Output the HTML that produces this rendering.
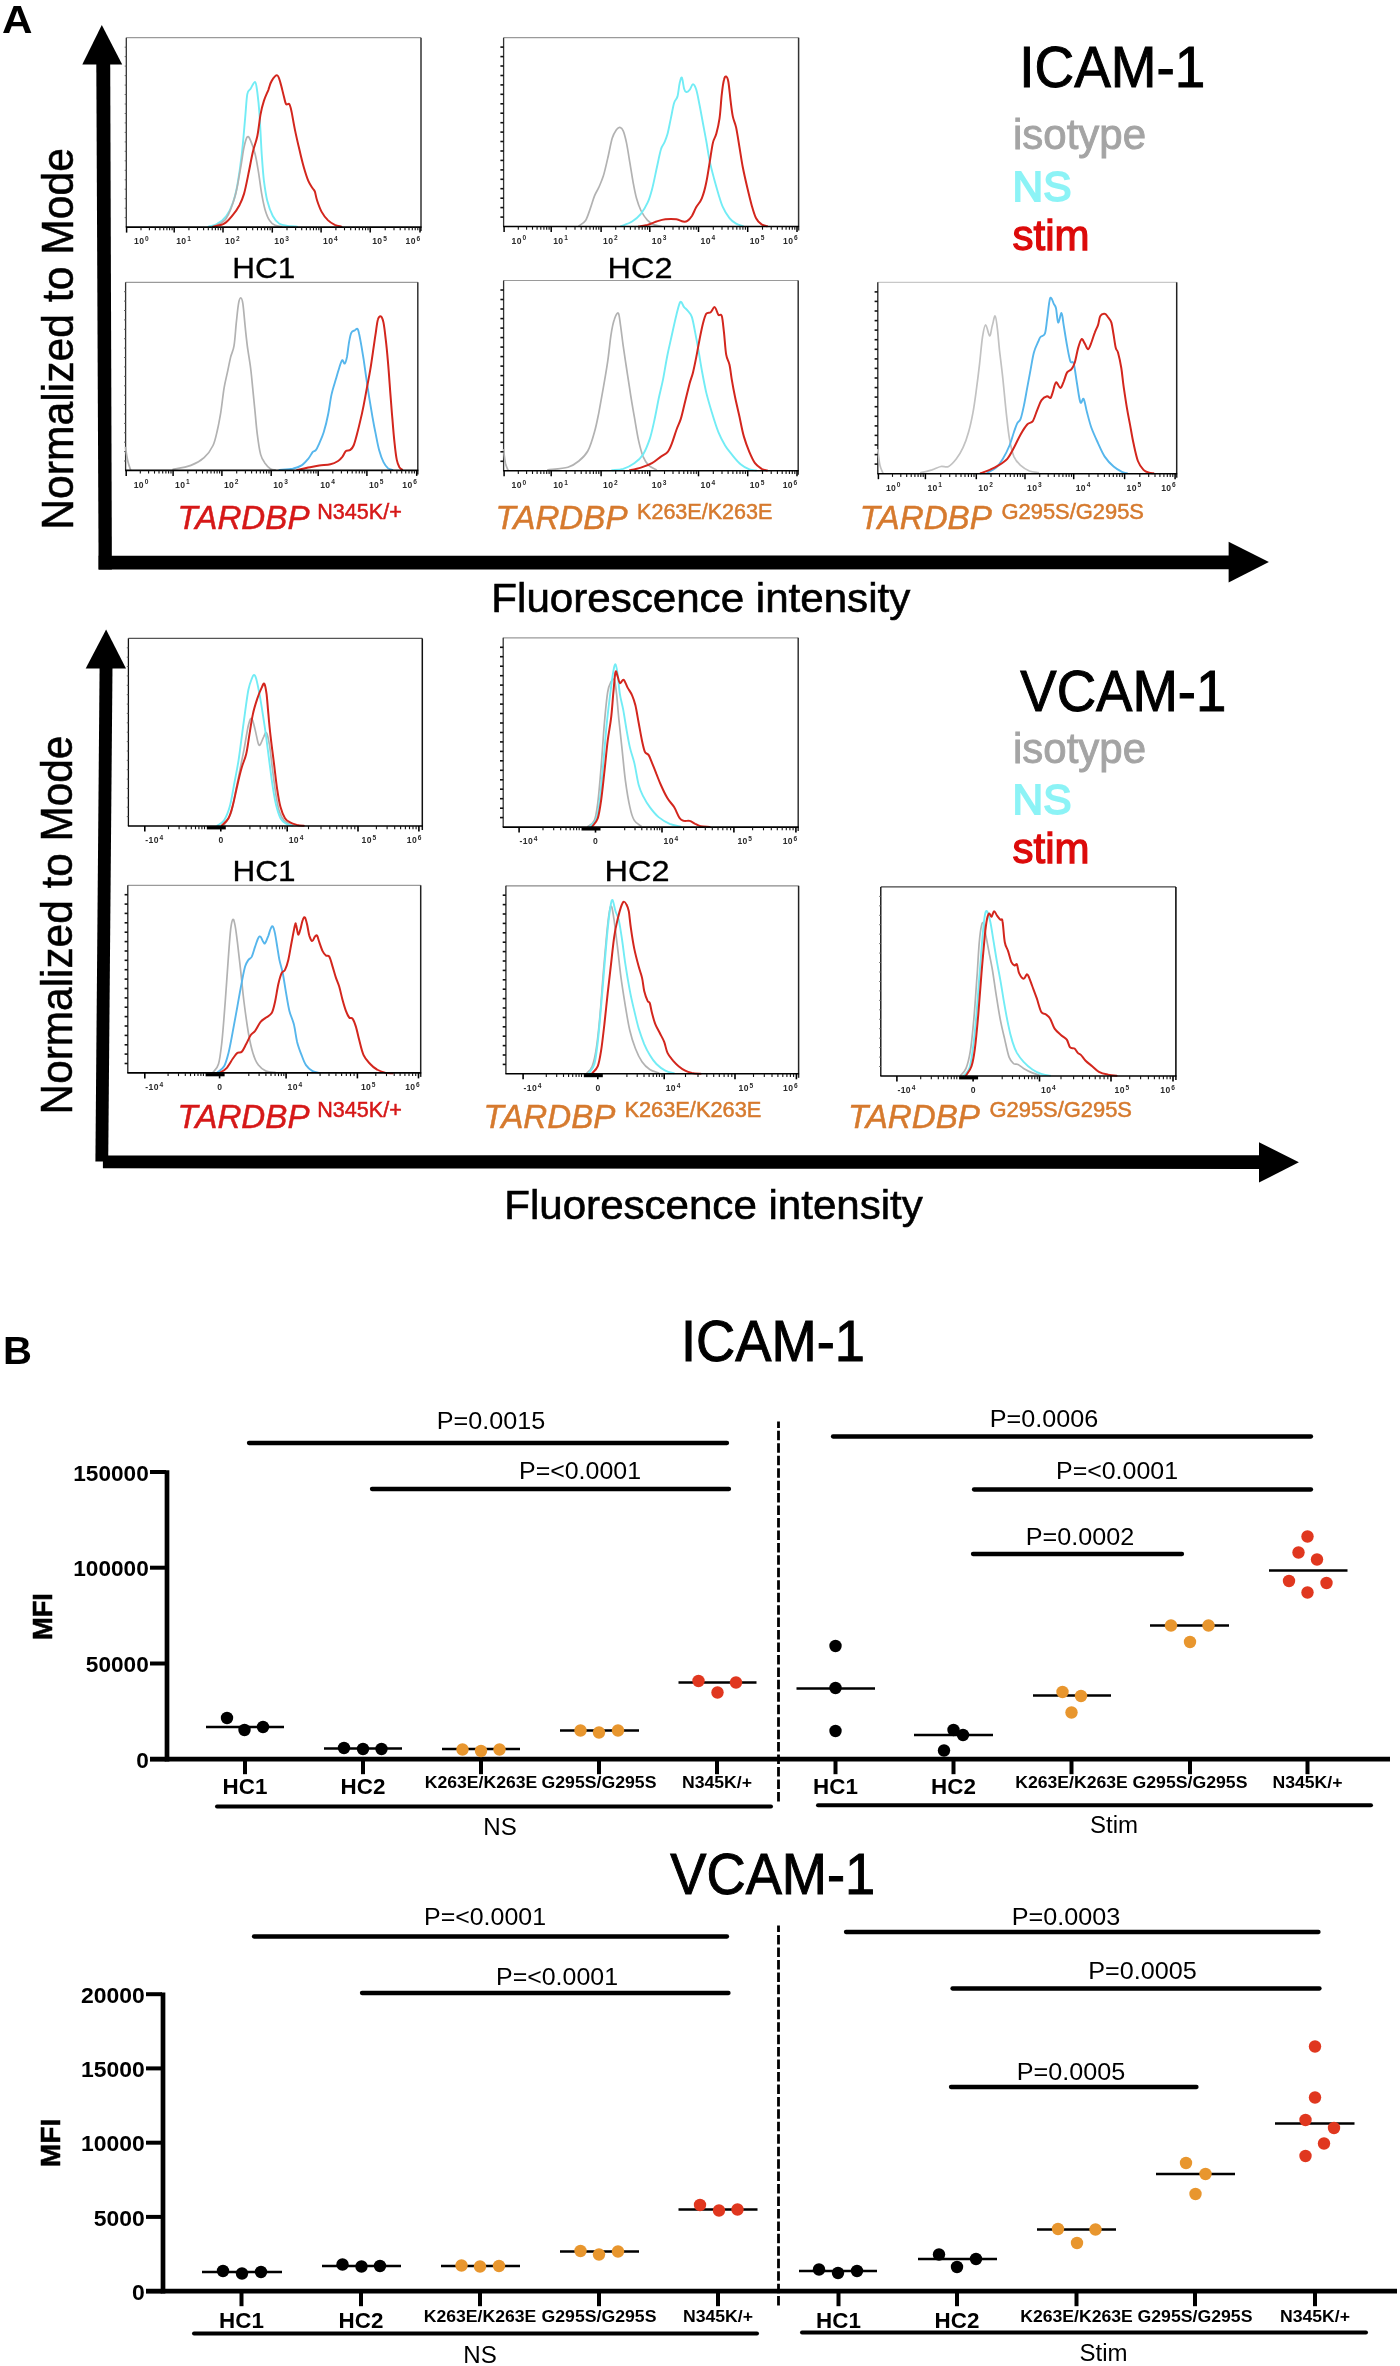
<!DOCTYPE html>
<html><head><meta charset="utf-8"><title>Figure</title>
<style>
html,body{margin:0;padding:0;background:#fff;}
body{width:1400px;height:2366px;overflow:hidden;font-family:"Liberation Sans",sans-serif;}
svg{display:block;filter:blur(0.45px);}
svg text{font-family:"Liberation Sans",sans-serif;}
</style></head><body>
<svg width="1400" height="2366" viewBox="0 0 1400 2366">
<rect x="0" y="0" width="1400" height="2366" fill="#ffffff"/>
<line x1="126.3" y1="37.7" x2="421.0" y2="37.7" stroke="#9a9a9a" stroke-width="1.2" stroke-linecap="butt" />
<line x1="126.3" y1="37.7" x2="126.3" y2="227.1" stroke="#333" stroke-width="1.3" stroke-linecap="butt" />
<line x1="421.0" y1="37.7" x2="421.0" y2="231.1" stroke="#333" stroke-width="1.5" stroke-linecap="butt" />
<path d="M208.6,226.6 C210.0,226.1 214.5,225.5 217.4,223.7 C220.4,222.0 223.7,219.5 226.3,216.0 C228.9,212.5 231.1,207.9 232.9,202.7 C234.8,197.5 235.9,193.1 237.4,185.0 C238.8,176.9 240.5,165.1 241.8,154.0 C243.1,142.9 244.2,128.5 245.1,118.6 C246.0,108.6 246.4,99.2 247.3,94.2 C248.2,89.2 249.4,90.7 250.6,88.7 C251.9,86.6 254.0,81.5 255.1,82.0 C256.2,82.6 256.5,86.6 257.3,92.0 C258.0,97.4 258.8,103.8 259.5,114.1 C260.2,124.5 261.0,142.9 261.7,154.0 C262.5,165.1 263.0,172.8 263.9,180.6 C264.9,188.3 265.8,194.6 267.2,200.5 C268.7,206.4 270.8,212.1 272.8,216.0 C274.8,219.9 276.8,222.1 279.4,223.7 C282.0,225.4 285.3,225.5 288.3,226.0 C291.2,226.4 295.7,226.5 297.1,226.6" fill="none" stroke="#72ecf5" stroke-width="1.9" stroke-linejoin="round" stroke-linecap="round"/>
<path d="M215.2,226.0 C217.1,224.7 223.0,223.2 226.3,218.2 C229.6,213.2 232.7,204.6 235.1,196.1 C237.5,187.6 239.2,175.4 240.7,167.3 C242.2,159.2 242.9,152.4 244.0,147.4 C245.1,142.3 246.2,138.1 247.3,136.9 C248.4,135.8 249.4,137.9 250.6,140.7 C251.9,143.6 253.8,148.8 255.1,154.0 C256.4,159.2 257.3,165.1 258.4,171.7 C259.5,178.4 260.6,187.6 261.7,193.9 C262.8,200.1 263.7,204.9 265.0,209.4 C266.3,213.8 267.8,217.8 269.5,220.4 C271.1,223.1 273.0,224.3 275.0,225.3 C277.0,226.3 280.5,226.4 281.6,226.6" fill="none" stroke="#b2b2b2" stroke-width="1.7" stroke-linejoin="round" stroke-linecap="round"/>
<path d="M213.0,226.6 C214.8,226.1 220.8,225.7 224.1,223.7 C227.4,221.8 230.3,218.0 232.9,214.9 C235.5,211.8 237.7,208.4 239.6,204.9 C241.4,201.4 242.5,199.0 244.0,193.9 C245.5,188.7 247.0,180.9 248.4,173.9 C249.9,166.9 251.4,158.1 252.9,151.8 C254.3,145.5 256.0,142.6 257.3,136.3 C258.6,130.0 259.5,120.0 260.6,114.1 C261.7,108.2 262.6,104.9 263.9,100.9 C265.2,96.8 267.1,93.1 268.4,89.8 C269.6,86.5 270.2,83.3 271.7,80.9 C273.2,78.5 275.7,75.0 277.2,75.4 C278.7,75.8 279.4,79.6 280.5,83.1 C281.6,86.6 282.9,92.9 283.9,96.4 C284.8,99.9 285.1,102.9 286.1,104.2 C287.0,105.5 288.5,102.9 289.4,104.2 C290.3,105.5 290.7,107.7 291.6,111.9 C292.5,116.2 293.6,123.4 294.9,129.6 C296.2,135.9 297.9,143.3 299.4,149.6 C300.8,155.8 302.3,162.1 303.8,167.3 C305.3,172.5 306.7,177.1 308.2,180.6 C309.7,184.1 311.5,186.5 312.6,188.3 C313.8,190.2 314.1,189.6 314.9,191.6 C315.6,193.7 316.0,197.2 317.1,200.5 C318.2,203.8 319.7,208.2 321.5,211.6 C323.3,214.9 325.9,218.2 328.1,220.4 C330.4,222.6 332.6,223.8 334.8,224.9 C337.0,225.9 340.3,226.3 341.4,226.6" fill="none" stroke="#d3261d" stroke-width="2.0" stroke-linejoin="round" stroke-linecap="round"/>
<line x1="125.8" y1="227.1" x2="421.5" y2="227.1" stroke="#000" stroke-width="1.6" stroke-linecap="butt" />
<line x1="124.7" y1="217.6" x2="126.3" y2="217.6" stroke="#666" stroke-width="1.0" stroke-linecap="butt" />
<line x1="124.7" y1="208.2" x2="126.3" y2="208.2" stroke="#666" stroke-width="1.0" stroke-linecap="butt" />
<line x1="124.7" y1="198.7" x2="126.3" y2="198.7" stroke="#666" stroke-width="1.0" stroke-linecap="butt" />
<line x1="124.7" y1="189.2" x2="126.3" y2="189.2" stroke="#666" stroke-width="1.0" stroke-linecap="butt" />
<line x1="124.7" y1="179.8" x2="126.3" y2="179.8" stroke="#666" stroke-width="1.0" stroke-linecap="butt" />
<line x1="124.7" y1="170.3" x2="126.3" y2="170.3" stroke="#666" stroke-width="1.0" stroke-linecap="butt" />
<line x1="124.7" y1="160.8" x2="126.3" y2="160.8" stroke="#666" stroke-width="1.0" stroke-linecap="butt" />
<line x1="124.7" y1="151.3" x2="126.3" y2="151.3" stroke="#666" stroke-width="1.0" stroke-linecap="butt" />
<line x1="124.7" y1="141.9" x2="126.3" y2="141.9" stroke="#666" stroke-width="1.0" stroke-linecap="butt" />
<line x1="124.7" y1="132.4" x2="126.3" y2="132.4" stroke="#666" stroke-width="1.0" stroke-linecap="butt" />
<line x1="124.7" y1="122.9" x2="126.3" y2="122.9" stroke="#666" stroke-width="1.0" stroke-linecap="butt" />
<line x1="124.7" y1="113.5" x2="126.3" y2="113.5" stroke="#666" stroke-width="1.0" stroke-linecap="butt" />
<line x1="124.7" y1="104.0" x2="126.3" y2="104.0" stroke="#666" stroke-width="1.0" stroke-linecap="butt" />
<line x1="124.7" y1="94.5" x2="126.3" y2="94.5" stroke="#666" stroke-width="1.0" stroke-linecap="butt" />
<line x1="124.7" y1="85.1" x2="126.3" y2="85.1" stroke="#666" stroke-width="1.0" stroke-linecap="butt" />
<line x1="124.7" y1="75.6" x2="126.3" y2="75.6" stroke="#666" stroke-width="1.0" stroke-linecap="butt" />
<line x1="124.7" y1="66.1" x2="126.3" y2="66.1" stroke="#666" stroke-width="1.0" stroke-linecap="butt" />
<line x1="124.7" y1="56.6" x2="126.3" y2="56.6" stroke="#666" stroke-width="1.0" stroke-linecap="butt" />
<line x1="124.7" y1="47.2" x2="126.3" y2="47.2" stroke="#666" stroke-width="1.0" stroke-linecap="butt" />
<line x1="126.6" y1="227.1" x2="126.6" y2="232.6" stroke="#000" stroke-width="1.5" stroke-linecap="butt" />
<line x1="141.0" y1="227.1" x2="141.0" y2="230.3" stroke="#111" stroke-width="1.1" stroke-linecap="butt" />
<line x1="149.4" y1="227.1" x2="149.4" y2="230.3" stroke="#111" stroke-width="1.1" stroke-linecap="butt" />
<line x1="155.3" y1="227.1" x2="155.3" y2="230.3" stroke="#111" stroke-width="1.1" stroke-linecap="butt" />
<line x1="159.9" y1="227.1" x2="159.9" y2="230.3" stroke="#111" stroke-width="1.1" stroke-linecap="butt" />
<line x1="163.7" y1="227.1" x2="163.7" y2="230.3" stroke="#111" stroke-width="1.1" stroke-linecap="butt" />
<line x1="166.9" y1="227.1" x2="166.9" y2="230.3" stroke="#111" stroke-width="1.1" stroke-linecap="butt" />
<line x1="169.6" y1="227.1" x2="169.6" y2="230.3" stroke="#111" stroke-width="1.1" stroke-linecap="butt" />
<line x1="172.1" y1="227.1" x2="172.1" y2="230.3" stroke="#111" stroke-width="1.1" stroke-linecap="butt" />
<line x1="174.2" y1="227.1" x2="174.2" y2="232.6" stroke="#000" stroke-width="1.5" stroke-linecap="butt" />
<line x1="188.9" y1="227.1" x2="188.9" y2="230.3" stroke="#111" stroke-width="1.1" stroke-linecap="butt" />
<line x1="197.5" y1="227.1" x2="197.5" y2="230.3" stroke="#111" stroke-width="1.1" stroke-linecap="butt" />
<line x1="203.6" y1="227.1" x2="203.6" y2="230.3" stroke="#111" stroke-width="1.1" stroke-linecap="butt" />
<line x1="208.3" y1="227.1" x2="208.3" y2="230.3" stroke="#111" stroke-width="1.1" stroke-linecap="butt" />
<line x1="212.2" y1="227.1" x2="212.2" y2="230.3" stroke="#111" stroke-width="1.1" stroke-linecap="butt" />
<line x1="215.4" y1="227.1" x2="215.4" y2="230.3" stroke="#111" stroke-width="1.1" stroke-linecap="butt" />
<line x1="218.2" y1="227.1" x2="218.2" y2="230.3" stroke="#111" stroke-width="1.1" stroke-linecap="butt" />
<line x1="220.7" y1="227.1" x2="220.7" y2="230.3" stroke="#111" stroke-width="1.1" stroke-linecap="butt" />
<line x1="223.0" y1="227.1" x2="223.0" y2="232.6" stroke="#000" stroke-width="1.5" stroke-linecap="butt" />
<line x1="237.8" y1="227.1" x2="237.8" y2="230.3" stroke="#111" stroke-width="1.1" stroke-linecap="butt" />
<line x1="246.5" y1="227.1" x2="246.5" y2="230.3" stroke="#111" stroke-width="1.1" stroke-linecap="butt" />
<line x1="252.7" y1="227.1" x2="252.7" y2="230.3" stroke="#111" stroke-width="1.1" stroke-linecap="butt" />
<line x1="257.5" y1="227.1" x2="257.5" y2="230.3" stroke="#111" stroke-width="1.1" stroke-linecap="butt" />
<line x1="261.4" y1="227.1" x2="261.4" y2="230.3" stroke="#111" stroke-width="1.1" stroke-linecap="butt" />
<line x1="264.7" y1="227.1" x2="264.7" y2="230.3" stroke="#111" stroke-width="1.1" stroke-linecap="butt" />
<line x1="267.6" y1="227.1" x2="267.6" y2="230.3" stroke="#111" stroke-width="1.1" stroke-linecap="butt" />
<line x1="270.1" y1="227.1" x2="270.1" y2="230.3" stroke="#111" stroke-width="1.1" stroke-linecap="butt" />
<line x1="272.3" y1="227.1" x2="272.3" y2="232.6" stroke="#000" stroke-width="1.5" stroke-linecap="butt" />
<line x1="287.0" y1="227.1" x2="287.0" y2="230.3" stroke="#111" stroke-width="1.1" stroke-linecap="butt" />
<line x1="295.6" y1="227.1" x2="295.6" y2="230.3" stroke="#111" stroke-width="1.1" stroke-linecap="butt" />
<line x1="301.7" y1="227.1" x2="301.7" y2="230.3" stroke="#111" stroke-width="1.1" stroke-linecap="butt" />
<line x1="306.4" y1="227.1" x2="306.4" y2="230.3" stroke="#111" stroke-width="1.1" stroke-linecap="butt" />
<line x1="310.2" y1="227.1" x2="310.2" y2="230.3" stroke="#111" stroke-width="1.1" stroke-linecap="butt" />
<line x1="313.5" y1="227.1" x2="313.5" y2="230.3" stroke="#111" stroke-width="1.1" stroke-linecap="butt" />
<line x1="316.3" y1="227.1" x2="316.3" y2="230.3" stroke="#111" stroke-width="1.1" stroke-linecap="butt" />
<line x1="318.8" y1="227.1" x2="318.8" y2="230.3" stroke="#111" stroke-width="1.1" stroke-linecap="butt" />
<line x1="321.1" y1="227.1" x2="321.1" y2="232.6" stroke="#000" stroke-width="1.5" stroke-linecap="butt" />
<line x1="335.9" y1="227.1" x2="335.9" y2="230.3" stroke="#111" stroke-width="1.1" stroke-linecap="butt" />
<line x1="344.5" y1="227.1" x2="344.5" y2="230.3" stroke="#111" stroke-width="1.1" stroke-linecap="butt" />
<line x1="350.7" y1="227.1" x2="350.7" y2="230.3" stroke="#111" stroke-width="1.1" stroke-linecap="butt" />
<line x1="355.4" y1="227.1" x2="355.4" y2="230.3" stroke="#111" stroke-width="1.1" stroke-linecap="butt" />
<line x1="359.3" y1="227.1" x2="359.3" y2="230.3" stroke="#111" stroke-width="1.1" stroke-linecap="butt" />
<line x1="362.6" y1="227.1" x2="362.6" y2="230.3" stroke="#111" stroke-width="1.1" stroke-linecap="butt" />
<line x1="365.5" y1="227.1" x2="365.5" y2="230.3" stroke="#111" stroke-width="1.1" stroke-linecap="butt" />
<line x1="368.0" y1="227.1" x2="368.0" y2="230.3" stroke="#111" stroke-width="1.1" stroke-linecap="butt" />
<line x1="370.2" y1="227.1" x2="370.2" y2="232.6" stroke="#000" stroke-width="1.5" stroke-linecap="butt" />
<line x1="385.2" y1="227.1" x2="385.2" y2="230.3" stroke="#111" stroke-width="1.1" stroke-linecap="butt" />
<line x1="394.0" y1="227.1" x2="394.0" y2="230.3" stroke="#111" stroke-width="1.1" stroke-linecap="butt" />
<line x1="400.2" y1="227.1" x2="400.2" y2="230.3" stroke="#111" stroke-width="1.1" stroke-linecap="butt" />
<line x1="405.0" y1="227.1" x2="405.0" y2="230.3" stroke="#111" stroke-width="1.1" stroke-linecap="butt" />
<line x1="409.0" y1="227.1" x2="409.0" y2="230.3" stroke="#111" stroke-width="1.1" stroke-linecap="butt" />
<line x1="412.3" y1="227.1" x2="412.3" y2="230.3" stroke="#111" stroke-width="1.1" stroke-linecap="butt" />
<line x1="415.2" y1="227.1" x2="415.2" y2="230.3" stroke="#111" stroke-width="1.1" stroke-linecap="butt" />
<line x1="417.8" y1="227.1" x2="417.8" y2="230.3" stroke="#111" stroke-width="1.1" stroke-linecap="butt" />
<line x1="420.0" y1="227.1" x2="420.0" y2="232.6" stroke="#000" stroke-width="1.5" stroke-linecap="butt" />
<text x="134.1" y="244.2" font-size="8.6" fill="#2a2a2a" text-anchor="start" font-weight="bold" letter-spacing="0.4">10<tspan font-size="6.6" dy="-3.4" dx="0.6">0</tspan></text>
<text x="176.2" y="244.2" font-size="8.6" fill="#2a2a2a" text-anchor="start" font-weight="bold" letter-spacing="0.4">10<tspan font-size="6.6" dy="-3.4" dx="0.6">1</tspan></text>
<text x="225.0" y="244.2" font-size="8.6" fill="#2a2a2a" text-anchor="start" font-weight="bold" letter-spacing="0.4">10<tspan font-size="6.6" dy="-3.4" dx="0.6">2</tspan></text>
<text x="274.3" y="244.2" font-size="8.6" fill="#2a2a2a" text-anchor="start" font-weight="bold" letter-spacing="0.4">10<tspan font-size="6.6" dy="-3.4" dx="0.6">3</tspan></text>
<text x="323.1" y="244.2" font-size="8.6" fill="#2a2a2a" text-anchor="start" font-weight="bold" letter-spacing="0.4">10<tspan font-size="6.6" dy="-3.4" dx="0.6">4</tspan></text>
<text x="372.2" y="244.2" font-size="8.6" fill="#2a2a2a" text-anchor="start" font-weight="bold" letter-spacing="0.4">10<tspan font-size="6.6" dy="-3.4" dx="0.6">5</tspan></text>
<text x="420.5" y="244.2" font-size="8.6" fill="#2a2a2a" text-anchor="end" font-weight="bold" letter-spacing="0.4">10<tspan font-size="6.6" dy="-3.4" dx="0.6">6</tspan></text>
<line x1="503.6" y1="37.7" x2="798.6" y2="37.7" stroke="#9a9a9a" stroke-width="1.2" stroke-linecap="butt" />
<line x1="503.6" y1="37.7" x2="503.6" y2="226.5" stroke="#333" stroke-width="1.3" stroke-linecap="butt" />
<line x1="798.6" y1="37.7" x2="798.6" y2="230.5" stroke="#333" stroke-width="1.5" stroke-linecap="butt" />
<path d="M578.9,226.0 C580.0,225.0 583.7,223.2 585.6,220.4 C587.4,217.7 588.5,213.4 590.0,209.4 C591.5,205.3 593.0,199.8 594.4,196.1 C595.9,192.4 597.4,190.5 598.9,187.2 C600.3,183.9 601.8,180.9 603.3,176.1 C604.8,171.3 606.2,164.7 607.7,158.4 C609.2,152.2 610.7,143.3 612.1,138.5 C613.6,133.7 615.3,131.5 616.6,129.6 C617.9,127.8 618.8,127.2 619.9,127.4 C621.0,127.6 622.1,128.2 623.2,130.8 C624.3,133.3 625.4,137.6 626.5,142.9 C627.6,148.3 628.8,156.2 629.9,162.9 C631.0,169.5 632.1,176.9 633.2,182.8 C634.3,188.7 635.2,193.7 636.5,198.3 C637.8,202.9 639.1,206.8 640.9,210.5 C642.8,214.2 645.4,218.0 647.6,220.4 C649.8,222.8 652.0,223.9 654.2,224.9 C656.4,225.8 659.8,226.0 660.9,226.2" fill="none" stroke="#b2b2b2" stroke-width="1.7" stroke-linejoin="round" stroke-linecap="round"/>
<path d="M621.0,226.2 C622.8,225.4 628.8,223.6 632.1,221.5 C635.4,219.5 638.3,216.9 640.9,213.8 C643.5,210.6 645.7,206.8 647.6,202.7 C649.4,198.7 650.5,195.0 652.0,189.4 C653.5,183.9 655.0,176.1 656.4,169.5 C657.9,162.9 659.6,154.0 660.9,149.6 C662.1,145.1 663.1,145.5 664.2,142.9 C665.3,140.3 666.4,138.1 667.5,134.1 C668.6,130.0 669.7,123.7 670.8,118.6 C671.9,113.4 673.0,106.8 674.1,103.1 C675.2,99.4 676.5,99.7 677.5,96.4 C678.4,93.1 678.9,86.3 679.7,83.1 C680.4,80.0 681.2,76.7 681.9,77.6 C682.6,78.5 683.4,86.3 684.1,88.7 C684.8,91.1 685.4,91.8 686.3,92.0 C687.2,92.2 688.5,91.1 689.6,89.8 C690.8,88.5 691.9,84.2 693.0,84.2 C694.1,84.2 695.2,86.3 696.3,89.8 C697.4,93.3 698.5,99.8 699.6,105.3 C700.7,110.8 701.8,117.1 702.9,123.0 C704.0,128.9 705.1,134.4 706.2,140.7 C707.4,147.0 708.3,154.4 709.6,160.6 C710.9,166.9 712.5,172.8 714.0,178.4 C715.5,183.9 717.0,189.1 718.4,193.9 C719.9,198.7 721.0,203.1 722.9,207.1 C724.7,211.2 727.3,215.4 729.5,218.2 C731.7,221.0 733.9,222.5 736.1,223.7 C738.4,225.0 741.7,225.6 742.8,226.0" fill="none" stroke="#72ecf5" stroke-width="1.9" stroke-linejoin="round" stroke-linecap="round"/>
<path d="M638.7,226.6 C640.2,226.3 644.6,225.7 647.6,224.9 C650.5,224.0 653.5,222.5 656.4,221.5 C659.4,220.6 662.0,219.7 665.3,219.3 C668.6,219.0 673.4,219.0 676.4,219.3 C679.3,219.7 681.2,221.3 683.0,221.5 C684.8,221.8 686.0,221.8 687.4,220.9 C688.9,219.9 690.4,218.3 691.9,216.0 C693.3,213.7 694.6,210.1 696.3,207.1 C697.9,204.2 700.2,202.3 701.8,198.3 C703.5,194.2 705.0,188.7 706.2,182.8 C707.5,176.9 708.5,169.5 709.6,162.9 C710.7,156.2 711.8,147.7 712.9,142.9 C714.0,138.1 715.1,138.1 716.2,134.1 C717.3,130.0 718.6,125.2 719.5,118.6 C720.5,111.9 721.0,100.7 721.8,94.2 C722.5,87.8 723.2,82.8 724.0,79.8 C724.7,76.9 725.4,76.1 726.2,76.5 C726.9,76.9 727.7,78.0 728.4,82.0 C729.1,86.1 729.9,95.1 730.6,100.9 C731.3,106.6 731.9,111.9 732.8,116.4 C733.7,120.8 735.0,122.3 736.1,127.4 C737.2,132.6 738.4,140.7 739.5,147.4 C740.6,154.0 741.5,160.6 742.8,167.3 C744.1,173.9 745.7,180.9 747.2,187.2 C748.7,193.5 750.2,199.8 751.6,204.9 C753.1,210.1 754.4,215.0 756.1,218.2 C757.7,221.5 759.8,223.1 761.6,224.4 C763.5,225.7 766.2,225.9 767.1,226.2" fill="none" stroke="#d3261d" stroke-width="2.0" stroke-linejoin="round" stroke-linecap="round"/>
<line x1="503.1" y1="226.5" x2="799.1" y2="226.5" stroke="#000" stroke-width="1.6" stroke-linecap="butt" />
<line x1="500.4" y1="217.1" x2="503.6" y2="217.1" stroke="#111" stroke-width="1.6" stroke-linecap="butt" />
<line x1="500.4" y1="207.6" x2="503.6" y2="207.6" stroke="#111" stroke-width="1.6" stroke-linecap="butt" />
<line x1="500.4" y1="198.2" x2="503.6" y2="198.2" stroke="#111" stroke-width="1.6" stroke-linecap="butt" />
<line x1="500.4" y1="188.7" x2="503.6" y2="188.7" stroke="#111" stroke-width="1.6" stroke-linecap="butt" />
<line x1="500.4" y1="179.3" x2="503.6" y2="179.3" stroke="#111" stroke-width="1.6" stroke-linecap="butt" />
<line x1="500.4" y1="169.9" x2="503.6" y2="169.9" stroke="#111" stroke-width="1.6" stroke-linecap="butt" />
<line x1="500.4" y1="160.4" x2="503.6" y2="160.4" stroke="#111" stroke-width="1.6" stroke-linecap="butt" />
<line x1="500.4" y1="151.0" x2="503.6" y2="151.0" stroke="#111" stroke-width="1.6" stroke-linecap="butt" />
<line x1="500.4" y1="141.5" x2="503.6" y2="141.5" stroke="#111" stroke-width="1.6" stroke-linecap="butt" />
<line x1="500.4" y1="132.1" x2="503.6" y2="132.1" stroke="#111" stroke-width="1.6" stroke-linecap="butt" />
<line x1="500.4" y1="122.7" x2="503.6" y2="122.7" stroke="#111" stroke-width="1.6" stroke-linecap="butt" />
<line x1="500.4" y1="113.2" x2="503.6" y2="113.2" stroke="#111" stroke-width="1.6" stroke-linecap="butt" />
<line x1="500.4" y1="103.8" x2="503.6" y2="103.8" stroke="#111" stroke-width="1.6" stroke-linecap="butt" />
<line x1="500.4" y1="94.3" x2="503.6" y2="94.3" stroke="#111" stroke-width="1.6" stroke-linecap="butt" />
<line x1="500.4" y1="84.9" x2="503.6" y2="84.9" stroke="#111" stroke-width="1.6" stroke-linecap="butt" />
<line x1="500.4" y1="75.5" x2="503.6" y2="75.5" stroke="#111" stroke-width="1.6" stroke-linecap="butt" />
<line x1="500.4" y1="66.0" x2="503.6" y2="66.0" stroke="#111" stroke-width="1.6" stroke-linecap="butt" />
<line x1="500.4" y1="56.6" x2="503.6" y2="56.6" stroke="#111" stroke-width="1.6" stroke-linecap="butt" />
<line x1="500.4" y1="47.1" x2="503.6" y2="47.1" stroke="#111" stroke-width="1.6" stroke-linecap="butt" />
<line x1="504.1" y1="226.5" x2="504.1" y2="232.0" stroke="#000" stroke-width="1.5" stroke-linecap="butt" />
<line x1="518.3" y1="226.5" x2="518.3" y2="229.7" stroke="#111" stroke-width="1.1" stroke-linecap="butt" />
<line x1="526.6" y1="226.5" x2="526.6" y2="229.7" stroke="#111" stroke-width="1.1" stroke-linecap="butt" />
<line x1="532.5" y1="226.5" x2="532.5" y2="229.7" stroke="#111" stroke-width="1.1" stroke-linecap="butt" />
<line x1="537.1" y1="226.5" x2="537.1" y2="229.7" stroke="#111" stroke-width="1.1" stroke-linecap="butt" />
<line x1="540.8" y1="226.5" x2="540.8" y2="229.7" stroke="#111" stroke-width="1.1" stroke-linecap="butt" />
<line x1="543.9" y1="226.5" x2="543.9" y2="229.7" stroke="#111" stroke-width="1.1" stroke-linecap="butt" />
<line x1="546.7" y1="226.5" x2="546.7" y2="229.7" stroke="#111" stroke-width="1.1" stroke-linecap="butt" />
<line x1="549.1" y1="226.5" x2="549.1" y2="229.7" stroke="#111" stroke-width="1.1" stroke-linecap="butt" />
<line x1="551.2" y1="226.5" x2="551.2" y2="232.0" stroke="#000" stroke-width="1.5" stroke-linecap="butt" />
<line x1="566.2" y1="226.5" x2="566.2" y2="229.7" stroke="#111" stroke-width="1.1" stroke-linecap="butt" />
<line x1="575.0" y1="226.5" x2="575.0" y2="229.7" stroke="#111" stroke-width="1.1" stroke-linecap="butt" />
<line x1="581.2" y1="226.5" x2="581.2" y2="229.7" stroke="#111" stroke-width="1.1" stroke-linecap="butt" />
<line x1="586.1" y1="226.5" x2="586.1" y2="229.7" stroke="#111" stroke-width="1.1" stroke-linecap="butt" />
<line x1="590.0" y1="226.5" x2="590.0" y2="229.7" stroke="#111" stroke-width="1.1" stroke-linecap="butt" />
<line x1="593.4" y1="226.5" x2="593.4" y2="229.7" stroke="#111" stroke-width="1.1" stroke-linecap="butt" />
<line x1="596.2" y1="226.5" x2="596.2" y2="229.7" stroke="#111" stroke-width="1.1" stroke-linecap="butt" />
<line x1="598.8" y1="226.5" x2="598.8" y2="229.7" stroke="#111" stroke-width="1.1" stroke-linecap="butt" />
<line x1="601.1" y1="226.5" x2="601.1" y2="232.0" stroke="#000" stroke-width="1.5" stroke-linecap="butt" />
<line x1="615.7" y1="226.5" x2="615.7" y2="229.7" stroke="#111" stroke-width="1.1" stroke-linecap="butt" />
<line x1="624.3" y1="226.5" x2="624.3" y2="229.7" stroke="#111" stroke-width="1.1" stroke-linecap="butt" />
<line x1="630.4" y1="226.5" x2="630.4" y2="229.7" stroke="#111" stroke-width="1.1" stroke-linecap="butt" />
<line x1="635.1" y1="226.5" x2="635.1" y2="229.7" stroke="#111" stroke-width="1.1" stroke-linecap="butt" />
<line x1="639.0" y1="226.5" x2="639.0" y2="229.7" stroke="#111" stroke-width="1.1" stroke-linecap="butt" />
<line x1="642.2" y1="226.5" x2="642.2" y2="229.7" stroke="#111" stroke-width="1.1" stroke-linecap="butt" />
<line x1="645.1" y1="226.5" x2="645.1" y2="229.7" stroke="#111" stroke-width="1.1" stroke-linecap="butt" />
<line x1="647.6" y1="226.5" x2="647.6" y2="229.7" stroke="#111" stroke-width="1.1" stroke-linecap="butt" />
<line x1="649.8" y1="226.5" x2="649.8" y2="232.0" stroke="#000" stroke-width="1.5" stroke-linecap="butt" />
<line x1="664.5" y1="226.5" x2="664.5" y2="229.7" stroke="#111" stroke-width="1.1" stroke-linecap="butt" />
<line x1="673.0" y1="226.5" x2="673.0" y2="229.7" stroke="#111" stroke-width="1.1" stroke-linecap="butt" />
<line x1="679.1" y1="226.5" x2="679.1" y2="229.7" stroke="#111" stroke-width="1.1" stroke-linecap="butt" />
<line x1="683.8" y1="226.5" x2="683.8" y2="229.7" stroke="#111" stroke-width="1.1" stroke-linecap="butt" />
<line x1="687.7" y1="226.5" x2="687.7" y2="229.7" stroke="#111" stroke-width="1.1" stroke-linecap="butt" />
<line x1="691.0" y1="226.5" x2="691.0" y2="229.7" stroke="#111" stroke-width="1.1" stroke-linecap="butt" />
<line x1="693.8" y1="226.5" x2="693.8" y2="229.7" stroke="#111" stroke-width="1.1" stroke-linecap="butt" />
<line x1="696.3" y1="226.5" x2="696.3" y2="229.7" stroke="#111" stroke-width="1.1" stroke-linecap="butt" />
<line x1="698.5" y1="226.5" x2="698.5" y2="232.0" stroke="#000" stroke-width="1.5" stroke-linecap="butt" />
<line x1="713.3" y1="226.5" x2="713.3" y2="229.7" stroke="#111" stroke-width="1.1" stroke-linecap="butt" />
<line x1="722.0" y1="226.5" x2="722.0" y2="229.7" stroke="#111" stroke-width="1.1" stroke-linecap="butt" />
<line x1="728.1" y1="226.5" x2="728.1" y2="229.7" stroke="#111" stroke-width="1.1" stroke-linecap="butt" />
<line x1="732.9" y1="226.5" x2="732.9" y2="229.7" stroke="#111" stroke-width="1.1" stroke-linecap="butt" />
<line x1="736.8" y1="226.5" x2="736.8" y2="229.7" stroke="#111" stroke-width="1.1" stroke-linecap="butt" />
<line x1="740.0" y1="226.5" x2="740.0" y2="229.7" stroke="#111" stroke-width="1.1" stroke-linecap="butt" />
<line x1="742.9" y1="226.5" x2="742.9" y2="229.7" stroke="#111" stroke-width="1.1" stroke-linecap="butt" />
<line x1="745.4" y1="226.5" x2="745.4" y2="229.7" stroke="#111" stroke-width="1.1" stroke-linecap="butt" />
<line x1="747.7" y1="226.5" x2="747.7" y2="232.0" stroke="#000" stroke-width="1.5" stroke-linecap="butt" />
<line x1="762.5" y1="226.5" x2="762.5" y2="229.7" stroke="#111" stroke-width="1.1" stroke-linecap="butt" />
<line x1="771.2" y1="226.5" x2="771.2" y2="229.7" stroke="#111" stroke-width="1.1" stroke-linecap="butt" />
<line x1="777.4" y1="226.5" x2="777.4" y2="229.7" stroke="#111" stroke-width="1.1" stroke-linecap="butt" />
<line x1="782.2" y1="226.5" x2="782.2" y2="229.7" stroke="#111" stroke-width="1.1" stroke-linecap="butt" />
<line x1="786.1" y1="226.5" x2="786.1" y2="229.7" stroke="#111" stroke-width="1.1" stroke-linecap="butt" />
<line x1="789.4" y1="226.5" x2="789.4" y2="229.7" stroke="#111" stroke-width="1.1" stroke-linecap="butt" />
<line x1="792.3" y1="226.5" x2="792.3" y2="229.7" stroke="#111" stroke-width="1.1" stroke-linecap="butt" />
<line x1="794.8" y1="226.5" x2="794.8" y2="229.7" stroke="#111" stroke-width="1.1" stroke-linecap="butt" />
<line x1="797.0" y1="226.5" x2="797.0" y2="232.0" stroke="#000" stroke-width="1.5" stroke-linecap="butt" />
<text x="511.6" y="243.6" font-size="8.6" fill="#2a2a2a" text-anchor="start" font-weight="bold" letter-spacing="0.4">10<tspan font-size="6.6" dy="-3.4" dx="0.6">0</tspan></text>
<text x="553.2" y="243.6" font-size="8.6" fill="#2a2a2a" text-anchor="start" font-weight="bold" letter-spacing="0.4">10<tspan font-size="6.6" dy="-3.4" dx="0.6">1</tspan></text>
<text x="603.1" y="243.6" font-size="8.6" fill="#2a2a2a" text-anchor="start" font-weight="bold" letter-spacing="0.4">10<tspan font-size="6.6" dy="-3.4" dx="0.6">2</tspan></text>
<text x="651.8" y="243.6" font-size="8.6" fill="#2a2a2a" text-anchor="start" font-weight="bold" letter-spacing="0.4">10<tspan font-size="6.6" dy="-3.4" dx="0.6">3</tspan></text>
<text x="700.5" y="243.6" font-size="8.6" fill="#2a2a2a" text-anchor="start" font-weight="bold" letter-spacing="0.4">10<tspan font-size="6.6" dy="-3.4" dx="0.6">4</tspan></text>
<text x="749.7" y="243.6" font-size="8.6" fill="#2a2a2a" text-anchor="start" font-weight="bold" letter-spacing="0.4">10<tspan font-size="6.6" dy="-3.4" dx="0.6">5</tspan></text>
<text x="798.1" y="243.6" font-size="8.6" fill="#2a2a2a" text-anchor="end" font-weight="bold" letter-spacing="0.4">10<tspan font-size="6.6" dy="-3.4" dx="0.6">6</tspan></text>
<line x1="125.6" y1="282.3" x2="417.8" y2="282.3" stroke="#9a9a9a" stroke-width="1.2" stroke-linecap="butt" />
<line x1="125.6" y1="282.3" x2="125.6" y2="470.4" stroke="#333" stroke-width="1.3" stroke-linecap="butt" />
<line x1="417.8" y1="282.3" x2="417.8" y2="474.4" stroke="#333" stroke-width="1.5" stroke-linecap="butt" />
<path d="M125.5,447.7 C125.9,449.9 126.9,457.3 127.8,461.0 C128.6,464.7 130.1,468.4 130.6,469.9" fill="none" stroke="#b2b2b2" stroke-width="1.7" stroke-linejoin="round" stroke-linecap="round"/>
<path d="M173.1,469.4 C176.1,468.8 185.7,467.4 190.9,465.4 C196.0,463.5 200.5,461.0 204.1,457.7 C207.8,454.4 210.8,450.1 213.0,445.5 C215.2,440.9 216.1,435.5 217.4,430.0 C218.7,424.5 219.6,419.3 220.8,412.3 C221.9,405.3 223.0,394.6 224.1,387.9 C225.2,381.3 226.3,377.6 227.4,372.4 C228.5,367.3 229.6,361.4 230.7,356.9 C231.8,352.5 233.1,351.4 234.0,345.9 C235.0,340.3 235.5,330.7 236.2,323.7 C237.0,316.7 237.7,308.1 238.5,303.8 C239.2,299.5 239.9,297.8 240.7,297.8 C241.4,297.8 242.2,299.1 242.9,303.8 C243.6,308.5 244.4,318.9 245.1,325.9 C245.8,332.9 246.4,338.8 247.3,345.9 C248.2,352.9 249.7,360.6 250.6,368.0 C251.6,375.4 252.1,382.8 252.9,390.1 C253.6,397.5 254.3,404.9 255.1,412.3 C255.8,419.7 256.4,427.4 257.3,434.4 C258.2,441.4 259.3,449.6 260.6,454.4 C261.9,459.2 263.4,460.8 265.0,463.2 C266.7,465.6 268.9,467.9 270.6,469.0 C272.2,470.1 274.3,469.7 275.0,469.9" fill="none" stroke="#b2b2b2" stroke-width="1.7" stroke-linejoin="round" stroke-linecap="round"/>
<path d="M279.4,469.9 C281.6,469.7 289.0,469.5 292.7,468.8 C296.4,468.0 299.0,467.1 301.6,465.4 C304.2,463.8 306.4,461.0 308.2,458.8 C310.1,456.6 311.4,453.6 312.6,452.1 C313.9,450.7 314.9,451.4 316.0,449.9 C317.1,448.5 318.0,446.2 319.3,443.3 C320.6,440.3 322.2,437.0 323.7,432.2 C325.2,427.4 326.9,420.8 328.1,414.5 C329.4,408.2 330.2,400.5 331.5,394.6 C332.8,388.7 334.6,383.5 335.9,379.1 C337.2,374.6 338.2,371.1 339.2,368.0 C340.2,364.9 341.2,361.0 342.1,360.2 C343.0,359.5 343.9,364.1 344.8,363.6 C345.6,363.0 346.2,360.6 347.0,356.9 C347.7,353.2 348.4,345.5 349.2,341.4 C349.9,337.4 350.5,334.4 351.4,332.6 C352.3,330.7 353.7,331.0 354.7,330.4 C355.7,329.7 356.6,328.3 357.4,328.8 C358.1,329.4 358.5,330.8 359.1,333.7 C359.8,336.5 360.6,341.6 361.4,345.9 C362.1,350.1 362.8,354.3 363.6,359.1 C364.3,363.9 364.9,368.4 365.8,374.6 C366.7,380.9 368.0,389.8 369.1,396.8 C370.2,403.8 371.3,410.4 372.4,416.7 C373.5,423.0 374.6,428.9 375.8,434.4 C376.9,440.0 377.8,445.3 379.1,449.9 C380.4,454.5 382.0,459.1 383.5,462.1 C385.0,465.1 386.5,466.8 387.9,468.1 C389.4,469.4 391.6,469.6 392.4,469.9" fill="none" stroke="#56b6ec" stroke-width="1.9" stroke-linejoin="round" stroke-linecap="round"/>
<path d="M297.1,469.9 C299.0,469.5 304.5,468.4 308.2,467.6 C311.9,466.9 315.6,466.0 319.3,465.4 C323.0,464.9 327.2,465.1 330.4,464.3 C333.5,463.6 336.1,462.3 338.1,461.0 C340.1,459.7 341.2,458.2 342.5,456.6 C343.8,454.9 344.6,452.1 345.9,451.0 C347.1,449.9 349.0,450.9 350.3,449.9 C351.6,449.0 352.5,448.1 353.6,445.5 C354.7,442.9 355.8,438.5 356.9,434.4 C358.0,430.4 359.1,425.9 360.2,421.1 C361.4,416.3 362.5,411.2 363.6,405.6 C364.7,400.1 365.8,393.8 366.9,387.9 C368.0,382.0 369.1,376.9 370.2,370.2 C371.3,363.6 372.6,354.3 373.5,348.1 C374.5,341.8 375.0,337.4 375.8,332.6 C376.5,327.8 377.1,322.0 378.0,319.3 C378.8,316.6 379.9,315.9 380.8,316.4 C381.8,317.0 382.7,318.8 383.5,322.6 C384.3,326.4 385.0,332.8 385.7,339.2 C386.5,345.7 387.2,352.9 387.9,361.4 C388.7,369.8 389.4,380.5 390.1,390.1 C390.9,399.7 391.6,410.1 392.4,418.9 C393.1,427.8 393.8,436.5 394.6,443.3 C395.3,450.1 396.0,455.9 396.8,459.9 C397.6,463.9 398.5,465.5 399.4,467.2 C400.4,468.9 401.8,469.4 402.3,469.9" fill="none" stroke="#d3261d" stroke-width="2.0" stroke-linejoin="round" stroke-linecap="round"/>
<line x1="125.1" y1="470.4" x2="418.3" y2="470.4" stroke="#000" stroke-width="1.6" stroke-linecap="butt" />
<line x1="124.0" y1="461.0" x2="125.6" y2="461.0" stroke="#666" stroke-width="1.0" stroke-linecap="butt" />
<line x1="124.0" y1="451.6" x2="125.6" y2="451.6" stroke="#666" stroke-width="1.0" stroke-linecap="butt" />
<line x1="124.0" y1="442.2" x2="125.6" y2="442.2" stroke="#666" stroke-width="1.0" stroke-linecap="butt" />
<line x1="124.0" y1="432.8" x2="125.6" y2="432.8" stroke="#666" stroke-width="1.0" stroke-linecap="butt" />
<line x1="124.0" y1="423.4" x2="125.6" y2="423.4" stroke="#666" stroke-width="1.0" stroke-linecap="butt" />
<line x1="124.0" y1="414.0" x2="125.6" y2="414.0" stroke="#666" stroke-width="1.0" stroke-linecap="butt" />
<line x1="124.0" y1="404.6" x2="125.6" y2="404.6" stroke="#666" stroke-width="1.0" stroke-linecap="butt" />
<line x1="124.0" y1="395.2" x2="125.6" y2="395.2" stroke="#666" stroke-width="1.0" stroke-linecap="butt" />
<line x1="124.0" y1="385.8" x2="125.6" y2="385.8" stroke="#666" stroke-width="1.0" stroke-linecap="butt" />
<line x1="124.0" y1="376.4" x2="125.6" y2="376.4" stroke="#666" stroke-width="1.0" stroke-linecap="butt" />
<line x1="124.0" y1="366.9" x2="125.6" y2="366.9" stroke="#666" stroke-width="1.0" stroke-linecap="butt" />
<line x1="124.0" y1="357.5" x2="125.6" y2="357.5" stroke="#666" stroke-width="1.0" stroke-linecap="butt" />
<line x1="124.0" y1="348.1" x2="125.6" y2="348.1" stroke="#666" stroke-width="1.0" stroke-linecap="butt" />
<line x1="124.0" y1="338.7" x2="125.6" y2="338.7" stroke="#666" stroke-width="1.0" stroke-linecap="butt" />
<line x1="124.0" y1="329.3" x2="125.6" y2="329.3" stroke="#666" stroke-width="1.0" stroke-linecap="butt" />
<line x1="124.0" y1="319.9" x2="125.6" y2="319.9" stroke="#666" stroke-width="1.0" stroke-linecap="butt" />
<line x1="124.0" y1="310.5" x2="125.6" y2="310.5" stroke="#666" stroke-width="1.0" stroke-linecap="butt" />
<line x1="124.0" y1="301.1" x2="125.6" y2="301.1" stroke="#666" stroke-width="1.0" stroke-linecap="butt" />
<line x1="124.0" y1="291.7" x2="125.6" y2="291.7" stroke="#666" stroke-width="1.0" stroke-linecap="butt" />
<line x1="126.2" y1="470.4" x2="126.2" y2="475.9" stroke="#000" stroke-width="1.5" stroke-linecap="butt" />
<line x1="140.3" y1="470.4" x2="140.3" y2="473.6" stroke="#111" stroke-width="1.1" stroke-linecap="butt" />
<line x1="148.6" y1="470.4" x2="148.6" y2="473.6" stroke="#111" stroke-width="1.1" stroke-linecap="butt" />
<line x1="154.5" y1="470.4" x2="154.5" y2="473.6" stroke="#111" stroke-width="1.1" stroke-linecap="butt" />
<line x1="159.0" y1="470.4" x2="159.0" y2="473.6" stroke="#111" stroke-width="1.1" stroke-linecap="butt" />
<line x1="162.7" y1="470.4" x2="162.7" y2="473.6" stroke="#111" stroke-width="1.1" stroke-linecap="butt" />
<line x1="165.9" y1="470.4" x2="165.9" y2="473.6" stroke="#111" stroke-width="1.1" stroke-linecap="butt" />
<line x1="168.6" y1="470.4" x2="168.6" y2="473.6" stroke="#111" stroke-width="1.1" stroke-linecap="butt" />
<line x1="171.0" y1="470.4" x2="171.0" y2="473.6" stroke="#111" stroke-width="1.1" stroke-linecap="butt" />
<line x1="173.1" y1="470.4" x2="173.1" y2="475.9" stroke="#000" stroke-width="1.5" stroke-linecap="butt" />
<line x1="187.8" y1="470.4" x2="187.8" y2="473.6" stroke="#111" stroke-width="1.1" stroke-linecap="butt" />
<line x1="196.4" y1="470.4" x2="196.4" y2="473.6" stroke="#111" stroke-width="1.1" stroke-linecap="butt" />
<line x1="202.5" y1="470.4" x2="202.5" y2="473.6" stroke="#111" stroke-width="1.1" stroke-linecap="butt" />
<line x1="207.2" y1="470.4" x2="207.2" y2="473.6" stroke="#111" stroke-width="1.1" stroke-linecap="butt" />
<line x1="211.0" y1="470.4" x2="211.0" y2="473.6" stroke="#111" stroke-width="1.1" stroke-linecap="butt" />
<line x1="214.3" y1="470.4" x2="214.3" y2="473.6" stroke="#111" stroke-width="1.1" stroke-linecap="butt" />
<line x1="217.1" y1="470.4" x2="217.1" y2="473.6" stroke="#111" stroke-width="1.1" stroke-linecap="butt" />
<line x1="219.6" y1="470.4" x2="219.6" y2="473.6" stroke="#111" stroke-width="1.1" stroke-linecap="butt" />
<line x1="221.9" y1="470.4" x2="221.9" y2="475.9" stroke="#000" stroke-width="1.5" stroke-linecap="butt" />
<line x1="236.7" y1="470.4" x2="236.7" y2="473.6" stroke="#111" stroke-width="1.1" stroke-linecap="butt" />
<line x1="245.4" y1="470.4" x2="245.4" y2="473.6" stroke="#111" stroke-width="1.1" stroke-linecap="butt" />
<line x1="251.6" y1="470.4" x2="251.6" y2="473.6" stroke="#111" stroke-width="1.1" stroke-linecap="butt" />
<line x1="256.4" y1="470.4" x2="256.4" y2="473.6" stroke="#111" stroke-width="1.1" stroke-linecap="butt" />
<line x1="260.3" y1="470.4" x2="260.3" y2="473.6" stroke="#111" stroke-width="1.1" stroke-linecap="butt" />
<line x1="263.6" y1="470.4" x2="263.6" y2="473.6" stroke="#111" stroke-width="1.1" stroke-linecap="butt" />
<line x1="266.5" y1="470.4" x2="266.5" y2="473.6" stroke="#111" stroke-width="1.1" stroke-linecap="butt" />
<line x1="269.0" y1="470.4" x2="269.0" y2="473.6" stroke="#111" stroke-width="1.1" stroke-linecap="butt" />
<line x1="271.2" y1="470.4" x2="271.2" y2="475.9" stroke="#000" stroke-width="1.5" stroke-linecap="butt" />
<line x1="285.4" y1="470.4" x2="285.4" y2="473.6" stroke="#111" stroke-width="1.1" stroke-linecap="butt" />
<line x1="293.6" y1="470.4" x2="293.6" y2="473.6" stroke="#111" stroke-width="1.1" stroke-linecap="butt" />
<line x1="299.5" y1="470.4" x2="299.5" y2="473.6" stroke="#111" stroke-width="1.1" stroke-linecap="butt" />
<line x1="304.0" y1="470.4" x2="304.0" y2="473.6" stroke="#111" stroke-width="1.1" stroke-linecap="butt" />
<line x1="307.8" y1="470.4" x2="307.8" y2="473.6" stroke="#111" stroke-width="1.1" stroke-linecap="butt" />
<line x1="310.9" y1="470.4" x2="310.9" y2="473.6" stroke="#111" stroke-width="1.1" stroke-linecap="butt" />
<line x1="313.6" y1="470.4" x2="313.6" y2="473.6" stroke="#111" stroke-width="1.1" stroke-linecap="butt" />
<line x1="316.0" y1="470.4" x2="316.0" y2="473.6" stroke="#111" stroke-width="1.1" stroke-linecap="butt" />
<line x1="318.2" y1="470.4" x2="318.2" y2="475.9" stroke="#000" stroke-width="1.5" stroke-linecap="butt" />
<line x1="332.8" y1="470.4" x2="332.8" y2="473.6" stroke="#111" stroke-width="1.1" stroke-linecap="butt" />
<line x1="341.4" y1="470.4" x2="341.4" y2="473.6" stroke="#111" stroke-width="1.1" stroke-linecap="butt" />
<line x1="347.5" y1="470.4" x2="347.5" y2="473.6" stroke="#111" stroke-width="1.1" stroke-linecap="butt" />
<line x1="352.2" y1="470.4" x2="352.2" y2="473.6" stroke="#111" stroke-width="1.1" stroke-linecap="butt" />
<line x1="356.1" y1="470.4" x2="356.1" y2="473.6" stroke="#111" stroke-width="1.1" stroke-linecap="butt" />
<line x1="359.3" y1="470.4" x2="359.3" y2="473.6" stroke="#111" stroke-width="1.1" stroke-linecap="butt" />
<line x1="362.2" y1="470.4" x2="362.2" y2="473.6" stroke="#111" stroke-width="1.1" stroke-linecap="butt" />
<line x1="364.7" y1="470.4" x2="364.7" y2="473.6" stroke="#111" stroke-width="1.1" stroke-linecap="butt" />
<line x1="366.9" y1="470.4" x2="366.9" y2="475.9" stroke="#000" stroke-width="1.5" stroke-linecap="butt" />
<line x1="381.9" y1="470.4" x2="381.9" y2="473.6" stroke="#111" stroke-width="1.1" stroke-linecap="butt" />
<line x1="390.7" y1="470.4" x2="390.7" y2="473.6" stroke="#111" stroke-width="1.1" stroke-linecap="butt" />
<line x1="396.9" y1="470.4" x2="396.9" y2="473.6" stroke="#111" stroke-width="1.1" stroke-linecap="butt" />
<line x1="401.7" y1="470.4" x2="401.7" y2="473.6" stroke="#111" stroke-width="1.1" stroke-linecap="butt" />
<line x1="405.7" y1="470.4" x2="405.7" y2="473.6" stroke="#111" stroke-width="1.1" stroke-linecap="butt" />
<line x1="409.0" y1="470.4" x2="409.0" y2="473.6" stroke="#111" stroke-width="1.1" stroke-linecap="butt" />
<line x1="411.9" y1="470.4" x2="411.9" y2="473.6" stroke="#111" stroke-width="1.1" stroke-linecap="butt" />
<line x1="414.4" y1="470.4" x2="414.4" y2="473.6" stroke="#111" stroke-width="1.1" stroke-linecap="butt" />
<line x1="416.7" y1="470.4" x2="416.7" y2="475.9" stroke="#000" stroke-width="1.5" stroke-linecap="butt" />
<text x="133.7" y="487.5" font-size="8.6" fill="#2a2a2a" text-anchor="start" font-weight="bold" letter-spacing="0.4">10<tspan font-size="6.6" dy="-3.4" dx="0.6">0</tspan></text>
<text x="175.1" y="487.5" font-size="8.6" fill="#2a2a2a" text-anchor="start" font-weight="bold" letter-spacing="0.4">10<tspan font-size="6.6" dy="-3.4" dx="0.6">1</tspan></text>
<text x="223.9" y="487.5" font-size="8.6" fill="#2a2a2a" text-anchor="start" font-weight="bold" letter-spacing="0.4">10<tspan font-size="6.6" dy="-3.4" dx="0.6">2</tspan></text>
<text x="273.2" y="487.5" font-size="8.6" fill="#2a2a2a" text-anchor="start" font-weight="bold" letter-spacing="0.4">10<tspan font-size="6.6" dy="-3.4" dx="0.6">3</tspan></text>
<text x="320.2" y="487.5" font-size="8.6" fill="#2a2a2a" text-anchor="start" font-weight="bold" letter-spacing="0.4">10<tspan font-size="6.6" dy="-3.4" dx="0.6">4</tspan></text>
<text x="368.9" y="487.5" font-size="8.6" fill="#2a2a2a" text-anchor="start" font-weight="bold" letter-spacing="0.4">10<tspan font-size="6.6" dy="-3.4" dx="0.6">5</tspan></text>
<text x="417.3" y="487.5" font-size="8.6" fill="#2a2a2a" text-anchor="end" font-weight="bold" letter-spacing="0.4">10<tspan font-size="6.6" dy="-3.4" dx="0.6">6</tspan></text>
<line x1="503.6" y1="280.5" x2="798.2" y2="280.5" stroke="#9a9a9a" stroke-width="1.2" stroke-linecap="butt" />
<line x1="503.6" y1="280.5" x2="503.6" y2="470.8" stroke="#333" stroke-width="1.3" stroke-linecap="butt" />
<line x1="798.2" y1="280.5" x2="798.2" y2="474.8" stroke="#333" stroke-width="1.5" stroke-linecap="butt" />
<path d="M503.6,449.9 C503.9,452.1 504.7,459.8 505.4,463.2 C506.2,466.6 507.6,469.1 508.1,470.3" fill="none" stroke="#b2b2b2" stroke-width="1.7" stroke-linejoin="round" stroke-linecap="round"/>
<path d="M547.9,469.9 C551.2,469.4 562.7,468.7 567.9,467.2 C573.0,465.7 575.6,463.7 578.9,461.0 C582.2,458.3 585.2,455.8 587.8,451.0 C590.4,446.2 592.6,438.7 594.4,432.2 C596.3,425.8 597.4,419.7 598.9,412.3 C600.3,404.9 601.8,396.4 603.3,387.9 C604.8,379.4 606.4,370.2 607.7,361.4 C609.0,352.5 609.9,341.8 611.0,334.8 C612.1,327.8 613.1,322.9 614.4,319.3 C615.6,315.7 617.3,312.0 618.3,313.1 C619.4,314.2 619.7,320.5 620.6,325.9 C621.4,331.4 622.2,338.8 623.2,345.9 C624.2,352.9 625.4,360.6 626.5,368.0 C627.6,375.4 628.6,382.0 629.9,390.1 C631.1,398.3 632.8,408.2 634.3,416.7 C635.8,425.2 637.2,434.4 638.7,441.1 C640.2,447.7 641.5,452.5 643.1,456.6 C644.8,460.6 646.5,463.2 648.7,465.4 C650.9,467.6 655.1,469.1 656.4,469.9" fill="none" stroke="#b2b2b2" stroke-width="1.7" stroke-linejoin="round" stroke-linecap="round"/>
<path d="M612.1,470.3 C614.0,470.0 619.5,469.9 623.2,468.8 C626.9,467.6 631.0,465.6 634.3,463.2 C637.6,460.8 640.6,458.4 643.1,454.4 C645.7,450.3 647.9,444.4 649.8,438.9 C651.6,433.3 652.7,427.8 654.2,421.1 C655.7,414.5 657.2,406.0 658.6,399.0 C660.1,392.0 661.6,386.5 663.1,379.1 C664.5,371.7 666.0,362.1 667.5,354.7 C669.0,347.3 670.5,341.4 671.9,334.8 C673.4,328.1 675.0,320.3 676.4,314.9 C677.8,309.4 679.1,303.3 680.3,302.0 C681.6,300.7 682.9,305.7 684.1,307.1 C685.3,308.5 686.1,308.8 687.4,310.4 C688.7,312.1 690.6,313.4 691.9,317.1 C693.1,320.8 694.1,327.0 695.2,332.6 C696.3,338.1 697.4,344.0 698.5,350.3 C699.6,356.6 700.5,363.2 701.8,370.2 C703.1,377.2 704.6,385.3 706.2,392.4 C707.9,399.4 709.8,405.6 711.8,412.3 C713.8,418.9 716.2,426.7 718.4,432.2 C720.6,437.7 722.9,441.8 725.1,445.5 C727.3,449.2 729.1,451.2 731.7,454.4 C734.3,457.5 737.6,461.8 740.6,464.3 C743.5,466.8 746.8,468.4 749.4,469.4 C752.0,470.4 755.0,470.3 756.1,470.5" fill="none" stroke="#72ecf5" stroke-width="1.9" stroke-linejoin="round" stroke-linecap="round"/>
<path d="M629.9,470.3 C631.7,469.9 637.2,468.8 640.9,467.6 C644.6,466.5 648.7,465.1 652.0,463.2 C655.3,461.4 658.3,458.4 660.9,456.6 C663.4,454.7 665.7,454.4 667.5,452.1 C669.3,449.9 670.5,447.0 671.9,443.3 C673.4,439.6 674.9,434.1 676.4,430.0 C677.8,425.9 679.3,423.7 680.8,418.9 C682.3,414.1 683.7,407.1 685.2,401.2 C686.7,395.3 688.4,388.3 689.6,383.5 C690.9,378.7 691.9,376.9 693.0,372.4 C694.1,368.0 695.2,362.5 696.3,356.9 C697.4,351.4 698.5,344.8 699.6,339.2 C700.7,333.7 701.8,328.0 702.9,323.7 C704.0,319.5 705.0,315.7 706.2,313.8 C707.5,311.8 709.3,313.3 710.7,312.2 C712.1,311.1 713.4,306.7 714.7,307.1 C716.0,307.5 717.2,313.4 718.4,314.9 C719.6,316.3 720.8,313.0 721.8,316.0 C722.7,318.9 723.2,326.1 724.0,332.6 C724.7,339.0 725.3,349.4 726.2,354.7 C727.1,360.1 728.6,360.6 729.5,364.7 C730.4,368.7 730.8,373.7 731.7,379.1 C732.6,384.4 733.7,390.5 735.0,396.8 C736.3,403.1 738.0,410.1 739.5,416.7 C740.9,423.4 742.2,430.7 743.9,436.6 C745.6,442.5 747.6,447.7 749.4,452.1 C751.3,456.6 752.9,460.4 755.0,463.2 C757.0,466.0 759.6,467.5 761.6,468.8 C763.6,470.0 766.2,470.2 767.1,470.5" fill="none" stroke="#d3261d" stroke-width="2.0" stroke-linejoin="round" stroke-linecap="round"/>
<line x1="503.1" y1="470.8" x2="798.7" y2="470.8" stroke="#000" stroke-width="1.6" stroke-linecap="butt" />
<line x1="500.4" y1="461.3" x2="503.6" y2="461.3" stroke="#111" stroke-width="1.6" stroke-linecap="butt" />
<line x1="500.4" y1="451.8" x2="503.6" y2="451.8" stroke="#111" stroke-width="1.6" stroke-linecap="butt" />
<line x1="500.4" y1="442.3" x2="503.6" y2="442.3" stroke="#111" stroke-width="1.6" stroke-linecap="butt" />
<line x1="500.4" y1="432.7" x2="503.6" y2="432.7" stroke="#111" stroke-width="1.6" stroke-linecap="butt" />
<line x1="500.4" y1="423.2" x2="503.6" y2="423.2" stroke="#111" stroke-width="1.6" stroke-linecap="butt" />
<line x1="500.4" y1="413.7" x2="503.6" y2="413.7" stroke="#111" stroke-width="1.6" stroke-linecap="butt" />
<line x1="500.4" y1="404.2" x2="503.6" y2="404.2" stroke="#111" stroke-width="1.6" stroke-linecap="butt" />
<line x1="500.4" y1="394.7" x2="503.6" y2="394.7" stroke="#111" stroke-width="1.6" stroke-linecap="butt" />
<line x1="500.4" y1="385.2" x2="503.6" y2="385.2" stroke="#111" stroke-width="1.6" stroke-linecap="butt" />
<line x1="500.4" y1="375.6" x2="503.6" y2="375.6" stroke="#111" stroke-width="1.6" stroke-linecap="butt" />
<line x1="500.4" y1="366.1" x2="503.6" y2="366.1" stroke="#111" stroke-width="1.6" stroke-linecap="butt" />
<line x1="500.4" y1="356.6" x2="503.6" y2="356.6" stroke="#111" stroke-width="1.6" stroke-linecap="butt" />
<line x1="500.4" y1="347.1" x2="503.6" y2="347.1" stroke="#111" stroke-width="1.6" stroke-linecap="butt" />
<line x1="500.4" y1="337.6" x2="503.6" y2="337.6" stroke="#111" stroke-width="1.6" stroke-linecap="butt" />
<line x1="500.4" y1="328.1" x2="503.6" y2="328.1" stroke="#111" stroke-width="1.6" stroke-linecap="butt" />
<line x1="500.4" y1="318.6" x2="503.6" y2="318.6" stroke="#111" stroke-width="1.6" stroke-linecap="butt" />
<line x1="500.4" y1="309.0" x2="503.6" y2="309.0" stroke="#111" stroke-width="1.6" stroke-linecap="butt" />
<line x1="500.4" y1="299.5" x2="503.6" y2="299.5" stroke="#111" stroke-width="1.6" stroke-linecap="butt" />
<line x1="500.4" y1="290.0" x2="503.6" y2="290.0" stroke="#111" stroke-width="1.6" stroke-linecap="butt" />
<line x1="504.1" y1="470.8" x2="504.1" y2="476.3" stroke="#000" stroke-width="1.5" stroke-linecap="butt" />
<line x1="518.3" y1="470.8" x2="518.3" y2="474.0" stroke="#111" stroke-width="1.1" stroke-linecap="butt" />
<line x1="526.6" y1="470.8" x2="526.6" y2="474.0" stroke="#111" stroke-width="1.1" stroke-linecap="butt" />
<line x1="532.5" y1="470.8" x2="532.5" y2="474.0" stroke="#111" stroke-width="1.1" stroke-linecap="butt" />
<line x1="537.1" y1="470.8" x2="537.1" y2="474.0" stroke="#111" stroke-width="1.1" stroke-linecap="butt" />
<line x1="540.8" y1="470.8" x2="540.8" y2="474.0" stroke="#111" stroke-width="1.1" stroke-linecap="butt" />
<line x1="543.9" y1="470.8" x2="543.9" y2="474.0" stroke="#111" stroke-width="1.1" stroke-linecap="butt" />
<line x1="546.7" y1="470.8" x2="546.7" y2="474.0" stroke="#111" stroke-width="1.1" stroke-linecap="butt" />
<line x1="549.1" y1="470.8" x2="549.1" y2="474.0" stroke="#111" stroke-width="1.1" stroke-linecap="butt" />
<line x1="551.2" y1="470.8" x2="551.2" y2="476.3" stroke="#000" stroke-width="1.5" stroke-linecap="butt" />
<line x1="566.2" y1="470.8" x2="566.2" y2="474.0" stroke="#111" stroke-width="1.1" stroke-linecap="butt" />
<line x1="575.0" y1="470.8" x2="575.0" y2="474.0" stroke="#111" stroke-width="1.1" stroke-linecap="butt" />
<line x1="581.2" y1="470.8" x2="581.2" y2="474.0" stroke="#111" stroke-width="1.1" stroke-linecap="butt" />
<line x1="586.1" y1="470.8" x2="586.1" y2="474.0" stroke="#111" stroke-width="1.1" stroke-linecap="butt" />
<line x1="590.0" y1="470.8" x2="590.0" y2="474.0" stroke="#111" stroke-width="1.1" stroke-linecap="butt" />
<line x1="593.4" y1="470.8" x2="593.4" y2="474.0" stroke="#111" stroke-width="1.1" stroke-linecap="butt" />
<line x1="596.2" y1="470.8" x2="596.2" y2="474.0" stroke="#111" stroke-width="1.1" stroke-linecap="butt" />
<line x1="598.8" y1="470.8" x2="598.8" y2="474.0" stroke="#111" stroke-width="1.1" stroke-linecap="butt" />
<line x1="601.1" y1="470.8" x2="601.1" y2="476.3" stroke="#000" stroke-width="1.5" stroke-linecap="butt" />
<line x1="615.7" y1="470.8" x2="615.7" y2="474.0" stroke="#111" stroke-width="1.1" stroke-linecap="butt" />
<line x1="624.3" y1="470.8" x2="624.3" y2="474.0" stroke="#111" stroke-width="1.1" stroke-linecap="butt" />
<line x1="630.4" y1="470.8" x2="630.4" y2="474.0" stroke="#111" stroke-width="1.1" stroke-linecap="butt" />
<line x1="635.1" y1="470.8" x2="635.1" y2="474.0" stroke="#111" stroke-width="1.1" stroke-linecap="butt" />
<line x1="639.0" y1="470.8" x2="639.0" y2="474.0" stroke="#111" stroke-width="1.1" stroke-linecap="butt" />
<line x1="642.2" y1="470.8" x2="642.2" y2="474.0" stroke="#111" stroke-width="1.1" stroke-linecap="butt" />
<line x1="645.1" y1="470.8" x2="645.1" y2="474.0" stroke="#111" stroke-width="1.1" stroke-linecap="butt" />
<line x1="647.6" y1="470.8" x2="647.6" y2="474.0" stroke="#111" stroke-width="1.1" stroke-linecap="butt" />
<line x1="649.8" y1="470.8" x2="649.8" y2="476.3" stroke="#000" stroke-width="1.5" stroke-linecap="butt" />
<line x1="664.5" y1="470.8" x2="664.5" y2="474.0" stroke="#111" stroke-width="1.1" stroke-linecap="butt" />
<line x1="673.0" y1="470.8" x2="673.0" y2="474.0" stroke="#111" stroke-width="1.1" stroke-linecap="butt" />
<line x1="679.1" y1="470.8" x2="679.1" y2="474.0" stroke="#111" stroke-width="1.1" stroke-linecap="butt" />
<line x1="683.8" y1="470.8" x2="683.8" y2="474.0" stroke="#111" stroke-width="1.1" stroke-linecap="butt" />
<line x1="687.7" y1="470.8" x2="687.7" y2="474.0" stroke="#111" stroke-width="1.1" stroke-linecap="butt" />
<line x1="691.0" y1="470.8" x2="691.0" y2="474.0" stroke="#111" stroke-width="1.1" stroke-linecap="butt" />
<line x1="693.8" y1="470.8" x2="693.8" y2="474.0" stroke="#111" stroke-width="1.1" stroke-linecap="butt" />
<line x1="696.3" y1="470.8" x2="696.3" y2="474.0" stroke="#111" stroke-width="1.1" stroke-linecap="butt" />
<line x1="698.5" y1="470.8" x2="698.5" y2="476.3" stroke="#000" stroke-width="1.5" stroke-linecap="butt" />
<line x1="713.3" y1="470.8" x2="713.3" y2="474.0" stroke="#111" stroke-width="1.1" stroke-linecap="butt" />
<line x1="722.0" y1="470.8" x2="722.0" y2="474.0" stroke="#111" stroke-width="1.1" stroke-linecap="butt" />
<line x1="728.1" y1="470.8" x2="728.1" y2="474.0" stroke="#111" stroke-width="1.1" stroke-linecap="butt" />
<line x1="732.9" y1="470.8" x2="732.9" y2="474.0" stroke="#111" stroke-width="1.1" stroke-linecap="butt" />
<line x1="736.8" y1="470.8" x2="736.8" y2="474.0" stroke="#111" stroke-width="1.1" stroke-linecap="butt" />
<line x1="740.0" y1="470.8" x2="740.0" y2="474.0" stroke="#111" stroke-width="1.1" stroke-linecap="butt" />
<line x1="742.9" y1="470.8" x2="742.9" y2="474.0" stroke="#111" stroke-width="1.1" stroke-linecap="butt" />
<line x1="745.4" y1="470.8" x2="745.4" y2="474.0" stroke="#111" stroke-width="1.1" stroke-linecap="butt" />
<line x1="747.7" y1="470.8" x2="747.7" y2="476.3" stroke="#000" stroke-width="1.5" stroke-linecap="butt" />
<line x1="762.5" y1="470.8" x2="762.5" y2="474.0" stroke="#111" stroke-width="1.1" stroke-linecap="butt" />
<line x1="771.2" y1="470.8" x2="771.2" y2="474.0" stroke="#111" stroke-width="1.1" stroke-linecap="butt" />
<line x1="777.4" y1="470.8" x2="777.4" y2="474.0" stroke="#111" stroke-width="1.1" stroke-linecap="butt" />
<line x1="782.2" y1="470.8" x2="782.2" y2="474.0" stroke="#111" stroke-width="1.1" stroke-linecap="butt" />
<line x1="786.1" y1="470.8" x2="786.1" y2="474.0" stroke="#111" stroke-width="1.1" stroke-linecap="butt" />
<line x1="789.4" y1="470.8" x2="789.4" y2="474.0" stroke="#111" stroke-width="1.1" stroke-linecap="butt" />
<line x1="792.3" y1="470.8" x2="792.3" y2="474.0" stroke="#111" stroke-width="1.1" stroke-linecap="butt" />
<line x1="794.8" y1="470.8" x2="794.8" y2="474.0" stroke="#111" stroke-width="1.1" stroke-linecap="butt" />
<line x1="797.0" y1="470.8" x2="797.0" y2="476.3" stroke="#000" stroke-width="1.5" stroke-linecap="butt" />
<text x="511.6" y="487.9" font-size="8.6" fill="#2a2a2a" text-anchor="start" font-weight="bold" letter-spacing="0.4">10<tspan font-size="6.6" dy="-3.4" dx="0.6">0</tspan></text>
<text x="553.2" y="487.9" font-size="8.6" fill="#2a2a2a" text-anchor="start" font-weight="bold" letter-spacing="0.4">10<tspan font-size="6.6" dy="-3.4" dx="0.6">1</tspan></text>
<text x="603.1" y="487.9" font-size="8.6" fill="#2a2a2a" text-anchor="start" font-weight="bold" letter-spacing="0.4">10<tspan font-size="6.6" dy="-3.4" dx="0.6">2</tspan></text>
<text x="651.8" y="487.9" font-size="8.6" fill="#2a2a2a" text-anchor="start" font-weight="bold" letter-spacing="0.4">10<tspan font-size="6.6" dy="-3.4" dx="0.6">3</tspan></text>
<text x="700.5" y="487.9" font-size="8.6" fill="#2a2a2a" text-anchor="start" font-weight="bold" letter-spacing="0.4">10<tspan font-size="6.6" dy="-3.4" dx="0.6">4</tspan></text>
<text x="749.7" y="487.9" font-size="8.6" fill="#2a2a2a" text-anchor="start" font-weight="bold" letter-spacing="0.4">10<tspan font-size="6.6" dy="-3.4" dx="0.6">5</tspan></text>
<text x="797.7" y="487.9" font-size="8.6" fill="#2a2a2a" text-anchor="end" font-weight="bold" letter-spacing="0.4">10<tspan font-size="6.6" dy="-3.4" dx="0.6">6</tspan></text>
<line x1="877.8" y1="282.3" x2="1176.7" y2="282.3" stroke="#c8c8c8" stroke-width="1.2" stroke-linecap="butt" />
<line x1="877.8" y1="282.3" x2="877.8" y2="473.7" stroke="#222" stroke-width="1.3" stroke-linecap="butt" />
<line x1="1176.7" y1="282.3" x2="1176.7" y2="477.7" stroke="#222" stroke-width="1.5" stroke-linecap="butt" />
<path d="M877.8,449.9 C878.1,452.5 879.1,461.6 880.0,465.4 C880.8,469.2 882.4,471.5 882.8,472.7" fill="none" stroke="#c2c2c2" stroke-width="1.7" stroke-linejoin="round" stroke-linecap="round"/>
<path d="M920.9,472.7 C922.8,472.3 928.7,470.9 932.0,469.9 C935.3,468.8 938.1,467.1 940.9,466.5 C943.6,466.0 946.0,467.8 948.6,466.5 C951.2,465.2 954.0,461.9 956.4,458.8 C958.8,455.6 961.0,452.1 963.0,447.7 C965.0,443.3 966.9,438.1 968.5,432.2 C970.2,426.3 971.7,419.3 973.0,412.3 C974.3,405.3 975.2,398.3 976.3,390.1 C977.4,382.0 978.6,372.4 979.6,363.6 C980.6,354.7 981.5,343.5 982.5,337.0 C983.5,330.5 984.4,325.0 985.6,324.8 C986.8,324.6 988.5,335.7 989.6,335.9 C990.7,336.1 991.3,329.2 992.2,325.9 C993.2,322.6 994.3,315.6 995.1,316.0 C996.0,316.3 996.6,322.4 997.3,328.1 C998.1,333.9 998.6,341.8 999.5,350.3 C1000.5,358.8 1001.8,368.7 1002.9,379.1 C1004.0,389.4 1005.1,402.3 1006.2,412.3 C1007.3,422.2 1008.2,431.5 1009.5,438.9 C1010.8,446.2 1012.1,452.1 1013.9,456.6 C1015.8,461.0 1018.0,463.0 1020.6,465.4 C1023.2,467.8 1026.5,469.7 1029.4,471.0 C1032.4,472.2 1036.8,472.4 1038.3,472.7" fill="none" stroke="#c2c2c2" stroke-width="1.7" stroke-linejoin="round" stroke-linecap="round"/>
<path d="M987.4,472.7 C988.8,471.9 993.6,470.0 996.2,467.6 C998.8,465.3 1000.6,462.5 1002.9,458.8 C1005.1,455.1 1007.7,449.9 1009.5,445.5 C1011.3,441.1 1012.6,435.9 1013.9,432.2 C1015.2,428.5 1016.1,425.6 1017.2,423.4 C1018.4,421.1 1019.5,421.9 1020.6,418.9 C1021.7,416.0 1022.8,410.8 1023.9,405.6 C1025.0,400.5 1026.1,393.8 1027.2,387.9 C1028.3,382.0 1029.4,376.1 1030.5,370.2 C1031.6,364.3 1032.6,357.3 1033.9,352.5 C1035.1,347.7 1037.2,344.0 1038.3,341.4 C1039.4,338.8 1039.4,338.3 1040.5,337.0 C1041.6,335.7 1043.8,336.6 1044.9,333.7 C1046.0,330.7 1046.4,324.6 1047.1,319.3 C1047.9,313.9 1048.7,305.2 1049.4,301.6 C1050.0,298.0 1050.4,297.4 1051.1,297.8 C1051.9,298.2 1053.0,302.1 1053.8,303.8 C1054.6,305.5 1055.3,305.1 1056.0,308.2 C1056.7,311.4 1057.3,321.8 1058.2,322.6 C1059.1,323.4 1060.6,312.5 1061.5,313.1 C1062.5,313.6 1062.8,320.5 1063.8,325.9 C1064.7,331.4 1066.0,340.0 1067.1,345.9 C1068.2,351.8 1069.3,358.4 1070.4,361.4 C1071.5,364.3 1072.6,359.9 1073.7,363.6 C1074.8,367.3 1075.9,377.0 1077.0,383.5 C1078.1,390.0 1079.2,399.7 1080.4,402.3 C1081.5,404.9 1082.6,397.3 1083.7,399.0 C1084.8,400.7 1085.7,407.5 1087.0,412.3 C1088.3,417.1 1089.6,422.6 1091.4,427.8 C1093.3,433.0 1095.9,438.5 1098.1,443.3 C1100.3,448.1 1102.1,452.7 1104.7,456.6 C1107.3,460.4 1110.6,464.0 1113.6,466.5 C1116.5,469.1 1120.2,471.0 1122.4,472.1 C1124.6,473.2 1126.1,473.0 1126.9,473.2" fill="none" stroke="#56b6ec" stroke-width="1.9" stroke-linejoin="round" stroke-linecap="round"/>
<path d="M980.7,473.2 C982.2,472.6 986.6,471.1 989.6,469.9 C992.5,468.6 995.5,467.3 998.4,465.4 C1001.4,463.6 1004.7,461.7 1007.3,458.8 C1009.9,455.8 1011.7,451.8 1013.9,447.7 C1016.1,443.7 1018.4,438.3 1020.6,434.4 C1022.8,430.6 1025.2,426.7 1027.2,424.5 C1029.2,422.2 1031.1,423.5 1032.8,421.1 C1034.4,418.7 1035.7,413.6 1037.2,410.1 C1038.7,406.6 1039.9,402.4 1041.6,400.1 C1043.3,397.8 1045.7,396.7 1047.1,396.3 C1048.6,396.0 1049.5,398.6 1050.5,397.9 C1051.4,397.2 1051.8,394.9 1052.7,392.4 C1053.6,389.8 1054.7,383.1 1056.0,382.4 C1057.3,381.7 1059.1,388.1 1060.4,387.9 C1061.7,387.7 1062.6,383.9 1063.8,381.3 C1064.9,378.7 1065.8,374.5 1067.1,372.4 C1068.4,370.4 1070.2,370.8 1071.5,369.1 C1072.8,367.4 1073.7,366.0 1074.8,362.5 C1075.9,359.0 1077.0,351.9 1078.1,348.1 C1079.2,344.2 1080.4,340.0 1081.5,339.2 C1082.6,338.5 1083.7,342.0 1084.8,343.6 C1085.9,345.3 1087.0,349.4 1088.1,349.2 C1089.2,349.0 1090.3,345.3 1091.4,342.5 C1092.5,339.8 1093.6,335.5 1094.8,332.6 C1095.9,329.6 1097.1,327.6 1098.1,324.8 C1099.0,322.1 1099.2,317.8 1100.3,316.0 C1101.4,314.1 1103.4,313.6 1104.7,313.8 C1106.0,313.9 1106.9,315.6 1108.0,317.1 C1109.1,318.5 1110.4,319.7 1111.4,322.6 C1112.3,325.6 1112.8,330.5 1113.6,334.8 C1114.3,339.0 1115.0,345.1 1115.8,348.1 C1116.5,351.0 1117.1,349.2 1118.0,352.5 C1118.9,355.8 1120.4,362.5 1121.3,368.0 C1122.2,373.5 1122.6,379.1 1123.5,385.7 C1124.5,392.4 1125.8,401.2 1126.9,407.9 C1128.0,414.5 1129.1,419.7 1130.2,425.6 C1131.3,431.5 1132.2,437.4 1133.5,443.3 C1134.8,449.2 1136.3,456.6 1137.9,461.0 C1139.6,465.4 1141.6,467.9 1143.5,469.9 C1145.3,471.8 1147.3,472.2 1149.0,472.7 C1150.7,473.3 1152.7,473.1 1153.4,473.2" fill="none" stroke="#d3261d" stroke-width="2.0" stroke-linejoin="round" stroke-linecap="round"/>
<line x1="877.3" y1="473.7" x2="1177.2" y2="473.7" stroke="#000" stroke-width="1.6" stroke-linecap="butt" />
<line x1="874.6" y1="464.1" x2="877.8" y2="464.1" stroke="#111" stroke-width="1.6" stroke-linecap="butt" />
<line x1="874.6" y1="454.6" x2="877.8" y2="454.6" stroke="#111" stroke-width="1.6" stroke-linecap="butt" />
<line x1="874.6" y1="445.0" x2="877.8" y2="445.0" stroke="#111" stroke-width="1.6" stroke-linecap="butt" />
<line x1="874.6" y1="435.4" x2="877.8" y2="435.4" stroke="#111" stroke-width="1.6" stroke-linecap="butt" />
<line x1="874.6" y1="425.9" x2="877.8" y2="425.9" stroke="#111" stroke-width="1.6" stroke-linecap="butt" />
<line x1="874.6" y1="416.3" x2="877.8" y2="416.3" stroke="#111" stroke-width="1.6" stroke-linecap="butt" />
<line x1="874.6" y1="406.7" x2="877.8" y2="406.7" stroke="#111" stroke-width="1.6" stroke-linecap="butt" />
<line x1="874.6" y1="397.1" x2="877.8" y2="397.1" stroke="#111" stroke-width="1.6" stroke-linecap="butt" />
<line x1="874.6" y1="387.6" x2="877.8" y2="387.6" stroke="#111" stroke-width="1.6" stroke-linecap="butt" />
<line x1="874.6" y1="378.0" x2="877.8" y2="378.0" stroke="#111" stroke-width="1.6" stroke-linecap="butt" />
<line x1="874.6" y1="368.4" x2="877.8" y2="368.4" stroke="#111" stroke-width="1.6" stroke-linecap="butt" />
<line x1="874.6" y1="358.9" x2="877.8" y2="358.9" stroke="#111" stroke-width="1.6" stroke-linecap="butt" />
<line x1="874.6" y1="349.3" x2="877.8" y2="349.3" stroke="#111" stroke-width="1.6" stroke-linecap="butt" />
<line x1="874.6" y1="339.7" x2="877.8" y2="339.7" stroke="#111" stroke-width="1.6" stroke-linecap="butt" />
<line x1="874.6" y1="330.1" x2="877.8" y2="330.1" stroke="#111" stroke-width="1.6" stroke-linecap="butt" />
<line x1="874.6" y1="320.6" x2="877.8" y2="320.6" stroke="#111" stroke-width="1.6" stroke-linecap="butt" />
<line x1="874.6" y1="311.0" x2="877.8" y2="311.0" stroke="#111" stroke-width="1.6" stroke-linecap="butt" />
<line x1="874.6" y1="301.4" x2="877.8" y2="301.4" stroke="#111" stroke-width="1.6" stroke-linecap="butt" />
<line x1="874.6" y1="291.9" x2="877.8" y2="291.9" stroke="#111" stroke-width="1.6" stroke-linecap="butt" />
<line x1="878.4" y1="473.7" x2="878.4" y2="479.2" stroke="#000" stroke-width="1.5" stroke-linecap="butt" />
<line x1="892.5" y1="473.7" x2="892.5" y2="476.9" stroke="#111" stroke-width="1.1" stroke-linecap="butt" />
<line x1="900.8" y1="473.7" x2="900.8" y2="476.9" stroke="#111" stroke-width="1.1" stroke-linecap="butt" />
<line x1="906.7" y1="473.7" x2="906.7" y2="476.9" stroke="#111" stroke-width="1.1" stroke-linecap="butt" />
<line x1="911.2" y1="473.7" x2="911.2" y2="476.9" stroke="#111" stroke-width="1.1" stroke-linecap="butt" />
<line x1="914.9" y1="473.7" x2="914.9" y2="476.9" stroke="#111" stroke-width="1.1" stroke-linecap="butt" />
<line x1="918.1" y1="473.7" x2="918.1" y2="476.9" stroke="#111" stroke-width="1.1" stroke-linecap="butt" />
<line x1="920.8" y1="473.7" x2="920.8" y2="476.9" stroke="#111" stroke-width="1.1" stroke-linecap="butt" />
<line x1="923.2" y1="473.7" x2="923.2" y2="476.9" stroke="#111" stroke-width="1.1" stroke-linecap="butt" />
<line x1="925.4" y1="473.7" x2="925.4" y2="479.2" stroke="#000" stroke-width="1.5" stroke-linecap="butt" />
<line x1="940.7" y1="473.7" x2="940.7" y2="476.9" stroke="#111" stroke-width="1.1" stroke-linecap="butt" />
<line x1="949.7" y1="473.7" x2="949.7" y2="476.9" stroke="#111" stroke-width="1.1" stroke-linecap="butt" />
<line x1="956.0" y1="473.7" x2="956.0" y2="476.9" stroke="#111" stroke-width="1.1" stroke-linecap="butt" />
<line x1="961.0" y1="473.7" x2="961.0" y2="476.9" stroke="#111" stroke-width="1.1" stroke-linecap="butt" />
<line x1="965.0" y1="473.7" x2="965.0" y2="476.9" stroke="#111" stroke-width="1.1" stroke-linecap="butt" />
<line x1="968.4" y1="473.7" x2="968.4" y2="476.9" stroke="#111" stroke-width="1.1" stroke-linecap="butt" />
<line x1="971.4" y1="473.7" x2="971.4" y2="476.9" stroke="#111" stroke-width="1.1" stroke-linecap="butt" />
<line x1="974.0" y1="473.7" x2="974.0" y2="476.9" stroke="#111" stroke-width="1.1" stroke-linecap="butt" />
<line x1="976.3" y1="473.7" x2="976.3" y2="479.2" stroke="#000" stroke-width="1.5" stroke-linecap="butt" />
<line x1="991.0" y1="473.7" x2="991.0" y2="476.9" stroke="#111" stroke-width="1.1" stroke-linecap="butt" />
<line x1="999.5" y1="473.7" x2="999.5" y2="476.9" stroke="#111" stroke-width="1.1" stroke-linecap="butt" />
<line x1="1005.6" y1="473.7" x2="1005.6" y2="476.9" stroke="#111" stroke-width="1.1" stroke-linecap="butt" />
<line x1="1010.3" y1="473.7" x2="1010.3" y2="476.9" stroke="#111" stroke-width="1.1" stroke-linecap="butt" />
<line x1="1014.2" y1="473.7" x2="1014.2" y2="476.9" stroke="#111" stroke-width="1.1" stroke-linecap="butt" />
<line x1="1017.5" y1="473.7" x2="1017.5" y2="476.9" stroke="#111" stroke-width="1.1" stroke-linecap="butt" />
<line x1="1020.3" y1="473.7" x2="1020.3" y2="476.9" stroke="#111" stroke-width="1.1" stroke-linecap="butt" />
<line x1="1022.8" y1="473.7" x2="1022.8" y2="476.9" stroke="#111" stroke-width="1.1" stroke-linecap="butt" />
<line x1="1025.0" y1="473.7" x2="1025.0" y2="479.2" stroke="#000" stroke-width="1.5" stroke-linecap="butt" />
<line x1="1039.7" y1="473.7" x2="1039.7" y2="476.9" stroke="#111" stroke-width="1.1" stroke-linecap="butt" />
<line x1="1048.2" y1="473.7" x2="1048.2" y2="476.9" stroke="#111" stroke-width="1.1" stroke-linecap="butt" />
<line x1="1054.3" y1="473.7" x2="1054.3" y2="476.9" stroke="#111" stroke-width="1.1" stroke-linecap="butt" />
<line x1="1059.0" y1="473.7" x2="1059.0" y2="476.9" stroke="#111" stroke-width="1.1" stroke-linecap="butt" />
<line x1="1062.9" y1="473.7" x2="1062.9" y2="476.9" stroke="#111" stroke-width="1.1" stroke-linecap="butt" />
<line x1="1066.2" y1="473.7" x2="1066.2" y2="476.9" stroke="#111" stroke-width="1.1" stroke-linecap="butt" />
<line x1="1069.0" y1="473.7" x2="1069.0" y2="476.9" stroke="#111" stroke-width="1.1" stroke-linecap="butt" />
<line x1="1071.5" y1="473.7" x2="1071.5" y2="476.9" stroke="#111" stroke-width="1.1" stroke-linecap="butt" />
<line x1="1073.7" y1="473.7" x2="1073.7" y2="479.2" stroke="#000" stroke-width="1.5" stroke-linecap="butt" />
<line x1="1089.0" y1="473.7" x2="1089.0" y2="476.9" stroke="#111" stroke-width="1.1" stroke-linecap="butt" />
<line x1="1098.0" y1="473.7" x2="1098.0" y2="476.9" stroke="#111" stroke-width="1.1" stroke-linecap="butt" />
<line x1="1104.4" y1="473.7" x2="1104.4" y2="476.9" stroke="#111" stroke-width="1.1" stroke-linecap="butt" />
<line x1="1109.3" y1="473.7" x2="1109.3" y2="476.9" stroke="#111" stroke-width="1.1" stroke-linecap="butt" />
<line x1="1113.3" y1="473.7" x2="1113.3" y2="476.9" stroke="#111" stroke-width="1.1" stroke-linecap="butt" />
<line x1="1116.8" y1="473.7" x2="1116.8" y2="476.9" stroke="#111" stroke-width="1.1" stroke-linecap="butt" />
<line x1="1119.7" y1="473.7" x2="1119.7" y2="476.9" stroke="#111" stroke-width="1.1" stroke-linecap="butt" />
<line x1="1122.3" y1="473.7" x2="1122.3" y2="476.9" stroke="#111" stroke-width="1.1" stroke-linecap="butt" />
<line x1="1124.6" y1="473.7" x2="1124.6" y2="479.2" stroke="#000" stroke-width="1.5" stroke-linecap="butt" />
<line x1="1139.8" y1="473.7" x2="1139.8" y2="476.9" stroke="#111" stroke-width="1.1" stroke-linecap="butt" />
<line x1="1148.7" y1="473.7" x2="1148.7" y2="476.9" stroke="#111" stroke-width="1.1" stroke-linecap="butt" />
<line x1="1155.0" y1="473.7" x2="1155.0" y2="476.9" stroke="#111" stroke-width="1.1" stroke-linecap="butt" />
<line x1="1159.9" y1="473.7" x2="1159.9" y2="476.9" stroke="#111" stroke-width="1.1" stroke-linecap="butt" />
<line x1="1163.9" y1="473.7" x2="1163.9" y2="476.9" stroke="#111" stroke-width="1.1" stroke-linecap="butt" />
<line x1="1167.3" y1="473.7" x2="1167.3" y2="476.9" stroke="#111" stroke-width="1.1" stroke-linecap="butt" />
<line x1="1170.2" y1="473.7" x2="1170.2" y2="476.9" stroke="#111" stroke-width="1.1" stroke-linecap="butt" />
<line x1="1172.8" y1="473.7" x2="1172.8" y2="476.9" stroke="#111" stroke-width="1.1" stroke-linecap="butt" />
<line x1="1175.1" y1="473.7" x2="1175.1" y2="479.2" stroke="#000" stroke-width="1.5" stroke-linecap="butt" />
<text x="885.9" y="490.8" font-size="8.6" fill="#2a2a2a" text-anchor="start" font-weight="bold" letter-spacing="0.4">10<tspan font-size="6.6" dy="-3.4" dx="0.6">0</tspan></text>
<text x="927.4" y="490.8" font-size="8.6" fill="#2a2a2a" text-anchor="start" font-weight="bold" letter-spacing="0.4">10<tspan font-size="6.6" dy="-3.4" dx="0.6">1</tspan></text>
<text x="978.3" y="490.8" font-size="8.6" fill="#2a2a2a" text-anchor="start" font-weight="bold" letter-spacing="0.4">10<tspan font-size="6.6" dy="-3.4" dx="0.6">2</tspan></text>
<text x="1027.0" y="490.8" font-size="8.6" fill="#2a2a2a" text-anchor="start" font-weight="bold" letter-spacing="0.4">10<tspan font-size="6.6" dy="-3.4" dx="0.6">3</tspan></text>
<text x="1075.7" y="490.8" font-size="8.6" fill="#2a2a2a" text-anchor="start" font-weight="bold" letter-spacing="0.4">10<tspan font-size="6.6" dy="-3.4" dx="0.6">4</tspan></text>
<text x="1126.6" y="490.8" font-size="8.6" fill="#2a2a2a" text-anchor="start" font-weight="bold" letter-spacing="0.4">10<tspan font-size="6.6" dy="-3.4" dx="0.6">5</tspan></text>
<text x="1176.2" y="490.8" font-size="8.6" fill="#2a2a2a" text-anchor="end" font-weight="bold" letter-spacing="0.4">10<tspan font-size="6.6" dy="-3.4" dx="0.6">6</tspan></text>
<line x1="128.4" y1="638.4" x2="422.3" y2="638.4" stroke="#555" stroke-width="1.2" stroke-linecap="butt" />
<line x1="128.4" y1="638.4" x2="128.4" y2="826.0" stroke="#111" stroke-width="1.3" stroke-linecap="butt" />
<line x1="422.3" y1="638.4" x2="422.3" y2="830.0" stroke="#111" stroke-width="1.5" stroke-linecap="butt" />
<path d="M224.1,824.9 C225.2,823.0 228.9,819.0 230.7,813.8 C232.6,808.6 233.7,800.9 235.1,793.9 C236.6,786.8 238.1,779.1 239.6,771.7 C241.0,764.3 242.5,757.3 244.0,749.6 C245.5,741.8 247.1,730.4 248.4,725.2 C249.7,720.0 250.6,717.8 251.8,718.6 C252.9,719.3 254.0,725.4 255.1,729.6 C256.2,733.9 257.5,741.6 258.4,744.0 C259.3,746.4 259.7,745.3 260.6,744.0 C261.5,742.7 262.9,738.1 263.9,736.3 C264.9,734.4 265.7,731.5 266.6,733.0 C267.5,734.4 268.4,738.7 269.5,745.1 C270.5,751.6 271.7,763.2 272.8,771.7 C273.9,780.2 275.0,789.4 276.1,796.1 C277.2,802.7 278.1,807.5 279.4,811.6 C280.7,815.6 282.0,818.2 283.9,820.4 C285.7,822.6 289.4,824.1 290.5,824.9" fill="none" stroke="#b2b2b2" stroke-width="1.7" stroke-linejoin="round" stroke-linecap="round"/>
<path d="M217.4,825.5 C218.5,824.7 222.0,823.5 224.1,820.4 C226.1,817.4 227.9,813.0 229.6,807.1 C231.3,801.2 232.6,792.8 234.0,785.0 C235.5,777.2 237.2,768.8 238.5,760.6 C239.8,752.5 240.7,744.4 241.8,736.3 C242.9,728.2 244.0,719.7 245.1,711.9 C246.2,704.2 247.3,695.3 248.4,689.8 C249.5,684.2 250.8,681.2 251.8,678.7 C252.7,676.2 253.2,675.0 254.0,675.0 C254.7,675.0 255.3,675.5 256.2,678.7 C257.1,681.9 258.4,688.3 259.5,694.2 C260.6,700.1 261.7,707.1 262.8,714.1 C263.9,721.2 265.0,728.2 266.1,736.3 C267.2,744.4 268.4,754.4 269.5,762.9 C270.6,771.3 271.7,780.2 272.8,787.2 C273.9,794.2 274.8,799.8 276.1,804.9 C277.4,810.1 278.9,815.1 280.5,818.2 C282.2,821.4 284.0,822.5 286.1,823.8 C288.1,825.0 291.6,825.2 292.7,825.5" fill="none" stroke="#72ecf5" stroke-width="1.9" stroke-linejoin="round" stroke-linecap="round"/>
<path d="M221.9,825.5 C223.0,824.3 226.7,821.6 228.5,818.2 C230.3,814.8 231.5,810.5 232.9,804.9 C234.4,799.4 235.9,791.3 237.4,785.0 C238.8,778.7 240.3,772.5 241.8,767.3 C243.3,762.1 244.9,759.5 246.2,754.0 C247.5,748.5 248.4,740.7 249.5,734.1 C250.6,727.4 251.6,720.0 252.9,714.1 C254.1,708.2 255.8,703.1 257.3,698.6 C258.8,694.2 260.5,690.0 261.7,687.6 C262.9,685.1 263.6,682.7 264.4,683.8 C265.2,684.9 265.9,689.2 266.6,694.2 C267.2,699.3 267.7,707.1 268.4,714.1 C269.0,721.2 269.6,728.2 270.6,736.3 C271.5,744.4 272.8,754.0 273.9,762.9 C275.0,771.7 276.1,782.0 277.2,789.4 C278.3,796.8 279.2,802.3 280.5,807.1 C281.8,811.9 283.3,815.6 285.0,818.2 C286.6,820.8 288.5,821.5 290.5,822.6 C292.5,823.8 294.9,824.3 297.1,824.9 C299.4,825.4 302.7,825.6 303.8,825.7" fill="none" stroke="#d3261d" stroke-width="2.0" stroke-linejoin="round" stroke-linecap="round"/>
<line x1="127.9" y1="826.0" x2="422.8" y2="826.0" stroke="#000" stroke-width="1.6" stroke-linecap="butt" />
<line x1="126.8" y1="816.6" x2="128.4" y2="816.6" stroke="#666" stroke-width="1.0" stroke-linecap="butt" />
<line x1="126.8" y1="807.2" x2="128.4" y2="807.2" stroke="#666" stroke-width="1.0" stroke-linecap="butt" />
<line x1="126.8" y1="797.9" x2="128.4" y2="797.9" stroke="#666" stroke-width="1.0" stroke-linecap="butt" />
<line x1="126.8" y1="788.5" x2="128.4" y2="788.5" stroke="#666" stroke-width="1.0" stroke-linecap="butt" />
<line x1="126.8" y1="779.1" x2="128.4" y2="779.1" stroke="#666" stroke-width="1.0" stroke-linecap="butt" />
<line x1="126.8" y1="769.7" x2="128.4" y2="769.7" stroke="#666" stroke-width="1.0" stroke-linecap="butt" />
<line x1="126.8" y1="760.3" x2="128.4" y2="760.3" stroke="#666" stroke-width="1.0" stroke-linecap="butt" />
<line x1="126.8" y1="751.0" x2="128.4" y2="751.0" stroke="#666" stroke-width="1.0" stroke-linecap="butt" />
<line x1="126.8" y1="741.6" x2="128.4" y2="741.6" stroke="#666" stroke-width="1.0" stroke-linecap="butt" />
<line x1="126.8" y1="732.2" x2="128.4" y2="732.2" stroke="#666" stroke-width="1.0" stroke-linecap="butt" />
<line x1="126.8" y1="722.8" x2="128.4" y2="722.8" stroke="#666" stroke-width="1.0" stroke-linecap="butt" />
<line x1="126.8" y1="713.4" x2="128.4" y2="713.4" stroke="#666" stroke-width="1.0" stroke-linecap="butt" />
<line x1="126.8" y1="704.1" x2="128.4" y2="704.1" stroke="#666" stroke-width="1.0" stroke-linecap="butt" />
<line x1="126.8" y1="694.7" x2="128.4" y2="694.7" stroke="#666" stroke-width="1.0" stroke-linecap="butt" />
<line x1="126.8" y1="685.3" x2="128.4" y2="685.3" stroke="#666" stroke-width="1.0" stroke-linecap="butt" />
<line x1="126.8" y1="675.9" x2="128.4" y2="675.9" stroke="#666" stroke-width="1.0" stroke-linecap="butt" />
<line x1="126.8" y1="666.5" x2="128.4" y2="666.5" stroke="#666" stroke-width="1.0" stroke-linecap="butt" />
<line x1="126.8" y1="657.2" x2="128.4" y2="657.2" stroke="#666" stroke-width="1.0" stroke-linecap="butt" />
<line x1="126.8" y1="647.8" x2="128.4" y2="647.8" stroke="#666" stroke-width="1.0" stroke-linecap="butt" />
<line x1="144.8" y1="826.0" x2="144.8" y2="831.5" stroke="#000" stroke-width="1.6" stroke-linecap="butt" />
<line x1="220.8" y1="826.0" x2="220.8" y2="831.5" stroke="#000" stroke-width="1.6" stroke-linecap="butt" />
<line x1="287.2" y1="826.0" x2="287.2" y2="831.5" stroke="#000" stroke-width="1.6" stroke-linecap="butt" />
<line x1="358.0" y1="826.0" x2="358.0" y2="831.5" stroke="#000" stroke-width="1.6" stroke-linecap="butt" />
<line x1="418.9" y1="826.0" x2="418.9" y2="831.5" stroke="#000" stroke-width="1.6" stroke-linecap="butt" />
<line x1="168.5" y1="826.0" x2="168.5" y2="829.2" stroke="#111" stroke-width="1.1" stroke-linecap="butt" />
<line x1="179.1" y1="826.0" x2="179.1" y2="829.2" stroke="#111" stroke-width="1.1" stroke-linecap="butt" />
<line x1="186.1" y1="826.0" x2="186.1" y2="829.2" stroke="#111" stroke-width="1.1" stroke-linecap="butt" />
<line x1="191.3" y1="826.0" x2="191.3" y2="829.2" stroke="#111" stroke-width="1.1" stroke-linecap="butt" />
<line x1="195.5" y1="826.0" x2="195.5" y2="829.2" stroke="#111" stroke-width="1.1" stroke-linecap="butt" />
<line x1="198.9" y1="826.0" x2="198.9" y2="829.2" stroke="#111" stroke-width="1.1" stroke-linecap="butt" />
<line x1="201.9" y1="826.0" x2="201.9" y2="829.2" stroke="#111" stroke-width="1.1" stroke-linecap="butt" />
<line x1="204.5" y1="826.0" x2="204.5" y2="829.2" stroke="#111" stroke-width="1.1" stroke-linecap="butt" />
<rect x="206.8" y="826.0" width="19" height="3.4" fill="#000"/>
<line x1="249.9" y1="826.0" x2="249.9" y2="829.2" stroke="#111" stroke-width="1.1" stroke-linecap="butt" />
<line x1="260.2" y1="826.0" x2="260.2" y2="829.2" stroke="#111" stroke-width="1.1" stroke-linecap="butt" />
<line x1="267.0" y1="826.0" x2="267.0" y2="829.2" stroke="#111" stroke-width="1.1" stroke-linecap="butt" />
<line x1="272.1" y1="826.0" x2="272.1" y2="829.2" stroke="#111" stroke-width="1.1" stroke-linecap="butt" />
<line x1="276.2" y1="826.0" x2="276.2" y2="829.2" stroke="#111" stroke-width="1.1" stroke-linecap="butt" />
<line x1="279.6" y1="826.0" x2="279.6" y2="829.2" stroke="#111" stroke-width="1.1" stroke-linecap="butt" />
<line x1="282.4" y1="826.0" x2="282.4" y2="829.2" stroke="#111" stroke-width="1.1" stroke-linecap="butt" />
<line x1="285.0" y1="826.0" x2="285.0" y2="829.2" stroke="#111" stroke-width="1.1" stroke-linecap="butt" />
<line x1="308.5" y1="826.0" x2="308.5" y2="829.2" stroke="#111" stroke-width="1.1" stroke-linecap="butt" />
<line x1="321.0" y1="826.0" x2="321.0" y2="829.2" stroke="#111" stroke-width="1.1" stroke-linecap="butt" />
<line x1="329.8" y1="826.0" x2="329.8" y2="829.2" stroke="#111" stroke-width="1.1" stroke-linecap="butt" />
<line x1="336.7" y1="826.0" x2="336.7" y2="829.2" stroke="#111" stroke-width="1.1" stroke-linecap="butt" />
<line x1="342.3" y1="826.0" x2="342.3" y2="829.2" stroke="#111" stroke-width="1.1" stroke-linecap="butt" />
<line x1="347.1" y1="826.0" x2="347.1" y2="829.2" stroke="#111" stroke-width="1.1" stroke-linecap="butt" />
<line x1="351.2" y1="826.0" x2="351.2" y2="829.2" stroke="#111" stroke-width="1.1" stroke-linecap="butt" />
<line x1="354.8" y1="826.0" x2="354.8" y2="829.2" stroke="#111" stroke-width="1.1" stroke-linecap="butt" />
<line x1="376.4" y1="826.0" x2="376.4" y2="829.2" stroke="#111" stroke-width="1.1" stroke-linecap="butt" />
<line x1="387.1" y1="826.0" x2="387.1" y2="829.2" stroke="#111" stroke-width="1.1" stroke-linecap="butt" />
<line x1="394.7" y1="826.0" x2="394.7" y2="829.2" stroke="#111" stroke-width="1.1" stroke-linecap="butt" />
<line x1="400.6" y1="826.0" x2="400.6" y2="829.2" stroke="#111" stroke-width="1.1" stroke-linecap="butt" />
<line x1="405.4" y1="826.0" x2="405.4" y2="829.2" stroke="#111" stroke-width="1.1" stroke-linecap="butt" />
<line x1="409.5" y1="826.0" x2="409.5" y2="829.2" stroke="#111" stroke-width="1.1" stroke-linecap="butt" />
<line x1="413.0" y1="826.0" x2="413.0" y2="829.2" stroke="#111" stroke-width="1.1" stroke-linecap="butt" />
<line x1="416.1" y1="826.0" x2="416.1" y2="829.2" stroke="#111" stroke-width="1.1" stroke-linecap="butt" />
<text x="145.3" y="843.1" font-size="8.6" fill="#2a2a2a" text-anchor="start" font-weight="bold" letter-spacing="0.4">-10<tspan font-size="6.6" dy="-3.4" dx="0.6">4</tspan></text>
<text x="220.8" y="843.1" font-size="8.6" fill="#2a2a2a" text-anchor="middle" font-weight="bold">0</text>
<text x="288.7" y="843.1" font-size="8.6" fill="#2a2a2a" text-anchor="start" font-weight="bold" letter-spacing="0.4">10<tspan font-size="6.6" dy="-3.4" dx="0.6">4</tspan></text>
<text x="361.5" y="843.1" font-size="8.6" fill="#2a2a2a" text-anchor="start" font-weight="bold" letter-spacing="0.4">10<tspan font-size="6.6" dy="-3.4" dx="0.6">5</tspan></text>
<text x="421.8" y="843.1" font-size="8.6" fill="#2a2a2a" text-anchor="end" font-weight="bold" letter-spacing="0.4">10<tspan font-size="6.6" dy="-3.4" dx="0.6">6</tspan></text>
<line x1="503.2" y1="637.8" x2="798.2" y2="637.8" stroke="#9a9a9a" stroke-width="1.2" stroke-linecap="butt" />
<line x1="503.2" y1="637.8" x2="503.2" y2="827.1" stroke="#333" stroke-width="1.3" stroke-linecap="butt" />
<line x1="798.2" y1="637.8" x2="798.2" y2="831.1" stroke="#333" stroke-width="1.5" stroke-linecap="butt" />
<path d="M587.8,826.6 C588.9,825.6 592.8,824.4 594.4,820.4 C596.1,816.4 596.6,811.6 597.8,802.7 C598.9,793.9 600.0,780.6 601.1,767.3 C602.2,754.0 603.3,735.5 604.4,723.0 C605.5,710.5 606.6,698.8 607.7,692.0 C608.8,685.2 609.9,684.1 611.0,682.0 C612.1,680.0 613.4,677.8 614.4,679.8 C615.3,681.9 615.8,687.8 616.6,694.2 C617.3,700.7 617.9,709.3 618.8,718.6 C619.7,727.8 621.0,739.2 622.1,749.6 C623.2,759.9 624.1,771.0 625.4,780.6 C626.7,790.2 628.4,800.5 629.9,807.1 C631.3,813.8 632.4,817.3 634.3,820.4 C636.1,823.6 639.8,825.0 640.9,826.0" fill="none" stroke="#b2b2b2" stroke-width="1.7" stroke-linejoin="round" stroke-linecap="round"/>
<path d="M590.0,826.6 C591.1,825.2 595.0,822.9 596.6,818.2 C598.3,813.5 598.9,807.5 600.0,798.3 C601.1,789.1 602.2,775.0 603.3,762.9 C604.4,750.7 605.5,736.3 606.6,725.2 C607.7,714.1 608.8,705.3 609.9,696.4 C611.0,687.6 612.3,677.4 613.2,672.1 C614.2,666.7 614.7,664.0 615.5,664.3 C616.2,664.7 616.9,669.3 617.7,674.3 C618.4,679.3 619.0,688.3 619.9,694.2 C620.8,700.1 622.1,703.8 623.2,709.7 C624.3,715.6 625.4,723.4 626.5,729.6 C627.6,735.9 628.6,741.8 629.9,747.4 C631.1,752.9 632.8,756.6 634.3,762.9 C635.8,769.1 637.2,779.5 638.7,785.0 C640.2,790.5 641.3,792.4 643.1,796.1 C645.0,799.8 647.2,803.6 649.8,807.1 C652.4,810.6 655.3,814.3 658.6,817.1 C662.0,819.9 666.0,822.2 669.7,823.8 C673.4,825.3 678.9,826.1 680.8,826.6" fill="none" stroke="#72ecf5" stroke-width="1.9" stroke-linejoin="round" stroke-linecap="round"/>
<path d="M592.2,826.6 C593.1,825.2 596.3,822.6 597.8,818.2 C599.2,813.9 600.0,808.2 601.1,800.5 C602.2,792.8 603.3,781.7 604.4,771.7 C605.5,761.8 606.6,749.6 607.7,740.7 C608.8,731.9 610.1,726.3 611.0,718.6 C612.0,710.8 612.5,702.0 613.2,694.2 C614.0,686.5 614.7,675.0 615.5,672.1 C616.2,669.1 616.9,674.7 617.7,676.5 C618.4,678.3 618.9,682.6 619.9,683.1 C620.9,683.7 622.4,679.1 623.7,679.8 C624.9,680.6 626.2,685.0 627.6,687.6 C629.0,690.2 630.8,692.4 632.1,695.3 C633.4,698.3 634.3,700.7 635.4,705.3 C636.5,709.9 637.6,717.1 638.7,723.0 C639.8,728.9 641.0,735.9 642.0,740.7 C643.1,745.5 643.8,749.4 644.9,751.8 C646.0,754.2 647.5,753.3 648.7,755.1 C649.9,757.0 650.7,759.7 652.0,762.9 C653.3,766.0 655.0,770.2 656.4,773.9 C657.9,777.6 659.0,780.9 660.9,785.0 C662.7,789.1 665.3,794.6 667.5,798.3 C669.7,802.0 672.1,803.8 674.1,807.1 C676.2,810.5 678.0,815.9 679.7,818.2 C681.3,820.5 682.4,820.4 684.1,820.9 C685.8,821.3 687.8,820.4 689.6,820.9 C691.5,821.4 693.3,822.9 695.2,823.8 C697.0,824.6 698.3,825.7 700.7,826.2 C703.1,826.7 708.1,826.7 709.6,826.9" fill="none" stroke="#d3261d" stroke-width="2.0" stroke-linejoin="round" stroke-linecap="round"/>
<line x1="502.7" y1="827.1" x2="798.7" y2="827.1" stroke="#000" stroke-width="1.6" stroke-linecap="butt" />
<line x1="500.0" y1="817.6" x2="503.2" y2="817.6" stroke="#111" stroke-width="1.6" stroke-linecap="butt" />
<line x1="500.0" y1="808.2" x2="503.2" y2="808.2" stroke="#111" stroke-width="1.6" stroke-linecap="butt" />
<line x1="500.0" y1="798.7" x2="503.2" y2="798.7" stroke="#111" stroke-width="1.6" stroke-linecap="butt" />
<line x1="500.0" y1="789.2" x2="503.2" y2="789.2" stroke="#111" stroke-width="1.6" stroke-linecap="butt" />
<line x1="500.0" y1="779.8" x2="503.2" y2="779.8" stroke="#111" stroke-width="1.6" stroke-linecap="butt" />
<line x1="500.0" y1="770.3" x2="503.2" y2="770.3" stroke="#111" stroke-width="1.6" stroke-linecap="butt" />
<line x1="500.0" y1="760.8" x2="503.2" y2="760.8" stroke="#111" stroke-width="1.6" stroke-linecap="butt" />
<line x1="500.0" y1="751.4" x2="503.2" y2="751.4" stroke="#111" stroke-width="1.6" stroke-linecap="butt" />
<line x1="500.0" y1="741.9" x2="503.2" y2="741.9" stroke="#111" stroke-width="1.6" stroke-linecap="butt" />
<line x1="500.0" y1="732.5" x2="503.2" y2="732.5" stroke="#111" stroke-width="1.6" stroke-linecap="butt" />
<line x1="500.0" y1="723.0" x2="503.2" y2="723.0" stroke="#111" stroke-width="1.6" stroke-linecap="butt" />
<line x1="500.0" y1="713.5" x2="503.2" y2="713.5" stroke="#111" stroke-width="1.6" stroke-linecap="butt" />
<line x1="500.0" y1="704.1" x2="503.2" y2="704.1" stroke="#111" stroke-width="1.6" stroke-linecap="butt" />
<line x1="500.0" y1="694.6" x2="503.2" y2="694.6" stroke="#111" stroke-width="1.6" stroke-linecap="butt" />
<line x1="500.0" y1="685.1" x2="503.2" y2="685.1" stroke="#111" stroke-width="1.6" stroke-linecap="butt" />
<line x1="500.0" y1="675.7" x2="503.2" y2="675.7" stroke="#111" stroke-width="1.6" stroke-linecap="butt" />
<line x1="500.0" y1="666.2" x2="503.2" y2="666.2" stroke="#111" stroke-width="1.6" stroke-linecap="butt" />
<line x1="500.0" y1="656.7" x2="503.2" y2="656.7" stroke="#111" stroke-width="1.6" stroke-linecap="butt" />
<line x1="500.0" y1="647.3" x2="503.2" y2="647.3" stroke="#111" stroke-width="1.6" stroke-linecap="butt" />
<line x1="519.1" y1="827.1" x2="519.1" y2="832.6" stroke="#000" stroke-width="1.6" stroke-linecap="butt" />
<line x1="595.5" y1="827.1" x2="595.5" y2="832.6" stroke="#000" stroke-width="1.6" stroke-linecap="butt" />
<line x1="662.0" y1="827.1" x2="662.0" y2="832.6" stroke="#000" stroke-width="1.6" stroke-linecap="butt" />
<line x1="733.9" y1="827.1" x2="733.9" y2="832.6" stroke="#000" stroke-width="1.6" stroke-linecap="butt" />
<line x1="795.9" y1="827.1" x2="795.9" y2="832.6" stroke="#000" stroke-width="1.6" stroke-linecap="butt" />
<line x1="543.0" y1="827.1" x2="543.0" y2="830.3" stroke="#111" stroke-width="1.1" stroke-linecap="butt" />
<line x1="553.7" y1="827.1" x2="553.7" y2="830.3" stroke="#111" stroke-width="1.1" stroke-linecap="butt" />
<line x1="560.7" y1="827.1" x2="560.7" y2="830.3" stroke="#111" stroke-width="1.1" stroke-linecap="butt" />
<line x1="566.0" y1="827.1" x2="566.0" y2="830.3" stroke="#111" stroke-width="1.1" stroke-linecap="butt" />
<line x1="570.2" y1="827.1" x2="570.2" y2="830.3" stroke="#111" stroke-width="1.1" stroke-linecap="butt" />
<line x1="573.7" y1="827.1" x2="573.7" y2="830.3" stroke="#111" stroke-width="1.1" stroke-linecap="butt" />
<line x1="576.6" y1="827.1" x2="576.6" y2="830.3" stroke="#111" stroke-width="1.1" stroke-linecap="butt" />
<line x1="579.2" y1="827.1" x2="579.2" y2="830.3" stroke="#111" stroke-width="1.1" stroke-linecap="butt" />
<rect x="581.5" y="827.1" width="19" height="3.4" fill="#000"/>
<line x1="624.7" y1="827.1" x2="624.7" y2="830.3" stroke="#111" stroke-width="1.1" stroke-linecap="butt" />
<line x1="635.0" y1="827.1" x2="635.0" y2="830.3" stroke="#111" stroke-width="1.1" stroke-linecap="butt" />
<line x1="641.8" y1="827.1" x2="641.8" y2="830.3" stroke="#111" stroke-width="1.1" stroke-linecap="butt" />
<line x1="646.9" y1="827.1" x2="646.9" y2="830.3" stroke="#111" stroke-width="1.1" stroke-linecap="butt" />
<line x1="651.0" y1="827.1" x2="651.0" y2="830.3" stroke="#111" stroke-width="1.1" stroke-linecap="butt" />
<line x1="654.4" y1="827.1" x2="654.4" y2="830.3" stroke="#111" stroke-width="1.1" stroke-linecap="butt" />
<line x1="657.2" y1="827.1" x2="657.2" y2="830.3" stroke="#111" stroke-width="1.1" stroke-linecap="butt" />
<line x1="659.7" y1="827.1" x2="659.7" y2="830.3" stroke="#111" stroke-width="1.1" stroke-linecap="butt" />
<line x1="683.6" y1="827.1" x2="683.6" y2="830.3" stroke="#111" stroke-width="1.1" stroke-linecap="butt" />
<line x1="696.3" y1="827.1" x2="696.3" y2="830.3" stroke="#111" stroke-width="1.1" stroke-linecap="butt" />
<line x1="705.3" y1="827.1" x2="705.3" y2="830.3" stroke="#111" stroke-width="1.1" stroke-linecap="butt" />
<line x1="712.3" y1="827.1" x2="712.3" y2="830.3" stroke="#111" stroke-width="1.1" stroke-linecap="butt" />
<line x1="718.0" y1="827.1" x2="718.0" y2="830.3" stroke="#111" stroke-width="1.1" stroke-linecap="butt" />
<line x1="722.8" y1="827.1" x2="722.8" y2="830.3" stroke="#111" stroke-width="1.1" stroke-linecap="butt" />
<line x1="727.0" y1="827.1" x2="727.0" y2="830.3" stroke="#111" stroke-width="1.1" stroke-linecap="butt" />
<line x1="730.6" y1="827.1" x2="730.6" y2="830.3" stroke="#111" stroke-width="1.1" stroke-linecap="butt" />
<line x1="752.6" y1="827.1" x2="752.6" y2="830.3" stroke="#111" stroke-width="1.1" stroke-linecap="butt" />
<line x1="763.5" y1="827.1" x2="763.5" y2="830.3" stroke="#111" stroke-width="1.1" stroke-linecap="butt" />
<line x1="771.3" y1="827.1" x2="771.3" y2="830.3" stroke="#111" stroke-width="1.1" stroke-linecap="butt" />
<line x1="777.3" y1="827.1" x2="777.3" y2="830.3" stroke="#111" stroke-width="1.1" stroke-linecap="butt" />
<line x1="782.2" y1="827.1" x2="782.2" y2="830.3" stroke="#111" stroke-width="1.1" stroke-linecap="butt" />
<line x1="786.3" y1="827.1" x2="786.3" y2="830.3" stroke="#111" stroke-width="1.1" stroke-linecap="butt" />
<line x1="789.9" y1="827.1" x2="789.9" y2="830.3" stroke="#111" stroke-width="1.1" stroke-linecap="butt" />
<line x1="793.1" y1="827.1" x2="793.1" y2="830.3" stroke="#111" stroke-width="1.1" stroke-linecap="butt" />
<text x="519.6" y="844.2" font-size="8.6" fill="#2a2a2a" text-anchor="start" font-weight="bold" letter-spacing="0.4">-10<tspan font-size="6.6" dy="-3.4" dx="0.6">4</tspan></text>
<text x="595.5" y="844.2" font-size="8.6" fill="#2a2a2a" text-anchor="middle" font-weight="bold">0</text>
<text x="663.5" y="844.2" font-size="8.6" fill="#2a2a2a" text-anchor="start" font-weight="bold" letter-spacing="0.4">10<tspan font-size="6.6" dy="-3.4" dx="0.6">4</tspan></text>
<text x="737.4" y="844.2" font-size="8.6" fill="#2a2a2a" text-anchor="start" font-weight="bold" letter-spacing="0.4">10<tspan font-size="6.6" dy="-3.4" dx="0.6">5</tspan></text>
<text x="797.7" y="844.2" font-size="8.6" fill="#2a2a2a" text-anchor="end" font-weight="bold" letter-spacing="0.4">10<tspan font-size="6.6" dy="-3.4" dx="0.6">6</tspan></text>
<line x1="127.8" y1="885.3" x2="420.7" y2="885.3" stroke="#9a9a9a" stroke-width="1.2" stroke-linecap="butt" />
<line x1="127.8" y1="885.3" x2="127.8" y2="1072.9" stroke="#222" stroke-width="1.3" stroke-linecap="butt" />
<line x1="420.7" y1="885.3" x2="420.7" y2="1076.9" stroke="#222" stroke-width="1.5" stroke-linecap="butt" />
<path d="M213.0,1072.4 C213.9,1071.0 217.1,1069.1 218.5,1064.0 C220.0,1058.9 220.7,1052.2 221.9,1041.9 C223.0,1031.5 224.1,1016.4 225.2,1002.0 C226.3,987.6 227.6,967.7 228.5,955.5 C229.4,943.3 230.0,934.9 230.7,928.9 C231.5,922.9 232.2,920.0 232.9,919.4 C233.7,918.9 234.4,921.8 235.1,925.6 C235.9,929.4 236.4,934.6 237.4,942.2 C238.3,949.8 239.6,961.0 240.7,971.0 C241.8,981.0 242.7,991.7 244.0,1002.0 C245.3,1012.3 247.0,1024.5 248.4,1033.0 C249.9,1041.5 251.2,1047.6 252.9,1052.9 C254.5,1058.3 256.2,1062.1 258.4,1065.1 C260.6,1068.1 263.4,1069.9 266.1,1071.1 C268.9,1072.3 273.5,1072.2 275.0,1072.4" fill="none" stroke="#b2b2b2" stroke-width="1.7" stroke-linejoin="round" stroke-linecap="round"/>
<path d="M217.4,1072.4 C218.5,1071.4 222.2,1069.5 224.1,1066.2 C225.9,1063.0 227.0,1058.8 228.5,1052.9 C230.0,1047.0 231.5,1038.5 232.9,1030.8 C234.4,1023.0 235.9,1014.5 237.4,1006.4 C238.8,998.3 240.5,988.7 241.8,982.1 C243.1,975.4 244.0,970.3 245.1,966.6 C246.2,962.9 247.3,961.6 248.4,959.9 C249.5,958.3 250.6,958.8 251.8,956.6 C252.9,954.4 254.0,949.8 255.1,946.6 C256.2,943.5 257.5,939.4 258.4,937.8 C259.3,936.1 259.9,936.1 260.6,936.7 C261.3,937.2 262.1,940.0 262.8,941.1 C263.6,942.2 264.1,944.2 265.0,943.3 C266.0,942.4 267.4,938.0 268.4,935.6 C269.3,933.2 269.8,930.5 270.6,928.9 C271.3,927.4 272.0,925.5 272.8,926.3 C273.5,927.0 274.3,930.0 275.0,933.4 C275.7,936.8 276.5,942.2 277.2,946.6 C278.0,951.1 278.5,955.5 279.4,959.9 C280.4,964.4 281.6,967.7 282.8,973.2 C283.9,978.8 285.0,986.9 286.1,993.1 C287.2,999.4 288.1,1005.7 289.4,1010.9 C290.7,1016.0 292.5,1019.0 293.8,1024.1 C295.1,1029.3 295.9,1036.7 297.1,1041.9 C298.4,1047.0 300.1,1051.3 301.6,1055.1 C303.0,1059.0 304.2,1062.5 306.0,1065.1 C307.8,1067.8 310.4,1069.8 312.6,1071.1 C314.9,1072.4 318.2,1072.6 319.3,1072.9" fill="none" stroke="#56b6ec" stroke-width="1.9" stroke-linejoin="round" stroke-linecap="round"/>
<path d="M219.6,1072.9 C220.8,1072.1 224.1,1070.8 226.3,1068.4 C228.5,1066.0 231.1,1061.0 232.9,1058.5 C234.8,1055.9 235.9,1054.0 237.4,1052.9 C238.8,1051.8 240.3,1053.3 241.8,1051.8 C243.3,1050.3 244.7,1046.8 246.2,1044.1 C247.7,1041.3 249.2,1037.4 250.6,1035.2 C252.1,1033.0 253.4,1033.0 255.1,1030.8 C256.7,1028.6 258.8,1024.1 260.6,1021.9 C262.5,1019.7 264.3,1019.0 266.1,1017.5 C268.0,1016.0 270.2,1015.7 271.7,1013.1 C273.2,1010.5 273.9,1006.8 275.0,1002.0 C276.1,997.2 277.2,989.1 278.3,984.3 C279.4,979.5 280.5,975.6 281.6,973.2 C282.7,970.8 283.9,972.1 285.0,969.9 C286.1,967.7 287.2,964.5 288.3,959.9 C289.4,955.3 290.5,947.9 291.6,942.2 C292.7,936.5 294.2,928.6 294.9,925.6 C295.7,922.7 295.5,923.0 296.0,924.5 C296.6,926.0 297.5,933.7 298.2,934.5 C299.0,935.2 299.7,931.3 300.5,928.9 C301.2,926.5 301.9,922.0 302.7,920.1 C303.4,918.2 304.2,916.7 304.9,917.4 C305.6,918.2 306.4,921.5 307.1,924.5 C307.8,927.5 308.5,932.8 309.3,935.6 C310.2,938.3 311.3,940.9 312.2,941.1 C313.1,941.3 314.0,937.6 314.9,936.7 C315.7,935.8 316.3,934.6 317.1,935.6 C317.8,936.5 318.4,939.6 319.3,942.2 C320.2,944.8 321.5,948.9 322.6,951.1 C323.7,953.3 324.8,954.6 325.9,955.5 C327.0,956.4 328.1,954.8 329.2,956.6 C330.4,958.5 331.5,963.1 332.6,966.6 C333.7,970.1 334.8,974.3 335.9,977.6 C337.0,981.0 338.1,982.8 339.2,986.5 C340.3,990.2 341.4,995.7 342.5,999.8 C343.6,1003.8 344.8,1007.9 345.9,1010.9 C347.0,1013.8 348.1,1016.2 349.2,1017.5 C350.3,1018.8 351.4,1017.1 352.5,1018.6 C353.6,1020.1 354.7,1022.9 355.8,1026.4 C356.9,1029.9 357.9,1034.8 359.1,1039.6 C360.4,1044.4 361.7,1051.1 363.6,1055.1 C365.4,1059.2 368.0,1061.6 370.2,1064.0 C372.4,1066.4 374.3,1068.1 376.9,1069.5 C379.4,1071.0 383.1,1072.2 385.7,1072.9 C388.3,1073.5 391.2,1073.2 392.4,1073.3" fill="none" stroke="#d3261d" stroke-width="2.0" stroke-linejoin="round" stroke-linecap="round"/>
<line x1="127.3" y1="1072.9" x2="421.2" y2="1072.9" stroke="#000" stroke-width="1.6" stroke-linecap="butt" />
<line x1="124.6" y1="1063.5" x2="127.8" y2="1063.5" stroke="#111" stroke-width="1.6" stroke-linecap="butt" />
<line x1="124.6" y1="1054.1" x2="127.8" y2="1054.1" stroke="#111" stroke-width="1.6" stroke-linecap="butt" />
<line x1="124.6" y1="1044.8" x2="127.8" y2="1044.8" stroke="#111" stroke-width="1.6" stroke-linecap="butt" />
<line x1="124.6" y1="1035.4" x2="127.8" y2="1035.4" stroke="#111" stroke-width="1.6" stroke-linecap="butt" />
<line x1="124.6" y1="1026.0" x2="127.8" y2="1026.0" stroke="#111" stroke-width="1.6" stroke-linecap="butt" />
<line x1="124.6" y1="1016.6" x2="127.8" y2="1016.6" stroke="#111" stroke-width="1.6" stroke-linecap="butt" />
<line x1="124.6" y1="1007.2" x2="127.8" y2="1007.2" stroke="#111" stroke-width="1.6" stroke-linecap="butt" />
<line x1="124.6" y1="997.9" x2="127.8" y2="997.9" stroke="#111" stroke-width="1.6" stroke-linecap="butt" />
<line x1="124.6" y1="988.5" x2="127.8" y2="988.5" stroke="#111" stroke-width="1.6" stroke-linecap="butt" />
<line x1="124.6" y1="979.1" x2="127.8" y2="979.1" stroke="#111" stroke-width="1.6" stroke-linecap="butt" />
<line x1="124.6" y1="969.7" x2="127.8" y2="969.7" stroke="#111" stroke-width="1.6" stroke-linecap="butt" />
<line x1="124.6" y1="960.3" x2="127.8" y2="960.3" stroke="#111" stroke-width="1.6" stroke-linecap="butt" />
<line x1="124.6" y1="951.0" x2="127.8" y2="951.0" stroke="#111" stroke-width="1.6" stroke-linecap="butt" />
<line x1="124.6" y1="941.6" x2="127.8" y2="941.6" stroke="#111" stroke-width="1.6" stroke-linecap="butt" />
<line x1="124.6" y1="932.2" x2="127.8" y2="932.2" stroke="#111" stroke-width="1.6" stroke-linecap="butt" />
<line x1="124.6" y1="922.8" x2="127.8" y2="922.8" stroke="#111" stroke-width="1.6" stroke-linecap="butt" />
<line x1="124.6" y1="913.4" x2="127.8" y2="913.4" stroke="#111" stroke-width="1.6" stroke-linecap="butt" />
<line x1="124.6" y1="904.1" x2="127.8" y2="904.1" stroke="#111" stroke-width="1.6" stroke-linecap="butt" />
<line x1="124.6" y1="894.7" x2="127.8" y2="894.7" stroke="#111" stroke-width="1.6" stroke-linecap="butt" />
<line x1="144.8" y1="1072.9" x2="144.8" y2="1078.4" stroke="#000" stroke-width="1.6" stroke-linecap="butt" />
<line x1="219.6" y1="1072.9" x2="219.6" y2="1078.4" stroke="#000" stroke-width="1.6" stroke-linecap="butt" />
<line x1="286.1" y1="1072.9" x2="286.1" y2="1078.4" stroke="#000" stroke-width="1.6" stroke-linecap="butt" />
<line x1="357.4" y1="1072.9" x2="357.4" y2="1078.4" stroke="#000" stroke-width="1.6" stroke-linecap="butt" />
<line x1="418.5" y1="1072.9" x2="418.5" y2="1078.4" stroke="#000" stroke-width="1.6" stroke-linecap="butt" />
<line x1="168.1" y1="1072.9" x2="168.1" y2="1076.1" stroke="#111" stroke-width="1.1" stroke-linecap="butt" />
<line x1="178.5" y1="1072.9" x2="178.5" y2="1076.1" stroke="#111" stroke-width="1.1" stroke-linecap="butt" />
<line x1="185.3" y1="1072.9" x2="185.3" y2="1076.1" stroke="#111" stroke-width="1.1" stroke-linecap="butt" />
<line x1="190.5" y1="1072.9" x2="190.5" y2="1076.1" stroke="#111" stroke-width="1.1" stroke-linecap="butt" />
<line x1="194.6" y1="1072.9" x2="194.6" y2="1076.1" stroke="#111" stroke-width="1.1" stroke-linecap="butt" />
<line x1="198.0" y1="1072.9" x2="198.0" y2="1076.1" stroke="#111" stroke-width="1.1" stroke-linecap="butt" />
<line x1="200.9" y1="1072.9" x2="200.9" y2="1076.1" stroke="#111" stroke-width="1.1" stroke-linecap="butt" />
<line x1="203.4" y1="1072.9" x2="203.4" y2="1076.1" stroke="#111" stroke-width="1.1" stroke-linecap="butt" />
<rect x="205.6" y="1072.9" width="19" height="3.4" fill="#000"/>
<line x1="248.8" y1="1072.9" x2="248.8" y2="1076.1" stroke="#111" stroke-width="1.1" stroke-linecap="butt" />
<line x1="259.1" y1="1072.9" x2="259.1" y2="1076.1" stroke="#111" stroke-width="1.1" stroke-linecap="butt" />
<line x1="265.9" y1="1072.9" x2="265.9" y2="1076.1" stroke="#111" stroke-width="1.1" stroke-linecap="butt" />
<line x1="271.0" y1="1072.9" x2="271.0" y2="1076.1" stroke="#111" stroke-width="1.1" stroke-linecap="butt" />
<line x1="275.1" y1="1072.9" x2="275.1" y2="1076.1" stroke="#111" stroke-width="1.1" stroke-linecap="butt" />
<line x1="278.5" y1="1072.9" x2="278.5" y2="1076.1" stroke="#111" stroke-width="1.1" stroke-linecap="butt" />
<line x1="281.3" y1="1072.9" x2="281.3" y2="1076.1" stroke="#111" stroke-width="1.1" stroke-linecap="butt" />
<line x1="283.8" y1="1072.9" x2="283.8" y2="1076.1" stroke="#111" stroke-width="1.1" stroke-linecap="butt" />
<line x1="307.5" y1="1072.9" x2="307.5" y2="1076.1" stroke="#111" stroke-width="1.1" stroke-linecap="butt" />
<line x1="320.1" y1="1072.9" x2="320.1" y2="1076.1" stroke="#111" stroke-width="1.1" stroke-linecap="butt" />
<line x1="329.0" y1="1072.9" x2="329.0" y2="1076.1" stroke="#111" stroke-width="1.1" stroke-linecap="butt" />
<line x1="335.9" y1="1072.9" x2="335.9" y2="1076.1" stroke="#111" stroke-width="1.1" stroke-linecap="butt" />
<line x1="341.6" y1="1072.9" x2="341.6" y2="1076.1" stroke="#111" stroke-width="1.1" stroke-linecap="butt" />
<line x1="346.3" y1="1072.9" x2="346.3" y2="1076.1" stroke="#111" stroke-width="1.1" stroke-linecap="butt" />
<line x1="350.5" y1="1072.9" x2="350.5" y2="1076.1" stroke="#111" stroke-width="1.1" stroke-linecap="butt" />
<line x1="354.1" y1="1072.9" x2="354.1" y2="1076.1" stroke="#111" stroke-width="1.1" stroke-linecap="butt" />
<line x1="375.8" y1="1072.9" x2="375.8" y2="1076.1" stroke="#111" stroke-width="1.1" stroke-linecap="butt" />
<line x1="386.5" y1="1072.9" x2="386.5" y2="1076.1" stroke="#111" stroke-width="1.1" stroke-linecap="butt" />
<line x1="394.2" y1="1072.9" x2="394.2" y2="1076.1" stroke="#111" stroke-width="1.1" stroke-linecap="butt" />
<line x1="400.1" y1="1072.9" x2="400.1" y2="1076.1" stroke="#111" stroke-width="1.1" stroke-linecap="butt" />
<line x1="404.9" y1="1072.9" x2="404.9" y2="1076.1" stroke="#111" stroke-width="1.1" stroke-linecap="butt" />
<line x1="409.0" y1="1072.9" x2="409.0" y2="1076.1" stroke="#111" stroke-width="1.1" stroke-linecap="butt" />
<line x1="412.6" y1="1072.9" x2="412.6" y2="1076.1" stroke="#111" stroke-width="1.1" stroke-linecap="butt" />
<line x1="415.7" y1="1072.9" x2="415.7" y2="1076.1" stroke="#111" stroke-width="1.1" stroke-linecap="butt" />
<text x="145.3" y="1090.0" font-size="8.6" fill="#2a2a2a" text-anchor="start" font-weight="bold" letter-spacing="0.4">-10<tspan font-size="6.6" dy="-3.4" dx="0.6">4</tspan></text>
<text x="219.6" y="1090.0" font-size="8.6" fill="#2a2a2a" text-anchor="middle" font-weight="bold">0</text>
<text x="287.6" y="1090.0" font-size="8.6" fill="#2a2a2a" text-anchor="start" font-weight="bold" letter-spacing="0.4">10<tspan font-size="6.6" dy="-3.4" dx="0.6">4</tspan></text>
<text x="360.9" y="1090.0" font-size="8.6" fill="#2a2a2a" text-anchor="start" font-weight="bold" letter-spacing="0.4">10<tspan font-size="6.6" dy="-3.4" dx="0.6">5</tspan></text>
<text x="420.2" y="1090.0" font-size="8.6" fill="#2a2a2a" text-anchor="end" font-weight="bold" letter-spacing="0.4">10<tspan font-size="6.6" dy="-3.4" dx="0.6">6</tspan></text>
<line x1="505.9" y1="885.8" x2="798.6" y2="885.8" stroke="#8a8a8a" stroke-width="1.2" stroke-linecap="butt" />
<line x1="505.9" y1="885.8" x2="505.9" y2="1073.8" stroke="#222" stroke-width="1.3" stroke-linecap="butt" />
<line x1="798.6" y1="885.8" x2="798.6" y2="1077.8" stroke="#222" stroke-width="1.5" stroke-linecap="butt" />
<path d="M586.7,1073.3 C587.6,1072.1 590.6,1070.7 592.2,1066.2 C593.9,1061.7 595.4,1054.8 596.6,1046.3 C597.9,1037.8 598.9,1027.5 600.0,1015.3 C601.1,1003.1 602.2,986.5 603.3,973.2 C604.4,959.9 605.6,945.9 606.6,935.6 C607.6,925.2 608.6,916.0 609.5,911.2 C610.3,906.4 610.9,904.9 611.7,906.8 C612.5,908.6 613.4,915.3 614.4,922.3 C615.4,929.3 616.6,939.6 617.7,948.9 C618.8,958.1 619.7,968.0 621.0,977.6 C622.3,987.2 624.0,997.6 625.4,1006.4 C626.9,1015.3 628.2,1023.8 629.9,1030.8 C631.5,1037.8 633.4,1043.3 635.4,1048.5 C637.4,1053.7 639.6,1058.3 642.0,1061.8 C644.4,1065.3 647.0,1067.7 649.8,1069.5 C652.6,1071.4 657.2,1072.3 658.6,1072.9" fill="none" stroke="#b2b2b2" stroke-width="1.7" stroke-linejoin="round" stroke-linecap="round"/>
<path d="M588.9,1073.3 C589.8,1071.8 593.0,1069.2 594.4,1064.0 C595.9,1058.8 596.6,1051.5 597.8,1041.9 C598.9,1032.3 600.0,1019.0 601.1,1006.4 C602.2,993.9 603.3,979.5 604.4,966.6 C605.5,953.7 606.7,938.9 607.7,928.9 C608.7,919.0 609.6,911.6 610.4,906.8 C611.2,902.0 611.7,899.4 612.6,900.1 C613.4,900.9 614.4,907.9 615.5,911.2 C616.5,914.5 617.7,915.3 618.8,920.1 C619.9,924.9 621.0,932.6 622.1,940.0 C623.2,947.4 624.1,955.9 625.4,964.4 C626.7,972.8 628.4,983.2 629.9,990.9 C631.3,998.7 632.8,1004.6 634.3,1010.9 C635.8,1017.1 637.1,1023.0 638.7,1028.6 C640.4,1034.1 642.4,1039.6 644.2,1044.1 C646.1,1048.5 647.8,1051.8 649.8,1055.1 C651.8,1058.5 653.8,1061.4 656.4,1064.0 C659.0,1066.6 662.3,1069.1 665.3,1070.6 C668.2,1072.2 672.7,1072.9 674.1,1073.3" fill="none" stroke="#72ecf5" stroke-width="1.9" stroke-linejoin="round" stroke-linecap="round"/>
<path d="M592.2,1073.3 C593.1,1072.1 596.3,1070.0 597.8,1066.2 C599.2,1062.5 600.0,1057.7 601.1,1050.7 C602.2,1043.7 603.3,1033.7 604.4,1024.1 C605.5,1014.5 606.6,1003.1 607.7,993.1 C608.8,983.2 609.9,974.0 611.0,964.4 C612.1,954.8 613.2,943.1 614.4,935.6 C615.5,928.0 616.6,923.8 617.7,919.0 C618.8,914.2 620.0,909.7 621.0,906.8 C622.0,903.9 622.7,902.1 623.7,901.7 C624.6,901.3 625.7,903.0 626.5,904.6 C627.4,906.2 628.0,907.2 628.8,911.2 C629.5,915.3 630.0,922.7 631.0,928.9 C631.9,935.2 633.0,942.6 634.3,948.9 C635.6,955.1 637.4,961.8 638.7,966.6 C640.0,971.4 641.1,973.6 642.0,977.6 C643.0,981.7 643.3,987.1 644.2,990.9 C645.2,994.8 646.6,998.9 647.6,1000.9 C648.5,1002.9 649.0,1001.1 649.8,1003.1 C650.5,1005.1 651.1,1009.6 652.0,1013.1 C652.9,1016.6 654.0,1020.8 655.3,1024.1 C656.6,1027.5 658.3,1030.0 659.8,1033.0 C661.2,1036.0 662.9,1038.5 664.2,1041.9 C665.5,1045.2 666.0,1049.8 667.5,1052.9 C669.0,1056.1 671.2,1058.5 673.0,1060.7 C674.9,1062.9 676.5,1064.6 678.6,1066.2 C680.6,1067.9 683.0,1069.5 685.2,1070.6 C687.4,1071.8 689.3,1072.3 691.9,1072.9 C694.4,1073.4 699.2,1073.6 700.7,1073.7" fill="none" stroke="#d3261d" stroke-width="2.0" stroke-linejoin="round" stroke-linecap="round"/>
<line x1="505.4" y1="1073.8" x2="799.1" y2="1073.8" stroke="#000" stroke-width="1.6" stroke-linecap="butt" />
<line x1="502.7" y1="1064.4" x2="505.9" y2="1064.4" stroke="#111" stroke-width="1.6" stroke-linecap="butt" />
<line x1="502.7" y1="1055.0" x2="505.9" y2="1055.0" stroke="#111" stroke-width="1.6" stroke-linecap="butt" />
<line x1="502.7" y1="1045.6" x2="505.9" y2="1045.6" stroke="#111" stroke-width="1.6" stroke-linecap="butt" />
<line x1="502.7" y1="1036.2" x2="505.9" y2="1036.2" stroke="#111" stroke-width="1.6" stroke-linecap="butt" />
<line x1="502.7" y1="1026.8" x2="505.9" y2="1026.8" stroke="#111" stroke-width="1.6" stroke-linecap="butt" />
<line x1="502.7" y1="1017.4" x2="505.9" y2="1017.4" stroke="#111" stroke-width="1.6" stroke-linecap="butt" />
<line x1="502.7" y1="1008.0" x2="505.9" y2="1008.0" stroke="#111" stroke-width="1.6" stroke-linecap="butt" />
<line x1="502.7" y1="998.6" x2="505.9" y2="998.6" stroke="#111" stroke-width="1.6" stroke-linecap="butt" />
<line x1="502.7" y1="989.2" x2="505.9" y2="989.2" stroke="#111" stroke-width="1.6" stroke-linecap="butt" />
<line x1="502.7" y1="979.8" x2="505.9" y2="979.8" stroke="#111" stroke-width="1.6" stroke-linecap="butt" />
<line x1="502.7" y1="970.4" x2="505.9" y2="970.4" stroke="#111" stroke-width="1.6" stroke-linecap="butt" />
<line x1="502.7" y1="961.0" x2="505.9" y2="961.0" stroke="#111" stroke-width="1.6" stroke-linecap="butt" />
<line x1="502.7" y1="951.6" x2="505.9" y2="951.6" stroke="#111" stroke-width="1.6" stroke-linecap="butt" />
<line x1="502.7" y1="942.2" x2="505.9" y2="942.2" stroke="#111" stroke-width="1.6" stroke-linecap="butt" />
<line x1="502.7" y1="932.8" x2="505.9" y2="932.8" stroke="#111" stroke-width="1.6" stroke-linecap="butt" />
<line x1="502.7" y1="923.4" x2="505.9" y2="923.4" stroke="#111" stroke-width="1.6" stroke-linecap="butt" />
<line x1="502.7" y1="914.0" x2="505.9" y2="914.0" stroke="#111" stroke-width="1.6" stroke-linecap="butt" />
<line x1="502.7" y1="904.6" x2="505.9" y2="904.6" stroke="#111" stroke-width="1.6" stroke-linecap="butt" />
<line x1="502.7" y1="895.2" x2="505.9" y2="895.2" stroke="#111" stroke-width="1.6" stroke-linecap="butt" />
<line x1="523.1" y1="1073.8" x2="523.1" y2="1079.3" stroke="#000" stroke-width="1.6" stroke-linecap="butt" />
<line x1="597.8" y1="1073.8" x2="597.8" y2="1079.3" stroke="#000" stroke-width="1.6" stroke-linecap="butt" />
<line x1="664.2" y1="1073.8" x2="664.2" y2="1079.3" stroke="#000" stroke-width="1.6" stroke-linecap="butt" />
<line x1="735.0" y1="1073.8" x2="735.0" y2="1079.3" stroke="#000" stroke-width="1.6" stroke-linecap="butt" />
<line x1="796.4" y1="1073.8" x2="796.4" y2="1079.3" stroke="#000" stroke-width="1.6" stroke-linecap="butt" />
<line x1="546.3" y1="1073.8" x2="546.3" y2="1077.0" stroke="#111" stroke-width="1.1" stroke-linecap="butt" />
<line x1="556.7" y1="1073.8" x2="556.7" y2="1077.0" stroke="#111" stroke-width="1.1" stroke-linecap="butt" />
<line x1="563.5" y1="1073.8" x2="563.5" y2="1077.0" stroke="#111" stroke-width="1.1" stroke-linecap="butt" />
<line x1="568.6" y1="1073.8" x2="568.6" y2="1077.0" stroke="#111" stroke-width="1.1" stroke-linecap="butt" />
<line x1="572.7" y1="1073.8" x2="572.7" y2="1077.0" stroke="#111" stroke-width="1.1" stroke-linecap="butt" />
<line x1="576.1" y1="1073.8" x2="576.1" y2="1077.0" stroke="#111" stroke-width="1.1" stroke-linecap="butt" />
<line x1="579.0" y1="1073.8" x2="579.0" y2="1077.0" stroke="#111" stroke-width="1.1" stroke-linecap="butt" />
<line x1="581.5" y1="1073.8" x2="581.5" y2="1077.0" stroke="#111" stroke-width="1.1" stroke-linecap="butt" />
<rect x="583.8" y="1073.8" width="19" height="3.4" fill="#000"/>
<line x1="626.9" y1="1073.8" x2="626.9" y2="1077.0" stroke="#111" stroke-width="1.1" stroke-linecap="butt" />
<line x1="637.2" y1="1073.8" x2="637.2" y2="1077.0" stroke="#111" stroke-width="1.1" stroke-linecap="butt" />
<line x1="644.0" y1="1073.8" x2="644.0" y2="1077.0" stroke="#111" stroke-width="1.1" stroke-linecap="butt" />
<line x1="649.1" y1="1073.8" x2="649.1" y2="1077.0" stroke="#111" stroke-width="1.1" stroke-linecap="butt" />
<line x1="653.2" y1="1073.8" x2="653.2" y2="1077.0" stroke="#111" stroke-width="1.1" stroke-linecap="butt" />
<line x1="656.6" y1="1073.8" x2="656.6" y2="1077.0" stroke="#111" stroke-width="1.1" stroke-linecap="butt" />
<line x1="659.4" y1="1073.8" x2="659.4" y2="1077.0" stroke="#111" stroke-width="1.1" stroke-linecap="butt" />
<line x1="662.0" y1="1073.8" x2="662.0" y2="1077.0" stroke="#111" stroke-width="1.1" stroke-linecap="butt" />
<line x1="685.5" y1="1073.8" x2="685.5" y2="1077.0" stroke="#111" stroke-width="1.1" stroke-linecap="butt" />
<line x1="698.0" y1="1073.8" x2="698.0" y2="1077.0" stroke="#111" stroke-width="1.1" stroke-linecap="butt" />
<line x1="706.8" y1="1073.8" x2="706.8" y2="1077.0" stroke="#111" stroke-width="1.1" stroke-linecap="butt" />
<line x1="713.7" y1="1073.8" x2="713.7" y2="1077.0" stroke="#111" stroke-width="1.1" stroke-linecap="butt" />
<line x1="719.3" y1="1073.8" x2="719.3" y2="1077.0" stroke="#111" stroke-width="1.1" stroke-linecap="butt" />
<line x1="724.1" y1="1073.8" x2="724.1" y2="1077.0" stroke="#111" stroke-width="1.1" stroke-linecap="butt" />
<line x1="728.2" y1="1073.8" x2="728.2" y2="1077.0" stroke="#111" stroke-width="1.1" stroke-linecap="butt" />
<line x1="731.8" y1="1073.8" x2="731.8" y2="1077.0" stroke="#111" stroke-width="1.1" stroke-linecap="butt" />
<line x1="753.5" y1="1073.8" x2="753.5" y2="1077.0" stroke="#111" stroke-width="1.1" stroke-linecap="butt" />
<line x1="764.3" y1="1073.8" x2="764.3" y2="1077.0" stroke="#111" stroke-width="1.1" stroke-linecap="butt" />
<line x1="772.0" y1="1073.8" x2="772.0" y2="1077.0" stroke="#111" stroke-width="1.1" stroke-linecap="butt" />
<line x1="777.9" y1="1073.8" x2="777.9" y2="1077.0" stroke="#111" stroke-width="1.1" stroke-linecap="butt" />
<line x1="782.8" y1="1073.8" x2="782.8" y2="1077.0" stroke="#111" stroke-width="1.1" stroke-linecap="butt" />
<line x1="786.9" y1="1073.8" x2="786.9" y2="1077.0" stroke="#111" stroke-width="1.1" stroke-linecap="butt" />
<line x1="790.4" y1="1073.8" x2="790.4" y2="1077.0" stroke="#111" stroke-width="1.1" stroke-linecap="butt" />
<line x1="793.6" y1="1073.8" x2="793.6" y2="1077.0" stroke="#111" stroke-width="1.1" stroke-linecap="butt" />
<text x="523.6" y="1090.9" font-size="8.6" fill="#2a2a2a" text-anchor="start" font-weight="bold" letter-spacing="0.4">-10<tspan font-size="6.6" dy="-3.4" dx="0.6">4</tspan></text>
<text x="597.8" y="1090.9" font-size="8.6" fill="#2a2a2a" text-anchor="middle" font-weight="bold">0</text>
<text x="665.7" y="1090.9" font-size="8.6" fill="#2a2a2a" text-anchor="start" font-weight="bold" letter-spacing="0.4">10<tspan font-size="6.6" dy="-3.4" dx="0.6">4</tspan></text>
<text x="738.5" y="1090.9" font-size="8.6" fill="#2a2a2a" text-anchor="start" font-weight="bold" letter-spacing="0.4">10<tspan font-size="6.6" dy="-3.4" dx="0.6">5</tspan></text>
<text x="798.1" y="1090.9" font-size="8.6" fill="#2a2a2a" text-anchor="end" font-weight="bold" letter-spacing="0.4">10<tspan font-size="6.6" dy="-3.4" dx="0.6">6</tspan></text>
<line x1="880.8" y1="886.9" x2="1175.9" y2="886.9" stroke="#444" stroke-width="1.2" stroke-linecap="butt" />
<line x1="880.8" y1="886.9" x2="880.8" y2="1076.0" stroke="#000" stroke-width="1.3" stroke-linecap="butt" />
<line x1="1175.9" y1="886.9" x2="1175.9" y2="1080.0" stroke="#000" stroke-width="1.5" stroke-linecap="butt" />
<path d="M960.5,1075.5 C961.4,1074.3 964.3,1072.6 966.0,1068.4 C967.7,1064.3 969.1,1058.8 970.4,1050.7 C971.7,1042.6 972.6,1032.3 973.8,1019.7 C974.9,1007.2 976.1,988.3 977.1,975.4 C978.0,962.5 978.5,950.5 979.3,942.2 C980.0,933.9 980.8,928.7 981.5,925.6 C982.2,922.5 983.0,921.7 983.7,923.4 C984.5,925.1 985.0,930.6 985.9,935.6 C986.9,940.6 988.1,947.4 989.2,953.3 C990.4,959.2 991.5,964.4 992.6,971.0 C993.7,977.6 994.6,985.0 995.9,993.1 C997.2,1001.3 998.8,1012.0 1000.3,1019.7 C1001.8,1027.5 1003.3,1033.4 1004.8,1039.6 C1006.2,1045.9 1007.7,1053.4 1009.2,1057.4 C1010.7,1061.3 1012.1,1062.4 1013.6,1063.6 C1015.1,1064.7 1016.4,1063.6 1018.0,1064.4 C1019.7,1065.3 1021.2,1067.0 1023.6,1068.4 C1026.0,1069.8 1029.8,1071.8 1032.4,1072.9 C1035.0,1074.0 1038.0,1074.7 1039.1,1075.1" fill="none" stroke="#b2b2b2" stroke-width="1.7" stroke-linejoin="round" stroke-linecap="round"/>
<path d="M963.8,1075.5 C964.7,1074.3 967.8,1072.6 969.3,1068.4 C970.8,1064.3 971.5,1058.8 972.6,1050.7 C973.8,1042.6 974.9,1031.9 976.0,1019.7 C977.1,1007.5 978.2,991.7 979.3,977.6 C980.4,963.6 981.7,945.9 982.6,935.6 C983.5,925.2 984.1,919.7 984.8,915.6 C985.6,911.6 986.1,910.1 987.0,911.2 C988.0,912.3 989.2,917.1 990.4,922.3 C991.5,927.5 992.6,935.6 993.7,942.2 C994.8,948.9 995.9,955.9 997.0,962.1 C998.1,968.4 999.2,973.6 1000.3,979.9 C1001.4,986.1 1002.4,992.4 1003.6,999.8 C1004.9,1007.2 1006.6,1017.1 1008.1,1024.1 C1009.5,1031.2 1011.0,1037.1 1012.5,1041.9 C1014.0,1046.7 1015.1,1049.6 1016.9,1052.9 C1018.8,1056.2 1021.0,1059.0 1023.6,1061.8 C1026.2,1064.6 1029.5,1067.5 1032.4,1069.5 C1035.4,1071.6 1038.3,1072.9 1041.3,1074.0 C1044.2,1075.0 1048.7,1075.4 1050.1,1075.7" fill="none" stroke="#72ecf5" stroke-width="1.9" stroke-linejoin="round" stroke-linecap="round"/>
<path d="M966.0,1075.5 C966.9,1074.0 970.1,1070.7 971.5,1066.2 C973.0,1061.7 973.8,1057.0 974.9,1048.5 C976.0,1040.0 977.1,1027.8 978.2,1015.3 C979.3,1002.7 980.4,986.5 981.5,973.2 C982.6,959.9 983.9,944.6 984.8,935.6 C985.7,926.5 986.3,922.7 987.0,919.0 C987.8,915.3 988.5,913.8 989.2,913.4 C990.0,913.1 990.7,917.1 991.5,916.8 C992.3,916.4 993.2,911.4 994.1,911.2 C995.0,911.0 996.0,914.2 997.0,915.6 C998.0,917.0 999.4,918.7 1000.3,919.6 C1001.2,920.6 1001.8,917.4 1002.5,921.2 C1003.3,924.9 1003.8,937.2 1004.8,942.2 C1005.7,947.2 1007.0,947.8 1008.1,951.1 C1009.2,954.4 1010.3,959.7 1011.4,962.1 C1012.5,964.5 1013.8,965.1 1014.7,965.5 C1015.6,965.8 1016.2,963.1 1016.9,964.4 C1017.7,965.6 1018.0,970.8 1019.1,973.2 C1020.2,975.6 1022.3,978.6 1023.6,978.8 C1024.9,978.9 1026.0,974.5 1026.9,974.3 C1027.8,974.1 1028.2,975.6 1029.1,977.6 C1030.0,979.7 1031.1,983.0 1032.4,986.5 C1033.7,990.0 1035.4,994.4 1036.9,998.7 C1038.3,1002.9 1039.8,1009.4 1041.3,1012.0 C1042.8,1014.5 1044.2,1013.1 1045.7,1014.2 C1047.2,1015.3 1048.7,1016.2 1050.1,1018.6 C1051.6,1021.0 1052.7,1025.8 1054.6,1028.6 C1056.4,1031.3 1059.2,1033.4 1061.2,1035.2 C1063.2,1037.1 1065.3,1037.6 1066.8,1039.6 C1068.2,1041.7 1068.8,1045.9 1070.1,1047.4 C1071.4,1048.9 1073.2,1047.6 1074.5,1048.5 C1075.8,1049.4 1076.7,1051.8 1077.8,1052.9 C1078.9,1054.0 1079.9,1053.9 1081.1,1055.1 C1082.4,1056.4 1083.7,1058.8 1085.6,1060.7 C1087.4,1062.5 1090.0,1064.4 1092.2,1066.2 C1094.4,1068.1 1096.3,1070.3 1098.9,1071.8 C1101.4,1073.2 1104.8,1074.0 1107.7,1074.6 C1110.7,1075.3 1115.1,1075.6 1116.6,1075.7" fill="none" stroke="#d3261d" stroke-width="2.0" stroke-linejoin="round" stroke-linecap="round"/>
<line x1="880.3" y1="1076.0" x2="1176.4" y2="1076.0" stroke="#000" stroke-width="1.6" stroke-linecap="butt" />
<line x1="879.2" y1="1066.5" x2="880.8" y2="1066.5" stroke="#666" stroke-width="1.0" stroke-linecap="butt" />
<line x1="879.2" y1="1057.1" x2="880.8" y2="1057.1" stroke="#666" stroke-width="1.0" stroke-linecap="butt" />
<line x1="879.2" y1="1047.6" x2="880.8" y2="1047.6" stroke="#666" stroke-width="1.0" stroke-linecap="butt" />
<line x1="879.2" y1="1038.2" x2="880.8" y2="1038.2" stroke="#666" stroke-width="1.0" stroke-linecap="butt" />
<line x1="879.2" y1="1028.7" x2="880.8" y2="1028.7" stroke="#666" stroke-width="1.0" stroke-linecap="butt" />
<line x1="879.2" y1="1019.3" x2="880.8" y2="1019.3" stroke="#666" stroke-width="1.0" stroke-linecap="butt" />
<line x1="879.2" y1="1009.8" x2="880.8" y2="1009.8" stroke="#666" stroke-width="1.0" stroke-linecap="butt" />
<line x1="879.2" y1="1000.4" x2="880.8" y2="1000.4" stroke="#666" stroke-width="1.0" stroke-linecap="butt" />
<line x1="879.2" y1="990.9" x2="880.8" y2="990.9" stroke="#666" stroke-width="1.0" stroke-linecap="butt" />
<line x1="879.2" y1="981.5" x2="880.8" y2="981.5" stroke="#666" stroke-width="1.0" stroke-linecap="butt" />
<line x1="879.2" y1="972.0" x2="880.8" y2="972.0" stroke="#666" stroke-width="1.0" stroke-linecap="butt" />
<line x1="879.2" y1="962.5" x2="880.8" y2="962.5" stroke="#666" stroke-width="1.0" stroke-linecap="butt" />
<line x1="879.2" y1="953.1" x2="880.8" y2="953.1" stroke="#666" stroke-width="1.0" stroke-linecap="butt" />
<line x1="879.2" y1="943.6" x2="880.8" y2="943.6" stroke="#666" stroke-width="1.0" stroke-linecap="butt" />
<line x1="879.2" y1="934.2" x2="880.8" y2="934.2" stroke="#666" stroke-width="1.0" stroke-linecap="butt" />
<line x1="879.2" y1="924.7" x2="880.8" y2="924.7" stroke="#666" stroke-width="1.0" stroke-linecap="butt" />
<line x1="879.2" y1="915.3" x2="880.8" y2="915.3" stroke="#666" stroke-width="1.0" stroke-linecap="butt" />
<line x1="879.2" y1="905.8" x2="880.8" y2="905.8" stroke="#666" stroke-width="1.0" stroke-linecap="butt" />
<line x1="879.2" y1="896.4" x2="880.8" y2="896.4" stroke="#666" stroke-width="1.0" stroke-linecap="butt" />
<line x1="896.9" y1="1076.0" x2="896.9" y2="1081.5" stroke="#000" stroke-width="1.6" stroke-linecap="butt" />
<line x1="973.1" y1="1076.0" x2="973.1" y2="1081.5" stroke="#000" stroke-width="1.6" stroke-linecap="butt" />
<line x1="1039.5" y1="1076.0" x2="1039.5" y2="1081.5" stroke="#000" stroke-width="1.6" stroke-linecap="butt" />
<line x1="1111.0" y1="1076.0" x2="1111.0" y2="1081.5" stroke="#000" stroke-width="1.6" stroke-linecap="butt" />
<line x1="1173.0" y1="1076.0" x2="1173.0" y2="1081.5" stroke="#000" stroke-width="1.6" stroke-linecap="butt" />
<line x1="920.7" y1="1076.0" x2="920.7" y2="1079.2" stroke="#111" stroke-width="1.1" stroke-linecap="butt" />
<line x1="931.3" y1="1076.0" x2="931.3" y2="1079.2" stroke="#111" stroke-width="1.1" stroke-linecap="butt" />
<line x1="938.3" y1="1076.0" x2="938.3" y2="1079.2" stroke="#111" stroke-width="1.1" stroke-linecap="butt" />
<line x1="943.6" y1="1076.0" x2="943.6" y2="1079.2" stroke="#111" stroke-width="1.1" stroke-linecap="butt" />
<line x1="947.8" y1="1076.0" x2="947.8" y2="1079.2" stroke="#111" stroke-width="1.1" stroke-linecap="butt" />
<line x1="951.3" y1="1076.0" x2="951.3" y2="1079.2" stroke="#111" stroke-width="1.1" stroke-linecap="butt" />
<line x1="954.2" y1="1076.0" x2="954.2" y2="1079.2" stroke="#111" stroke-width="1.1" stroke-linecap="butt" />
<line x1="956.8" y1="1076.0" x2="956.8" y2="1079.2" stroke="#111" stroke-width="1.1" stroke-linecap="butt" />
<rect x="959.1" y="1076.0" width="19" height="3.4" fill="#000"/>
<line x1="1002.2" y1="1076.0" x2="1002.2" y2="1079.2" stroke="#111" stroke-width="1.1" stroke-linecap="butt" />
<line x1="1012.5" y1="1076.0" x2="1012.5" y2="1079.2" stroke="#111" stroke-width="1.1" stroke-linecap="butt" />
<line x1="1019.4" y1="1076.0" x2="1019.4" y2="1079.2" stroke="#111" stroke-width="1.1" stroke-linecap="butt" />
<line x1="1024.5" y1="1076.0" x2="1024.5" y2="1079.2" stroke="#111" stroke-width="1.1" stroke-linecap="butt" />
<line x1="1028.5" y1="1076.0" x2="1028.5" y2="1079.2" stroke="#111" stroke-width="1.1" stroke-linecap="butt" />
<line x1="1031.9" y1="1076.0" x2="1031.9" y2="1079.2" stroke="#111" stroke-width="1.1" stroke-linecap="butt" />
<line x1="1034.8" y1="1076.0" x2="1034.8" y2="1079.2" stroke="#111" stroke-width="1.1" stroke-linecap="butt" />
<line x1="1037.3" y1="1076.0" x2="1037.3" y2="1079.2" stroke="#111" stroke-width="1.1" stroke-linecap="butt" />
<line x1="1061.0" y1="1076.0" x2="1061.0" y2="1079.2" stroke="#111" stroke-width="1.1" stroke-linecap="butt" />
<line x1="1073.6" y1="1076.0" x2="1073.6" y2="1079.2" stroke="#111" stroke-width="1.1" stroke-linecap="butt" />
<line x1="1082.6" y1="1076.0" x2="1082.6" y2="1079.2" stroke="#111" stroke-width="1.1" stroke-linecap="butt" />
<line x1="1089.5" y1="1076.0" x2="1089.5" y2="1079.2" stroke="#111" stroke-width="1.1" stroke-linecap="butt" />
<line x1="1095.2" y1="1076.0" x2="1095.2" y2="1079.2" stroke="#111" stroke-width="1.1" stroke-linecap="butt" />
<line x1="1100.0" y1="1076.0" x2="1100.0" y2="1079.2" stroke="#111" stroke-width="1.1" stroke-linecap="butt" />
<line x1="1104.1" y1="1076.0" x2="1104.1" y2="1079.2" stroke="#111" stroke-width="1.1" stroke-linecap="butt" />
<line x1="1107.8" y1="1076.0" x2="1107.8" y2="1079.2" stroke="#111" stroke-width="1.1" stroke-linecap="butt" />
<line x1="1129.7" y1="1076.0" x2="1129.7" y2="1079.2" stroke="#111" stroke-width="1.1" stroke-linecap="butt" />
<line x1="1140.6" y1="1076.0" x2="1140.6" y2="1079.2" stroke="#111" stroke-width="1.1" stroke-linecap="butt" />
<line x1="1148.4" y1="1076.0" x2="1148.4" y2="1079.2" stroke="#111" stroke-width="1.1" stroke-linecap="butt" />
<line x1="1154.4" y1="1076.0" x2="1154.4" y2="1079.2" stroke="#111" stroke-width="1.1" stroke-linecap="butt" />
<line x1="1159.3" y1="1076.0" x2="1159.3" y2="1079.2" stroke="#111" stroke-width="1.1" stroke-linecap="butt" />
<line x1="1163.4" y1="1076.0" x2="1163.4" y2="1079.2" stroke="#111" stroke-width="1.1" stroke-linecap="butt" />
<line x1="1167.0" y1="1076.0" x2="1167.0" y2="1079.2" stroke="#111" stroke-width="1.1" stroke-linecap="butt" />
<line x1="1170.2" y1="1076.0" x2="1170.2" y2="1079.2" stroke="#111" stroke-width="1.1" stroke-linecap="butt" />
<text x="897.4" y="1093.1" font-size="8.6" fill="#2a2a2a" text-anchor="start" font-weight="bold" letter-spacing="0.4">-10<tspan font-size="6.6" dy="-3.4" dx="0.6">4</tspan></text>
<text x="973.1" y="1093.1" font-size="8.6" fill="#2a2a2a" text-anchor="middle" font-weight="bold">0</text>
<text x="1041.0" y="1093.1" font-size="8.6" fill="#2a2a2a" text-anchor="start" font-weight="bold" letter-spacing="0.4">10<tspan font-size="6.6" dy="-3.4" dx="0.6">4</tspan></text>
<text x="1114.5" y="1093.1" font-size="8.6" fill="#2a2a2a" text-anchor="start" font-weight="bold" letter-spacing="0.4">10<tspan font-size="6.6" dy="-3.4" dx="0.6">5</tspan></text>
<text x="1175.4" y="1093.1" font-size="8.6" fill="#2a2a2a" text-anchor="end" font-weight="bold" letter-spacing="0.4">10<tspan font-size="6.6" dy="-3.4" dx="0.6">6</tspan></text>
<polygon points="96.3,62.0 110.2,62.0 111.9,569.5 98.6,569.5" fill="#000"/>
<polygon points="98.6,555.7 1231.0,555.5 1231.0,569.3 98.6,569.5" fill="#000"/>
<polygon points="82.3,64.5 101.8,25.0 122.2,64.5" fill="#000"/>
<polygon points="1228.6,541.8 1268.9,562.1 1228.6,582.5" fill="#000"/>
<polygon points="99.6,666.0 112.5,666.0 108.2,1161.4 95.4,1161.4" fill="#000"/>
<polygon points="102.9,1155.4 1261.0,1155.3 1261.0,1169.0 102.9,1168.3" fill="#000"/>
<polygon points="85.7,668.6 106.1,629.6 126.0,668.6" fill="#000"/>
<polygon points="1259.0,1142.2 1298.9,1162.3 1259.0,1182.5" fill="#000"/>
<text transform="translate(73.4,338.9) rotate(-90)" font-size="45" text-anchor="middle" stroke="#000" stroke-width="0.5" textLength="381.8" lengthAdjust="spacingAndGlyphs">Normalized to Mode</text>
<text transform="translate(71.6,925.0) rotate(-90)" font-size="45" text-anchor="middle" stroke="#000" stroke-width="0.5" textLength="378.8" lengthAdjust="spacingAndGlyphs">Normalized to Mode</text>
<text x="2.0" y="32.5" font-size="39" fill="#000" text-anchor="start" font-weight="bold" textLength="30.5" lengthAdjust="spacingAndGlyphs" >A</text>
<text x="3.0" y="1363.8" font-size="39" fill="#000" text-anchor="start" font-weight="bold" textLength="29.0" lengthAdjust="spacingAndGlyphs" >B</text>
<text x="1019.3" y="87.3" font-size="58" fill="#000" text-anchor="start" textLength="186.0" lengthAdjust="spacingAndGlyphs" stroke="#000" stroke-width="1.0">ICAM-1</text>
<text x="1013.0" y="149.3" font-size="42" fill="#a4a4a4" text-anchor="start" textLength="133.0" lengthAdjust="spacingAndGlyphs" stroke="#a4a4a4" stroke-width="0.9">isotype</text>
<text x="1012.5" y="200.6" font-size="43" fill="#8cf3f6" text-anchor="start" textLength="59.0" lengthAdjust="spacingAndGlyphs" stroke="#8cf3f6" stroke-width="1.8">NS</text>
<text x="1012.5" y="250.0" font-size="43" fill="#dc0a0a" text-anchor="start" textLength="77.0" lengthAdjust="spacingAndGlyphs" stroke="#dc0a0a" stroke-width="1.3">stim</text>
<text x="1020.3" y="710.6" font-size="58" fill="#000" text-anchor="start" textLength="206.0" lengthAdjust="spacingAndGlyphs" stroke="#000" stroke-width="1.0">VCAM-1</text>
<text x="1013.0" y="763.3" font-size="42" fill="#a4a4a4" text-anchor="start" textLength="133.0" lengthAdjust="spacingAndGlyphs" stroke="#a4a4a4" stroke-width="0.9">isotype</text>
<text x="1012.5" y="813.6" font-size="43" fill="#8cf3f6" text-anchor="start" textLength="59.0" lengthAdjust="spacingAndGlyphs" stroke="#8cf3f6" stroke-width="1.8">NS</text>
<text x="1012.5" y="863.0" font-size="43" fill="#dc0a0a" text-anchor="start" textLength="77.0" lengthAdjust="spacingAndGlyphs" stroke="#dc0a0a" stroke-width="1.3">stim</text>
<text x="491.3" y="612.0" font-size="41" fill="#000" text-anchor="start" textLength="419.0" lengthAdjust="spacingAndGlyphs" stroke="#000" stroke-width="0.6">Fluorescence intensity</text>
<text x="504.3" y="1218.5" font-size="41" fill="#000" text-anchor="start" textLength="418.5" lengthAdjust="spacingAndGlyphs" stroke="#000" stroke-width="0.6">Fluorescence intensity</text>
<text x="263.8" y="277.8" font-size="29.5" fill="#000" text-anchor="middle" textLength="63.0" lengthAdjust="spacingAndGlyphs" stroke="#000" stroke-width="0.3">HC1</text>
<text x="640.0" y="277.8" font-size="29.5" fill="#000" text-anchor="middle" textLength="65.0" lengthAdjust="spacingAndGlyphs" stroke="#000" stroke-width="0.3">HC2</text>
<text x="264.0" y="881.0" font-size="29.5" fill="#000" text-anchor="middle" textLength="63.0" lengthAdjust="spacingAndGlyphs" stroke="#000" stroke-width="0.3">HC1</text>
<text x="637.0" y="881.0" font-size="29.5" fill="#000" text-anchor="middle" textLength="65.0" lengthAdjust="spacingAndGlyphs" stroke="#000" stroke-width="0.3">HC2</text>
<text x="177.5" y="529.3" font-size="33" fill="#d61818" text-anchor="start" font-style="italic" textLength="132.0" lengthAdjust="spacingAndGlyphs" stroke="#d61818" stroke-width="0.5">TARDBP</text><text x="317.3" y="518.6" font-size="21.5" fill="#d61818" text-anchor="start" textLength="84.5" lengthAdjust="spacingAndGlyphs" stroke="#d61818" stroke-width="0.5">N345K/+</text>
<text x="495.5" y="529.3" font-size="33" fill="#d67a2e" text-anchor="start" font-style="italic" textLength="132.0" lengthAdjust="spacingAndGlyphs" stroke="#d67a2e" stroke-width="0.5">TARDBP</text><text x="637.0" y="518.6" font-size="21.5" fill="#d67a2e" text-anchor="start" textLength="135.5" lengthAdjust="spacingAndGlyphs" stroke="#d67a2e" stroke-width="0.5">K263E/K263E</text>
<text x="859.8" y="529.3" font-size="33" fill="#d67a2e" text-anchor="start" font-style="italic" textLength="132.0" lengthAdjust="spacingAndGlyphs" stroke="#d67a2e" stroke-width="0.5">TARDBP</text><text x="1001.5" y="518.6" font-size="21.5" fill="#d67a2e" text-anchor="start" textLength="142.5" lengthAdjust="spacingAndGlyphs" stroke="#d67a2e" stroke-width="0.5">G295S/G295S</text>
<text x="177.5" y="1127.7" font-size="33" fill="#d61818" text-anchor="start" font-style="italic" textLength="132.0" lengthAdjust="spacingAndGlyphs" stroke="#d61818" stroke-width="0.5">TARDBP</text><text x="317.3" y="1117.0" font-size="21.5" fill="#d61818" text-anchor="start" textLength="84.5" lengthAdjust="spacingAndGlyphs" stroke="#d61818" stroke-width="0.5">N345K/+</text>
<text x="483.4" y="1127.7" font-size="33" fill="#d67a2e" text-anchor="start" font-style="italic" textLength="132.0" lengthAdjust="spacingAndGlyphs" stroke="#d67a2e" stroke-width="0.5">TARDBP</text><text x="624.4" y="1117.0" font-size="21.5" fill="#d67a2e" text-anchor="start" textLength="137.0" lengthAdjust="spacingAndGlyphs" stroke="#d67a2e" stroke-width="0.5">K263E/K263E</text>
<text x="847.9" y="1127.7" font-size="33" fill="#d67a2e" text-anchor="start" font-style="italic" textLength="132.0" lengthAdjust="spacingAndGlyphs" stroke="#d67a2e" stroke-width="0.5">TARDBP</text><text x="989.5" y="1117.0" font-size="21.5" fill="#d67a2e" text-anchor="start" textLength="142.5" lengthAdjust="spacingAndGlyphs" stroke="#d67a2e" stroke-width="0.5">G295S/G295S</text>
<text x="681.0" y="1361.3" font-size="58" fill="#000" text-anchor="start" textLength="184.0" lengthAdjust="spacingAndGlyphs" stroke="#000" stroke-width="1.0">ICAM-1</text>
<line x1="167.0" y1="1470.2" x2="167.0" y2="1761.4" stroke="#000" stroke-width="4.7" stroke-linecap="butt" />
<line x1="150.0" y1="1759.2" x2="1390.0" y2="1759.2" stroke="#000" stroke-width="4.7" stroke-linecap="butt" />
<line x1="150.0" y1="1759.2" x2="166.0" y2="1759.2" stroke="#000" stroke-width="4" stroke-linecap="butt" />
<text x="148.8" y="1767.9" font-size="22" fill="#000" text-anchor="end" font-weight="bold" textLength="12.6" lengthAdjust="spacingAndGlyphs" >0</text>
<line x1="150.0" y1="1663.5" x2="166.0" y2="1663.5" stroke="#000" stroke-width="4" stroke-linecap="butt" />
<text x="148.8" y="1672.2" font-size="22" fill="#000" text-anchor="end" font-weight="bold" textLength="63.0" lengthAdjust="spacingAndGlyphs" >50000</text>
<line x1="150.0" y1="1567.7" x2="166.0" y2="1567.7" stroke="#000" stroke-width="4" stroke-linecap="butt" />
<text x="148.8" y="1576.4" font-size="22" fill="#000" text-anchor="end" font-weight="bold" textLength="75.6" lengthAdjust="spacingAndGlyphs" >100000</text>
<line x1="150.0" y1="1472.0" x2="166.0" y2="1472.0" stroke="#000" stroke-width="4" stroke-linecap="butt" />
<text x="148.8" y="1480.7" font-size="22" fill="#000" text-anchor="end" font-weight="bold" textLength="75.6" lengthAdjust="spacingAndGlyphs" >150000</text>
<text transform="translate(52.0,1616.6) rotate(-90)" font-size="28" text-anchor="middle" stroke="#000" stroke-width="0.5" font-weight="bold" textLength="47.0" lengthAdjust="spacingAndGlyphs">MFI</text>
<line x1="245.0" y1="1759.2" x2="245.0" y2="1774.2" stroke="#000" stroke-width="4" stroke-linecap="butt" />
<text x="245.0" y="1794.0" font-size="22.5" fill="#000" text-anchor="middle" font-weight="bold" textLength="44.8" lengthAdjust="spacingAndGlyphs" >HC1</text>
<line x1="363.0" y1="1759.2" x2="363.0" y2="1774.2" stroke="#000" stroke-width="4" stroke-linecap="butt" />
<text x="363.0" y="1794.0" font-size="22.5" fill="#000" text-anchor="middle" font-weight="bold" textLength="44.8" lengthAdjust="spacingAndGlyphs" >HC2</text>
<line x1="481.0" y1="1759.2" x2="481.0" y2="1774.2" stroke="#000" stroke-width="4" stroke-linecap="butt" />
<text x="481.0" y="1788.3" font-size="16" fill="#000" text-anchor="middle" font-weight="bold" textLength="112.5" lengthAdjust="spacingAndGlyphs" >K263E/K263E</text>
<line x1="599.0" y1="1759.2" x2="599.0" y2="1774.2" stroke="#000" stroke-width="4" stroke-linecap="butt" />
<text x="599.0" y="1788.3" font-size="16" fill="#000" text-anchor="middle" font-weight="bold" textLength="115.0" lengthAdjust="spacingAndGlyphs" >G295S/G295S</text>
<line x1="717.0" y1="1759.2" x2="717.0" y2="1774.2" stroke="#000" stroke-width="4" stroke-linecap="butt" />
<text x="717.0" y="1788.3" font-size="16" fill="#000" text-anchor="middle" font-weight="bold" textLength="70.0" lengthAdjust="spacingAndGlyphs" >N345K/+</text>
<line x1="835.5" y1="1759.2" x2="835.5" y2="1774.2" stroke="#000" stroke-width="4" stroke-linecap="butt" />
<text x="835.5" y="1794.0" font-size="22.5" fill="#000" text-anchor="middle" font-weight="bold" textLength="44.8" lengthAdjust="spacingAndGlyphs" >HC1</text>
<line x1="953.5" y1="1759.2" x2="953.5" y2="1774.2" stroke="#000" stroke-width="4" stroke-linecap="butt" />
<text x="953.5" y="1794.0" font-size="22.5" fill="#000" text-anchor="middle" font-weight="bold" textLength="44.8" lengthAdjust="spacingAndGlyphs" >HC2</text>
<line x1="1071.5" y1="1759.2" x2="1071.5" y2="1774.2" stroke="#000" stroke-width="4" stroke-linecap="butt" />
<text x="1071.5" y="1788.3" font-size="16" fill="#000" text-anchor="middle" font-weight="bold" textLength="112.5" lengthAdjust="spacingAndGlyphs" >K263E/K263E</text>
<line x1="1190.0" y1="1759.2" x2="1190.0" y2="1774.2" stroke="#000" stroke-width="4" stroke-linecap="butt" />
<text x="1190.0" y="1788.3" font-size="16" fill="#000" text-anchor="middle" font-weight="bold" textLength="115.0" lengthAdjust="spacingAndGlyphs" >G295S/G295S</text>
<line x1="1307.5" y1="1759.2" x2="1307.5" y2="1774.2" stroke="#000" stroke-width="4" stroke-linecap="butt" />
<text x="1307.5" y="1788.3" font-size="16" fill="#000" text-anchor="middle" font-weight="bold" textLength="70.0" lengthAdjust="spacingAndGlyphs" >N345K/+</text>
<line x1="217.0" y1="1806.4" x2="771.0" y2="1806.4" stroke="#000" stroke-width="4" stroke-linecap="round" />
<line x1="818.0" y1="1805.2" x2="1371.0" y2="1805.2" stroke="#000" stroke-width="4" stroke-linecap="round" />
<text x="500.0" y="1835.0" font-size="23" fill="#000" text-anchor="middle" textLength="33.5" lengthAdjust="spacingAndGlyphs" >NS</text>
<text x="1114.0" y="1833.0" font-size="23.5" fill="#000" text-anchor="middle" textLength="48.0" lengthAdjust="spacingAndGlyphs" >Stim</text>
<line x1="778.5" y1="1421.4" x2="778.5" y2="1803.0" stroke="#000" stroke-width="2.8" stroke-linecap="butt" stroke-dasharray="9.5,2.95" stroke-dashoffset="3"/>
<line x1="249.0" y1="1443.0" x2="727.0" y2="1443.0" stroke="#000" stroke-width="4.3" stroke-linecap="round" />
<text x="491.0" y="1429.0" font-size="24" fill="#000" text-anchor="middle" textLength="108.5" lengthAdjust="spacingAndGlyphs" >P=0.0015</text>
<line x1="372.0" y1="1489.0" x2="729.0" y2="1489.0" stroke="#000" stroke-width="4.3" stroke-linecap="round" />
<text x="580.0" y="1479.0" font-size="24" fill="#000" text-anchor="middle" textLength="122.0" lengthAdjust="spacingAndGlyphs" >P=&lt;0.0001</text>
<line x1="833.0" y1="1436.5" x2="1311.0" y2="1436.5" stroke="#000" stroke-width="4.3" stroke-linecap="round" />
<text x="1044.0" y="1427.0" font-size="24" fill="#000" text-anchor="middle" textLength="108.5" lengthAdjust="spacingAndGlyphs" >P=0.0006</text>
<line x1="974.0" y1="1489.5" x2="1311.0" y2="1489.5" stroke="#000" stroke-width="4.3" stroke-linecap="round" />
<text x="1117.0" y="1479.0" font-size="24" fill="#000" text-anchor="middle" textLength="122.0" lengthAdjust="spacingAndGlyphs" >P=&lt;0.0001</text>
<line x1="973.0" y1="1554.0" x2="1182.0" y2="1554.0" stroke="#000" stroke-width="4.3" stroke-linecap="round" />
<text x="1080.0" y="1545.0" font-size="24" fill="#000" text-anchor="middle" textLength="108.5" lengthAdjust="spacingAndGlyphs" >P=0.0002</text>
<line x1="206.0" y1="1727.0" x2="284.0" y2="1727.0" stroke="#000" stroke-width="2.7" stroke-linecap="butt" />
<line x1="324.0" y1="1748.5" x2="402.0" y2="1748.5" stroke="#000" stroke-width="2.7" stroke-linecap="butt" />
<line x1="442.0" y1="1749.0" x2="520.0" y2="1749.0" stroke="#000" stroke-width="2.7" stroke-linecap="butt" />
<line x1="560.0" y1="1730.5" x2="639.0" y2="1730.5" stroke="#000" stroke-width="2.7" stroke-linecap="butt" />
<line x1="678.5" y1="1682.5" x2="756.5" y2="1682.5" stroke="#000" stroke-width="2.7" stroke-linecap="butt" />
<line x1="796.5" y1="1688.5" x2="875.0" y2="1688.5" stroke="#000" stroke-width="2.7" stroke-linecap="butt" />
<line x1="914.0" y1="1735.0" x2="993.0" y2="1735.0" stroke="#000" stroke-width="2.7" stroke-linecap="butt" />
<line x1="1033.0" y1="1695.5" x2="1111.0" y2="1695.5" stroke="#000" stroke-width="2.7" stroke-linecap="butt" />
<line x1="1150.0" y1="1625.5" x2="1229.0" y2="1625.5" stroke="#000" stroke-width="2.7" stroke-linecap="butt" />
<line x1="1269.0" y1="1570.5" x2="1347.5" y2="1570.5" stroke="#000" stroke-width="2.7" stroke-linecap="butt" />
<circle cx="227.0" cy="1718.0" r="6.2" fill="#000000"/>
<circle cx="244.5" cy="1730.0" r="6.2" fill="#000000"/>
<circle cx="263.0" cy="1727.0" r="6.2" fill="#000000"/>
<circle cx="344.0" cy="1748.0" r="6.2" fill="#000000"/>
<circle cx="363.0" cy="1749.0" r="6.2" fill="#000000"/>
<circle cx="381.5" cy="1749.0" r="6.2" fill="#000000"/>
<circle cx="462.5" cy="1749.5" r="6.2" fill="#e8962e"/>
<circle cx="481.0" cy="1751.0" r="6.2" fill="#e8962e"/>
<circle cx="499.5" cy="1749.5" r="6.2" fill="#e8962e"/>
<circle cx="580.5" cy="1730.5" r="6.2" fill="#e8962e"/>
<circle cx="599.0" cy="1732.5" r="6.2" fill="#e8962e"/>
<circle cx="618.0" cy="1730.5" r="6.2" fill="#e8962e"/>
<circle cx="698.5" cy="1681.0" r="6.2" fill="#e0371f"/>
<circle cx="717.5" cy="1692.5" r="6.2" fill="#e0371f"/>
<circle cx="736.0" cy="1682.5" r="6.2" fill="#e0371f"/>
<circle cx="835.5" cy="1646.0" r="6.2" fill="#000000"/>
<circle cx="835.5" cy="1688.0" r="6.2" fill="#000000"/>
<circle cx="835.5" cy="1731.0" r="6.2" fill="#000000"/>
<circle cx="953.5" cy="1730.0" r="6.2" fill="#000000"/>
<circle cx="963.0" cy="1735.0" r="6.2" fill="#000000"/>
<circle cx="944.0" cy="1750.5" r="6.2" fill="#000000"/>
<circle cx="1062.5" cy="1692.0" r="6.2" fill="#e8962e"/>
<circle cx="1081.0" cy="1696.0" r="6.2" fill="#e8962e"/>
<circle cx="1071.5" cy="1712.5" r="6.2" fill="#e8962e"/>
<circle cx="1171.0" cy="1625.5" r="6.2" fill="#e8962e"/>
<circle cx="1208.5" cy="1625.5" r="6.2" fill="#e8962e"/>
<circle cx="1190.0" cy="1642.0" r="6.2" fill="#e8962e"/>
<circle cx="1307.5" cy="1536.5" r="6.2" fill="#e0371f"/>
<circle cx="1298.5" cy="1552.5" r="6.2" fill="#e0371f"/>
<circle cx="1317.0" cy="1559.5" r="6.2" fill="#e0371f"/>
<circle cx="1289.0" cy="1581.0" r="6.2" fill="#e0371f"/>
<circle cx="1326.5" cy="1583.0" r="6.2" fill="#e0371f"/>
<circle cx="1307.5" cy="1592.5" r="6.2" fill="#e0371f"/>
<text x="670.3" y="1894.2" font-size="58" fill="#000" text-anchor="start" textLength="205.0" lengthAdjust="spacingAndGlyphs" stroke="#000" stroke-width="1.0">VCAM-1</text>
<line x1="163.0" y1="1992.4" x2="163.0" y2="2293.4" stroke="#000" stroke-width="4.7" stroke-linecap="butt" />
<line x1="146.0" y1="2291.2" x2="1397.0" y2="2291.2" stroke="#000" stroke-width="4.7" stroke-linecap="butt" />
<line x1="146.0" y1="2291.2" x2="162.0" y2="2291.2" stroke="#000" stroke-width="4" stroke-linecap="butt" />
<text x="144.8" y="2299.9" font-size="22" fill="#000" text-anchor="end" font-weight="bold" textLength="12.8" lengthAdjust="spacingAndGlyphs" >0</text>
<line x1="146.0" y1="2216.9" x2="162.0" y2="2216.9" stroke="#000" stroke-width="4" stroke-linecap="butt" />
<text x="144.8" y="2225.6" font-size="22" fill="#000" text-anchor="end" font-weight="bold" textLength="51.0" lengthAdjust="spacingAndGlyphs" >5000</text>
<line x1="146.0" y1="2142.7" x2="162.0" y2="2142.7" stroke="#000" stroke-width="4" stroke-linecap="butt" />
<text x="144.8" y="2151.4" font-size="22" fill="#000" text-anchor="end" font-weight="bold" textLength="63.8" lengthAdjust="spacingAndGlyphs" >10000</text>
<line x1="146.0" y1="2068.4" x2="162.0" y2="2068.4" stroke="#000" stroke-width="4" stroke-linecap="butt" />
<text x="144.8" y="2077.1" font-size="22" fill="#000" text-anchor="end" font-weight="bold" textLength="63.8" lengthAdjust="spacingAndGlyphs" >15000</text>
<line x1="146.0" y1="1994.2" x2="162.0" y2="1994.2" stroke="#000" stroke-width="4" stroke-linecap="butt" />
<text x="144.8" y="2002.9" font-size="22" fill="#000" text-anchor="end" font-weight="bold" textLength="63.8" lengthAdjust="spacingAndGlyphs" >20000</text>
<text transform="translate(60.0,2143.0) rotate(-90)" font-size="28" text-anchor="middle" stroke="#000" stroke-width="0.5" font-weight="bold" textLength="48.5" lengthAdjust="spacingAndGlyphs">MFI</text>
<line x1="241.5" y1="2291.2" x2="241.5" y2="2306.2" stroke="#000" stroke-width="4" stroke-linecap="butt" />
<text x="241.5" y="2327.5" font-size="22.5" fill="#000" text-anchor="middle" font-weight="bold" textLength="44.8" lengthAdjust="spacingAndGlyphs" >HC1</text>
<line x1="361.0" y1="2291.2" x2="361.0" y2="2306.2" stroke="#000" stroke-width="4" stroke-linecap="butt" />
<text x="361.0" y="2327.5" font-size="22.5" fill="#000" text-anchor="middle" font-weight="bold" textLength="44.8" lengthAdjust="spacingAndGlyphs" >HC2</text>
<line x1="480.0" y1="2291.2" x2="480.0" y2="2306.2" stroke="#000" stroke-width="4" stroke-linecap="butt" />
<text x="480.0" y="2321.5" font-size="16" fill="#000" text-anchor="middle" font-weight="bold" textLength="112.5" lengthAdjust="spacingAndGlyphs" >K263E/K263E</text>
<line x1="599.0" y1="2291.2" x2="599.0" y2="2306.2" stroke="#000" stroke-width="4" stroke-linecap="butt" />
<text x="599.0" y="2321.5" font-size="16" fill="#000" text-anchor="middle" font-weight="bold" textLength="115.0" lengthAdjust="spacingAndGlyphs" >G295S/G295S</text>
<line x1="718.0" y1="2291.2" x2="718.0" y2="2306.2" stroke="#000" stroke-width="4" stroke-linecap="butt" />
<text x="718.0" y="2321.5" font-size="16" fill="#000" text-anchor="middle" font-weight="bold" textLength="70.0" lengthAdjust="spacingAndGlyphs" >N345K/+</text>
<line x1="838.5" y1="2291.2" x2="838.5" y2="2306.2" stroke="#000" stroke-width="4" stroke-linecap="butt" />
<text x="838.5" y="2327.5" font-size="22.5" fill="#000" text-anchor="middle" font-weight="bold" textLength="44.8" lengthAdjust="spacingAndGlyphs" >HC1</text>
<line x1="957.0" y1="2291.2" x2="957.0" y2="2306.2" stroke="#000" stroke-width="4" stroke-linecap="butt" />
<text x="957.0" y="2327.5" font-size="22.5" fill="#000" text-anchor="middle" font-weight="bold" textLength="44.8" lengthAdjust="spacingAndGlyphs" >HC2</text>
<line x1="1076.5" y1="2291.2" x2="1076.5" y2="2306.2" stroke="#000" stroke-width="4" stroke-linecap="butt" />
<text x="1076.5" y="2321.5" font-size="16" fill="#000" text-anchor="middle" font-weight="bold" textLength="112.5" lengthAdjust="spacingAndGlyphs" >K263E/K263E</text>
<line x1="1195.0" y1="2291.2" x2="1195.0" y2="2306.2" stroke="#000" stroke-width="4" stroke-linecap="butt" />
<text x="1195.0" y="2321.5" font-size="16" fill="#000" text-anchor="middle" font-weight="bold" textLength="115.0" lengthAdjust="spacingAndGlyphs" >G295S/G295S</text>
<line x1="1315.0" y1="2291.2" x2="1315.0" y2="2306.2" stroke="#000" stroke-width="4" stroke-linecap="butt" />
<text x="1315.0" y="2321.5" font-size="16" fill="#000" text-anchor="middle" font-weight="bold" textLength="70.0" lengthAdjust="spacingAndGlyphs" >N345K/+</text>
<line x1="194.0" y1="2333.6" x2="757.0" y2="2333.6" stroke="#000" stroke-width="4" stroke-linecap="round" />
<line x1="802.0" y1="2332.4" x2="1366.0" y2="2332.4" stroke="#000" stroke-width="4" stroke-linecap="round" />
<text x="480.0" y="2362.8" font-size="23" fill="#000" text-anchor="middle" textLength="33.5" lengthAdjust="spacingAndGlyphs" >NS</text>
<text x="1103.5" y="2360.8" font-size="23.5" fill="#000" text-anchor="middle" textLength="48.0" lengthAdjust="spacingAndGlyphs" >Stim</text>
<line x1="778.5" y1="1925.6" x2="778.5" y2="2308.0" stroke="#000" stroke-width="2.8" stroke-linecap="butt" stroke-dasharray="9.5,2.95" stroke-dashoffset="3"/>
<line x1="254.0" y1="1936.5" x2="727.0" y2="1936.5" stroke="#000" stroke-width="4.3" stroke-linecap="round" />
<text x="485.0" y="1925.0" font-size="24" fill="#000" text-anchor="middle" textLength="122.0" lengthAdjust="spacingAndGlyphs" >P=&lt;0.0001</text>
<line x1="362.0" y1="1993.0" x2="728.5" y2="1993.0" stroke="#000" stroke-width="4.3" stroke-linecap="round" />
<text x="557.0" y="1985.0" font-size="24" fill="#000" text-anchor="middle" textLength="122.0" lengthAdjust="spacingAndGlyphs" >P=&lt;0.0001</text>
<line x1="846.0" y1="1932.0" x2="1318.5" y2="1932.0" stroke="#000" stroke-width="4.3" stroke-linecap="round" />
<text x="1066.0" y="1925.0" font-size="24" fill="#000" text-anchor="middle" textLength="108.5" lengthAdjust="spacingAndGlyphs" >P=0.0003</text>
<line x1="952.5" y1="1988.5" x2="1319.5" y2="1988.5" stroke="#000" stroke-width="4.3" stroke-linecap="round" />
<text x="1142.5" y="1979.0" font-size="24" fill="#000" text-anchor="middle" textLength="108.5" lengthAdjust="spacingAndGlyphs" >P=0.0005</text>
<line x1="951.0" y1="2087.0" x2="1196.5" y2="2087.0" stroke="#000" stroke-width="4.3" stroke-linecap="round" />
<text x="1071.0" y="2080.0" font-size="24" fill="#000" text-anchor="middle" textLength="108.5" lengthAdjust="spacingAndGlyphs" >P=0.0005</text>
<line x1="202.0" y1="2272.0" x2="282.0" y2="2272.0" stroke="#000" stroke-width="2.7" stroke-linecap="butt" />
<line x1="322.0" y1="2266.0" x2="401.0" y2="2266.0" stroke="#000" stroke-width="2.7" stroke-linecap="butt" />
<line x1="441.0" y1="2266.0" x2="520.0" y2="2266.0" stroke="#000" stroke-width="2.7" stroke-linecap="butt" />
<line x1="560.0" y1="2251.5" x2="639.0" y2="2251.5" stroke="#000" stroke-width="2.7" stroke-linecap="butt" />
<line x1="678.5" y1="2209.5" x2="757.5" y2="2209.5" stroke="#000" stroke-width="2.7" stroke-linecap="butt" />
<line x1="799.0" y1="2271.0" x2="877.0" y2="2271.0" stroke="#000" stroke-width="2.7" stroke-linecap="butt" />
<line x1="918.0" y1="2259.0" x2="997.0" y2="2259.0" stroke="#000" stroke-width="2.7" stroke-linecap="butt" />
<line x1="1037.0" y1="2229.5" x2="1116.0" y2="2229.5" stroke="#000" stroke-width="2.7" stroke-linecap="butt" />
<line x1="1156.0" y1="2174.0" x2="1235.0" y2="2174.0" stroke="#000" stroke-width="2.7" stroke-linecap="butt" />
<line x1="1275.0" y1="2123.5" x2="1354.5" y2="2123.5" stroke="#000" stroke-width="2.7" stroke-linecap="butt" />
<circle cx="223.0" cy="2271.0" r="6.2" fill="#000000"/>
<circle cx="242.0" cy="2273.5" r="6.2" fill="#000000"/>
<circle cx="261.0" cy="2272.0" r="6.2" fill="#000000"/>
<circle cx="342.5" cy="2264.5" r="6.2" fill="#000000"/>
<circle cx="361.5" cy="2266.5" r="6.2" fill="#000000"/>
<circle cx="380.0" cy="2266.0" r="6.2" fill="#000000"/>
<circle cx="461.5" cy="2265.5" r="6.2" fill="#e8962e"/>
<circle cx="480.0" cy="2266.5" r="6.2" fill="#e8962e"/>
<circle cx="499.0" cy="2266.0" r="6.2" fill="#e8962e"/>
<circle cx="580.5" cy="2251.0" r="6.2" fill="#e8962e"/>
<circle cx="599.0" cy="2254.5" r="6.2" fill="#e8962e"/>
<circle cx="618.0" cy="2251.5" r="6.2" fill="#e8962e"/>
<circle cx="700.0" cy="2205.0" r="6.2" fill="#e0371f"/>
<circle cx="719.0" cy="2210.5" r="6.2" fill="#e0371f"/>
<circle cx="737.5" cy="2209.5" r="6.2" fill="#e0371f"/>
<circle cx="819.0" cy="2269.5" r="6.2" fill="#000000"/>
<circle cx="838.0" cy="2273.0" r="6.2" fill="#000000"/>
<circle cx="857.0" cy="2271.0" r="6.2" fill="#000000"/>
<circle cx="939.0" cy="2254.5" r="6.2" fill="#000000"/>
<circle cx="957.0" cy="2267.0" r="6.2" fill="#000000"/>
<circle cx="976.0" cy="2259.0" r="6.2" fill="#000000"/>
<circle cx="1058.0" cy="2229.0" r="6.2" fill="#e8962e"/>
<circle cx="1077.0" cy="2243.0" r="6.2" fill="#e8962e"/>
<circle cx="1095.5" cy="2229.5" r="6.2" fill="#e8962e"/>
<circle cx="1186.0" cy="2163.0" r="6.2" fill="#e8962e"/>
<circle cx="1205.5" cy="2174.0" r="6.2" fill="#e8962e"/>
<circle cx="1195.5" cy="2194.0" r="6.2" fill="#e8962e"/>
<circle cx="1315.0" cy="2046.5" r="6.2" fill="#e0371f"/>
<circle cx="1315.0" cy="2097.5" r="6.2" fill="#e0371f"/>
<circle cx="1305.5" cy="2120.0" r="6.2" fill="#e0371f"/>
<circle cx="1334.0" cy="2128.0" r="6.2" fill="#e0371f"/>
<circle cx="1324.0" cy="2143.5" r="6.2" fill="#e0371f"/>
<circle cx="1305.5" cy="2156.0" r="6.2" fill="#e0371f"/>
</svg>
</body></html>
